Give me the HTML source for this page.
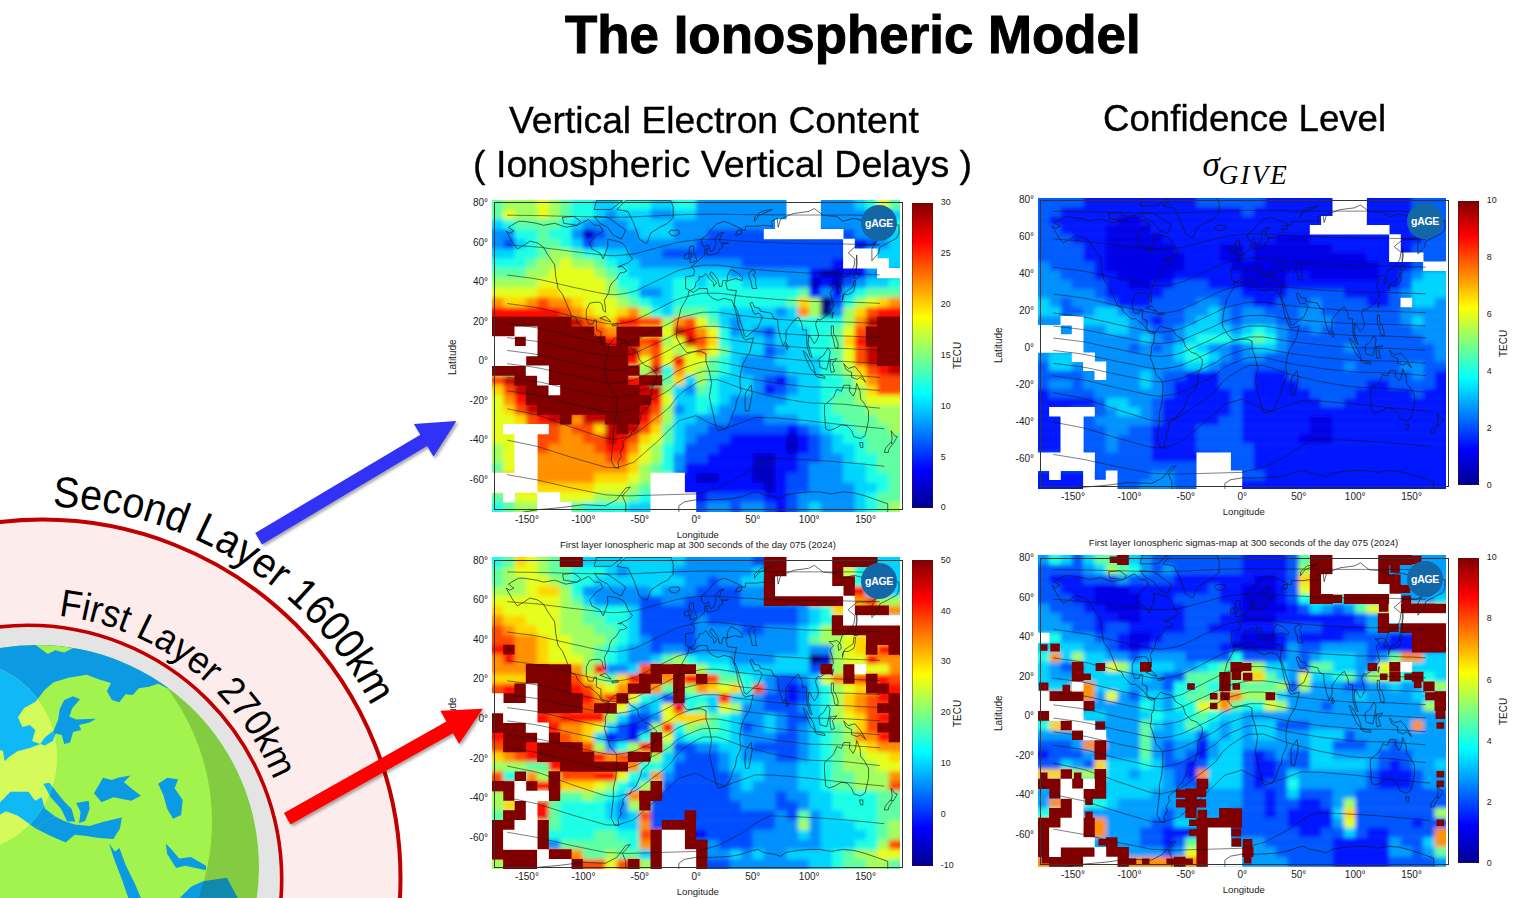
<!DOCTYPE html>
<html><head><meta charset="utf-8"><title>The Ionospheric Model</title>
<style>
html,body{margin:0;padding:0;background:#fff;}
body{width:1528px;height:898px;position:relative;overflow:hidden;font-family:"Liberation Sans",sans-serif;color:#000;}
.t{position:absolute;white-space:nowrap;line-height:1;transform-origin:0 0;}
.hm{position:absolute;display:block;}
.cb{position:absolute;background:linear-gradient(to top,#00008f 0%,#0000ff 12.5%,#00ffff 37.5%,#ffff00 62.5%,#ff0000 87.5%,#800000 100%);}
.ax{position:absolute;border:1px solid #333;box-sizing:border-box;}
.sm{font-size:10px;color:#222;}
.c{transform:translateX(-50%);}
.r{transform:translateX(-100%);}
</style></head><body>

<div class="t " id="t0" style="left:564.5px;top:6.8px;font-size:54px;font-weight:bold;transform:scaleX(0.979);-webkit-text-stroke:1px #000;">The Ionospheric Model</div>
<div class="t " id="t1" style="left:508.5px;top:101.9px;font-size:37.5px;transform:scaleX(0.993);-webkit-text-stroke:0.35px #000;">Vertical Electron Content</div>
<div class="t " id="t2" style="left:472.8px;top:145.5px;font-size:37.5px;transform:scaleX(1.002);-webkit-text-stroke:0.35px #000;">( Ionospheric Vertical Delays )</div>
<div class="t " id="t3" style="left:1102.8px;top:99.9px;font-size:37.5px;transform:scaleX(0.977);-webkit-text-stroke:0.35px #000;">Confidence Level</div>
<div class="t " id="t4" style="left:1202.5px;top:146.8px;font-size:35px;font-family:'Liberation Serif',serif;font-style:italic;"><span style="font-size:35px">&sigma;</span><span style="font-size:27px;position:relative;top:8.5px;left:-1px;letter-spacing:2.2px">GIVE</span></div>
<svg class="hm" style="left:491.5px;top:199.5px" width="408" height="312" viewBox="0 0 408 312">
<defs><filter id="bl1" x="-5%" y="-5%" width="110%" height="110%"><feGaussianBlur stdDeviation="2.2"/></filter><clipPath id="cp1"><rect x="0" y="0" width="408" height="312"/></clipPath></defs>
<g clip-path="url(#cp1)"><g filter="url(#bl1)">
<rect x="-9.1" y="-7.8" width="20.7" height="17.9" fill="#5effa2"/>
<rect x="11.3" y="-7.8" width="34.3" height="17.9" fill="#a2ff5e"/>
<rect x="45.3" y="-7.8" width="11.6" height="17.9" fill="#e5ff1a"/>
<rect x="56.7" y="-7.8" width="11.6" height="17.9" fill="#a2ff5e"/>
<rect x="68.0" y="-7.8" width="11.6" height="17.9" fill="#5effa2"/>
<rect x="79.3" y="-7.8" width="23.0" height="17.9" fill="#1affe5"/>
<rect x="102.0" y="-7.8" width="23.0" height="17.9" fill="#00d4ff"/>
<rect x="124.7" y="-7.8" width="34.3" height="17.9" fill="#1affe5"/>
<rect x="158.7" y="-7.8" width="23.0" height="17.9" fill="#00d4ff"/>
<rect x="181.3" y="-7.8" width="23.0" height="17.9" fill="#1affe5"/>
<rect x="204.0" y="-7.8" width="159.0" height="17.9" fill="#0091ff"/>
<rect x="362.7" y="-7.8" width="11.6" height="17.9" fill="#00d4ff"/>
<rect x="374.0" y="-7.8" width="11.6" height="17.9" fill="#1affe5"/>
<rect x="385.3" y="-7.8" width="11.6" height="17.9" fill="#e5ff1a"/>
<rect x="396.7" y="-7.8" width="20.7" height="17.9" fill="#5effa2"/>
<rect x="-9.1" y="9.8" width="20.7" height="10.1" fill="#5effa2"/>
<rect x="11.3" y="9.8" width="11.6" height="10.1" fill="#e5ff1a"/>
<rect x="22.7" y="9.8" width="23.0" height="10.1" fill="#a2ff5e"/>
<rect x="45.3" y="9.8" width="11.6" height="10.1" fill="#e5ff1a"/>
<rect x="56.7" y="9.8" width="11.6" height="10.1" fill="#a2ff5e"/>
<rect x="68.0" y="9.8" width="11.6" height="10.1" fill="#5effa2"/>
<rect x="79.3" y="9.8" width="23.0" height="10.1" fill="#1affe5"/>
<rect x="102.0" y="9.8" width="11.6" height="10.1" fill="#00d4ff"/>
<rect x="113.3" y="9.8" width="11.6" height="10.1" fill="#0091ff"/>
<rect x="124.7" y="9.8" width="34.3" height="10.1" fill="#00d4ff"/>
<rect x="158.7" y="9.8" width="23.0" height="10.1" fill="#0091ff"/>
<rect x="181.3" y="9.8" width="23.0" height="10.1" fill="#00d4ff"/>
<rect x="204.0" y="9.8" width="170.3" height="10.1" fill="#0091ff"/>
<rect x="374.0" y="9.8" width="43.4" height="10.1" fill="#00d4ff"/>
<rect x="-9.1" y="19.5" width="20.7" height="10.1" fill="#00d4ff"/>
<rect x="11.3" y="19.5" width="11.6" height="10.1" fill="#1affe5"/>
<rect x="22.7" y="19.5" width="45.6" height="10.1" fill="#5effa2"/>
<rect x="68.0" y="19.5" width="11.6" height="10.1" fill="#1affe5"/>
<rect x="79.3" y="19.5" width="11.6" height="10.1" fill="#00d4ff"/>
<rect x="90.7" y="19.5" width="45.6" height="10.1" fill="#0091ff"/>
<rect x="136.0" y="19.5" width="45.6" height="10.1" fill="#00d4ff"/>
<rect x="181.3" y="19.5" width="193.0" height="10.1" fill="#0091ff"/>
<rect x="374.0" y="19.5" width="23.0" height="10.1" fill="#00d4ff"/>
<rect x="396.7" y="19.5" width="20.7" height="10.1" fill="#1affe5"/>
<rect x="-9.1" y="29.2" width="32.0" height="10.1" fill="#0091ff"/>
<rect x="22.7" y="29.2" width="23.0" height="10.1" fill="#1affe5"/>
<rect x="45.3" y="29.2" width="11.6" height="10.1" fill="#5effa2"/>
<rect x="56.7" y="29.2" width="23.0" height="10.1" fill="#1affe5"/>
<rect x="79.3" y="29.2" width="11.6" height="10.1" fill="#0091ff"/>
<rect x="90.7" y="29.2" width="11.6" height="10.1" fill="#0000c3"/>
<rect x="102.0" y="29.2" width="11.6" height="10.1" fill="#004dff"/>
<rect x="113.3" y="29.2" width="34.3" height="10.1" fill="#0091ff"/>
<rect x="147.3" y="29.2" width="34.3" height="10.1" fill="#00d4ff"/>
<rect x="181.3" y="29.2" width="34.3" height="10.1" fill="#0091ff"/>
<rect x="215.3" y="29.2" width="147.6" height="10.1" fill="#004dff"/>
<rect x="362.7" y="29.2" width="23.0" height="10.1" fill="#0091ff"/>
<rect x="385.3" y="29.2" width="32.0" height="10.1" fill="#00d4ff"/>
<rect x="-9.1" y="39.0" width="20.7" height="10.1" fill="#0091ff"/>
<rect x="11.3" y="39.0" width="11.6" height="10.1" fill="#004dff"/>
<rect x="22.7" y="39.0" width="11.6" height="10.1" fill="#00d4ff"/>
<rect x="34.0" y="39.0" width="11.6" height="10.1" fill="#1affe5"/>
<rect x="45.3" y="39.0" width="23.0" height="10.1" fill="#5effa2"/>
<rect x="68.0" y="39.0" width="11.6" height="10.1" fill="#1affe5"/>
<rect x="79.3" y="39.0" width="11.6" height="10.1" fill="#00d4ff"/>
<rect x="90.7" y="39.0" width="11.6" height="10.1" fill="#004dff"/>
<rect x="102.0" y="39.0" width="102.3" height="10.1" fill="#0091ff"/>
<rect x="204.0" y="39.0" width="159.0" height="10.1" fill="#004dff"/>
<rect x="362.7" y="39.0" width="11.6" height="10.1" fill="#0008ff"/>
<rect x="374.0" y="39.0" width="11.6" height="10.1" fill="#004dff"/>
<rect x="385.3" y="39.0" width="11.6" height="10.1" fill="#0091ff"/>
<rect x="396.7" y="39.0" width="20.7" height="10.1" fill="#00d4ff"/>
<rect x="-9.1" y="48.8" width="32.0" height="10.1" fill="#00d4ff"/>
<rect x="22.7" y="48.8" width="23.0" height="10.1" fill="#1affe5"/>
<rect x="45.3" y="48.8" width="11.6" height="10.1" fill="#5effa2"/>
<rect x="56.7" y="48.8" width="23.0" height="10.1" fill="#a2ff5e"/>
<rect x="79.3" y="48.8" width="11.6" height="10.1" fill="#5effa2"/>
<rect x="90.7" y="48.8" width="23.0" height="10.1" fill="#1affe5"/>
<rect x="113.3" y="48.8" width="23.0" height="10.1" fill="#00d4ff"/>
<rect x="136.0" y="48.8" width="34.3" height="10.1" fill="#0091ff"/>
<rect x="170.0" y="48.8" width="204.3" height="10.1" fill="#004dff"/>
<rect x="374.0" y="48.8" width="43.4" height="10.1" fill="#00d4ff"/>
<rect x="-9.1" y="58.5" width="43.4" height="10.1" fill="#1affe5"/>
<rect x="34.0" y="58.5" width="11.6" height="10.1" fill="#5effa2"/>
<rect x="45.3" y="58.5" width="23.0" height="10.1" fill="#a2ff5e"/>
<rect x="68.0" y="58.5" width="11.6" height="10.1" fill="#e5ff1a"/>
<rect x="79.3" y="58.5" width="23.0" height="10.1" fill="#a2ff5e"/>
<rect x="102.0" y="58.5" width="11.6" height="10.1" fill="#5effa2"/>
<rect x="113.3" y="58.5" width="11.6" height="10.1" fill="#1affe5"/>
<rect x="124.7" y="58.5" width="23.0" height="10.1" fill="#00d4ff"/>
<rect x="147.3" y="58.5" width="102.3" height="10.1" fill="#0091ff"/>
<rect x="249.3" y="58.5" width="91.0" height="10.1" fill="#004dff"/>
<rect x="340.0" y="58.5" width="34.3" height="10.1" fill="#0008ff"/>
<rect x="374.0" y="58.5" width="43.4" height="10.1" fill="#00d4ff"/>
<rect x="-9.1" y="68.2" width="43.4" height="10.1" fill="#5effa2"/>
<rect x="34.0" y="68.2" width="23.0" height="10.1" fill="#a2ff5e"/>
<rect x="56.7" y="68.2" width="45.6" height="10.1" fill="#e5ff1a"/>
<rect x="102.0" y="68.2" width="11.6" height="10.1" fill="#a2ff5e"/>
<rect x="113.3" y="68.2" width="11.6" height="10.1" fill="#5effa2"/>
<rect x="124.7" y="68.2" width="11.6" height="10.1" fill="#1affe5"/>
<rect x="136.0" y="68.2" width="102.3" height="10.1" fill="#00d4ff"/>
<rect x="238.0" y="68.2" width="79.6" height="10.1" fill="#0091ff"/>
<rect x="317.3" y="68.2" width="11.6" height="10.1" fill="#0008ff"/>
<rect x="328.7" y="68.2" width="23.0" height="10.1" fill="#0000c3"/>
<rect x="351.3" y="68.2" width="23.0" height="10.1" fill="#0008ff"/>
<rect x="374.0" y="68.2" width="43.4" height="10.1" fill="#0091ff"/>
<rect x="-9.1" y="78.0" width="54.7" height="10.1" fill="#a2ff5e"/>
<rect x="45.3" y="78.0" width="68.3" height="10.1" fill="#e5ff1a"/>
<rect x="113.3" y="78.0" width="11.6" height="10.1" fill="#a2ff5e"/>
<rect x="124.7" y="78.0" width="23.0" height="10.1" fill="#1affe5"/>
<rect x="147.3" y="78.0" width="34.3" height="10.1" fill="#00d4ff"/>
<rect x="181.3" y="78.0" width="23.0" height="10.1" fill="#1affe5"/>
<rect x="204.0" y="78.0" width="11.6" height="10.1" fill="#00d4ff"/>
<rect x="215.3" y="78.0" width="34.3" height="10.1" fill="#1affe5"/>
<rect x="249.3" y="78.0" width="45.6" height="10.1" fill="#00d4ff"/>
<rect x="294.7" y="78.0" width="23.0" height="10.1" fill="#0091ff"/>
<rect x="317.3" y="78.0" width="11.6" height="10.1" fill="#0000c3"/>
<rect x="328.7" y="78.0" width="11.6" height="10.1" fill="#0008ff"/>
<rect x="340.0" y="78.0" width="11.6" height="10.1" fill="#0000c3"/>
<rect x="351.3" y="78.0" width="11.6" height="10.1" fill="#004dff"/>
<rect x="362.7" y="78.0" width="11.6" height="10.1" fill="#0091ff"/>
<rect x="374.0" y="78.0" width="23.0" height="10.1" fill="#00d4ff"/>
<rect x="396.7" y="78.0" width="20.7" height="10.1" fill="#1affe5"/>
<rect x="-9.1" y="87.8" width="54.7" height="10.1" fill="#e5ff1a"/>
<rect x="45.3" y="87.8" width="23.0" height="10.1" fill="#ffd500"/>
<rect x="68.0" y="87.8" width="45.6" height="10.1" fill="#e5ff1a"/>
<rect x="113.3" y="87.8" width="11.6" height="10.1" fill="#a2ff5e"/>
<rect x="124.7" y="87.8" width="11.6" height="10.1" fill="#5effa2"/>
<rect x="136.0" y="87.8" width="11.6" height="10.1" fill="#1affe5"/>
<rect x="147.3" y="87.8" width="23.0" height="10.1" fill="#0091ff"/>
<rect x="170.0" y="87.8" width="11.6" height="10.1" fill="#00d4ff"/>
<rect x="181.3" y="87.8" width="125.0" height="10.1" fill="#1affe5"/>
<rect x="306.0" y="87.8" width="11.6" height="10.1" fill="#5effa2"/>
<rect x="317.3" y="87.8" width="11.6" height="10.1" fill="#0008ff"/>
<rect x="328.7" y="87.8" width="11.6" height="10.1" fill="#0091ff"/>
<rect x="340.0" y="87.8" width="11.6" height="10.1" fill="#0008ff"/>
<rect x="351.3" y="87.8" width="11.6" height="10.1" fill="#00d4ff"/>
<rect x="362.7" y="87.8" width="11.6" height="10.1" fill="#1affe5"/>
<rect x="374.0" y="87.8" width="43.4" height="10.1" fill="#5effa2"/>
<rect x="-9.1" y="97.5" width="20.7" height="10.1" fill="#ff9100"/>
<rect x="11.3" y="97.5" width="23.0" height="10.1" fill="#ffd500"/>
<rect x="34.0" y="97.5" width="11.6" height="10.1" fill="#ff9100"/>
<rect x="45.3" y="97.5" width="11.6" height="10.1" fill="#ff4c00"/>
<rect x="56.7" y="97.5" width="23.0" height="10.1" fill="#ff9100"/>
<rect x="79.3" y="97.5" width="11.6" height="10.1" fill="#ffd500"/>
<rect x="90.7" y="97.5" width="34.3" height="10.1" fill="#e5ff1a"/>
<rect x="124.7" y="97.5" width="11.6" height="10.1" fill="#a2ff5e"/>
<rect x="136.0" y="97.5" width="11.6" height="10.1" fill="#5effa2"/>
<rect x="147.3" y="97.5" width="11.6" height="10.1" fill="#1affe5"/>
<rect x="158.7" y="97.5" width="23.0" height="10.1" fill="#00d4ff"/>
<rect x="181.3" y="97.5" width="113.6" height="10.1" fill="#1affe5"/>
<rect x="294.7" y="97.5" width="11.6" height="10.1" fill="#5effa2"/>
<rect x="306.0" y="97.5" width="11.6" height="10.1" fill="#ffd500"/>
<rect x="317.3" y="97.5" width="11.6" height="10.1" fill="#a2ff5e"/>
<rect x="328.7" y="97.5" width="11.6" height="10.1" fill="#000080"/>
<rect x="340.0" y="97.5" width="11.6" height="10.1" fill="#004dff"/>
<rect x="351.3" y="97.5" width="11.6" height="10.1" fill="#1affe5"/>
<rect x="362.7" y="97.5" width="11.6" height="10.1" fill="#a2ff5e"/>
<rect x="374.0" y="97.5" width="11.6" height="10.1" fill="#e5ff1a"/>
<rect x="385.3" y="97.5" width="11.6" height="10.1" fill="#ffd500"/>
<rect x="396.7" y="97.5" width="20.7" height="10.1" fill="#ff9100"/>
<rect x="-9.1" y="107.2" width="77.4" height="10.1" fill="#ff0800"/>
<rect x="68.0" y="107.2" width="11.6" height="10.1" fill="#ff4c00"/>
<rect x="79.3" y="107.2" width="11.6" height="10.1" fill="#ff9100"/>
<rect x="90.7" y="107.2" width="11.6" height="10.1" fill="#ffd500"/>
<rect x="102.0" y="107.2" width="23.0" height="10.1" fill="#e5ff1a"/>
<rect x="124.7" y="107.2" width="11.6" height="10.1" fill="#ffd500"/>
<rect x="136.0" y="107.2" width="11.6" height="10.1" fill="#ff9100"/>
<rect x="147.3" y="107.2" width="11.6" height="10.1" fill="#a2ff5e"/>
<rect x="158.7" y="107.2" width="11.6" height="10.1" fill="#1affe5"/>
<rect x="170.0" y="107.2" width="11.6" height="10.1" fill="#00d4ff"/>
<rect x="181.3" y="107.2" width="34.3" height="10.1" fill="#5effa2"/>
<rect x="215.3" y="107.2" width="11.6" height="10.1" fill="#1affe5"/>
<rect x="226.7" y="107.2" width="57.0" height="10.1" fill="#00d4ff"/>
<rect x="283.3" y="107.2" width="11.6" height="10.1" fill="#0091ff"/>
<rect x="294.7" y="107.2" width="11.6" height="10.1" fill="#00d4ff"/>
<rect x="306.0" y="107.2" width="11.6" height="10.1" fill="#ff9100"/>
<rect x="317.3" y="107.2" width="11.6" height="10.1" fill="#a2ff5e"/>
<rect x="328.7" y="107.2" width="11.6" height="10.1" fill="#000080"/>
<rect x="340.0" y="107.2" width="11.6" height="10.1" fill="#0091ff"/>
<rect x="351.3" y="107.2" width="11.6" height="10.1" fill="#a2ff5e"/>
<rect x="362.7" y="107.2" width="11.6" height="10.1" fill="#ffd500"/>
<rect x="374.0" y="107.2" width="11.6" height="10.1" fill="#ff4c00"/>
<rect x="385.3" y="107.2" width="32.0" height="10.1" fill="#ff0800"/>
<rect x="-9.1" y="117.0" width="100.0" height="10.1" fill="#c30000"/>
<rect x="90.7" y="117.0" width="11.6" height="10.1" fill="#ff4c00"/>
<rect x="102.0" y="117.0" width="11.6" height="10.1" fill="#ff9100"/>
<rect x="113.3" y="117.0" width="11.6" height="10.1" fill="#ffd500"/>
<rect x="124.7" y="117.0" width="23.0" height="10.1" fill="#ff0800"/>
<rect x="147.3" y="117.0" width="23.0" height="10.1" fill="#ff4c00"/>
<rect x="170.0" y="117.0" width="11.6" height="10.1" fill="#a2ff5e"/>
<rect x="181.3" y="117.0" width="11.6" height="10.1" fill="#ff9100"/>
<rect x="192.7" y="117.0" width="11.6" height="10.1" fill="#ff4c00"/>
<rect x="204.0" y="117.0" width="11.6" height="10.1" fill="#e5ff1a"/>
<rect x="215.3" y="117.0" width="11.6" height="10.1" fill="#5effa2"/>
<rect x="226.7" y="117.0" width="11.6" height="10.1" fill="#00d4ff"/>
<rect x="238.0" y="117.0" width="11.6" height="10.1" fill="#0091ff"/>
<rect x="249.3" y="117.0" width="57.0" height="10.1" fill="#00d4ff"/>
<rect x="306.0" y="117.0" width="45.6" height="10.1" fill="#1affe5"/>
<rect x="351.3" y="117.0" width="11.6" height="10.1" fill="#a2ff5e"/>
<rect x="362.7" y="117.0" width="11.6" height="10.1" fill="#ff9100"/>
<rect x="374.0" y="117.0" width="43.4" height="10.1" fill="#c30000"/>
<rect x="-9.1" y="126.8" width="122.7" height="10.1" fill="#ff4c00"/>
<rect x="113.3" y="126.8" width="34.3" height="10.1" fill="#ff9100"/>
<rect x="147.3" y="126.8" width="34.3" height="10.1" fill="#e5ff1a"/>
<rect x="181.3" y="126.8" width="11.6" height="10.1" fill="#c30000"/>
<rect x="192.7" y="126.8" width="11.6" height="10.1" fill="#ff0800"/>
<rect x="204.0" y="126.8" width="11.6" height="10.1" fill="#ff9100"/>
<rect x="215.3" y="126.8" width="11.6" height="10.1" fill="#e5ff1a"/>
<rect x="226.7" y="126.8" width="11.6" height="10.1" fill="#1affe5"/>
<rect x="238.0" y="126.8" width="11.6" height="10.1" fill="#0091ff"/>
<rect x="249.3" y="126.8" width="11.6" height="10.1" fill="#00d4ff"/>
<rect x="260.7" y="126.8" width="11.6" height="10.1" fill="#0091ff"/>
<rect x="272.0" y="126.8" width="11.6" height="10.1" fill="#004dff"/>
<rect x="283.3" y="126.8" width="34.3" height="10.1" fill="#00d4ff"/>
<rect x="317.3" y="126.8" width="23.0" height="10.1" fill="#1affe5"/>
<rect x="340.0" y="126.8" width="11.6" height="10.1" fill="#5effa2"/>
<rect x="351.3" y="126.8" width="11.6" height="10.1" fill="#e5ff1a"/>
<rect x="362.7" y="126.8" width="54.7" height="10.1" fill="#ff4c00"/>
<rect x="-9.1" y="136.5" width="145.4" height="10.1" fill="#ff0800"/>
<rect x="136.0" y="136.5" width="23.0" height="10.1" fill="#ff4c00"/>
<rect x="158.7" y="136.5" width="11.6" height="10.1" fill="#ff0800"/>
<rect x="170.0" y="136.5" width="11.6" height="10.1" fill="#a2ff5e"/>
<rect x="181.3" y="136.5" width="11.6" height="10.1" fill="#e5ff1a"/>
<rect x="192.7" y="136.5" width="11.6" height="10.1" fill="#c30000"/>
<rect x="204.0" y="136.5" width="11.6" height="10.1" fill="#ff4c00"/>
<rect x="215.3" y="136.5" width="11.6" height="10.1" fill="#ffd500"/>
<rect x="226.7" y="136.5" width="11.6" height="10.1" fill="#1affe5"/>
<rect x="238.0" y="136.5" width="34.3" height="10.1" fill="#00d4ff"/>
<rect x="272.0" y="136.5" width="11.6" height="10.1" fill="#0091ff"/>
<rect x="283.3" y="136.5" width="34.3" height="10.1" fill="#00d4ff"/>
<rect x="317.3" y="136.5" width="23.0" height="10.1" fill="#1affe5"/>
<rect x="340.0" y="136.5" width="11.6" height="10.1" fill="#5effa2"/>
<rect x="351.3" y="136.5" width="11.6" height="10.1" fill="#ffd500"/>
<rect x="362.7" y="136.5" width="54.7" height="10.1" fill="#ff0800"/>
<rect x="-9.1" y="146.2" width="156.7" height="10.1" fill="#c30000"/>
<rect x="147.3" y="146.2" width="11.6" height="10.1" fill="#ff9100"/>
<rect x="158.7" y="146.2" width="11.6" height="10.1" fill="#ff4c00"/>
<rect x="170.0" y="146.2" width="11.6" height="10.1" fill="#e5ff1a"/>
<rect x="181.3" y="146.2" width="11.6" height="10.1" fill="#a2ff5e"/>
<rect x="192.7" y="146.2" width="11.6" height="10.1" fill="#e5ff1a"/>
<rect x="204.0" y="146.2" width="11.6" height="10.1" fill="#ff9100"/>
<rect x="215.3" y="146.2" width="11.6" height="10.1" fill="#e5ff1a"/>
<rect x="226.7" y="146.2" width="11.6" height="10.1" fill="#5effa2"/>
<rect x="238.0" y="146.2" width="34.3" height="10.1" fill="#00d4ff"/>
<rect x="272.0" y="146.2" width="11.6" height="10.1" fill="#004dff"/>
<rect x="283.3" y="146.2" width="11.6" height="10.1" fill="#0091ff"/>
<rect x="294.7" y="146.2" width="23.0" height="10.1" fill="#00d4ff"/>
<rect x="317.3" y="146.2" width="23.0" height="10.1" fill="#1affe5"/>
<rect x="340.0" y="146.2" width="11.6" height="10.1" fill="#5effa2"/>
<rect x="351.3" y="146.2" width="11.6" height="10.1" fill="#e5ff1a"/>
<rect x="362.7" y="146.2" width="11.6" height="10.1" fill="#ff4c00"/>
<rect x="374.0" y="146.2" width="43.4" height="10.1" fill="#c30000"/>
<rect x="-9.1" y="156.0" width="156.7" height="10.1" fill="#ff0800"/>
<rect x="147.3" y="156.0" width="11.6" height="10.1" fill="#e5ff1a"/>
<rect x="158.7" y="156.0" width="11.6" height="10.1" fill="#ff4c00"/>
<rect x="170.0" y="156.0" width="11.6" height="10.1" fill="#e5ff1a"/>
<rect x="181.3" y="156.0" width="11.6" height="10.1" fill="#ff0800"/>
<rect x="192.7" y="156.0" width="23.0" height="10.1" fill="#e5ff1a"/>
<rect x="215.3" y="156.0" width="11.6" height="10.1" fill="#5effa2"/>
<rect x="226.7" y="156.0" width="11.6" height="10.1" fill="#1affe5"/>
<rect x="238.0" y="156.0" width="11.6" height="10.1" fill="#00d4ff"/>
<rect x="249.3" y="156.0" width="34.3" height="10.1" fill="#0091ff"/>
<rect x="283.3" y="156.0" width="45.6" height="10.1" fill="#00d4ff"/>
<rect x="328.7" y="156.0" width="11.6" height="10.1" fill="#1affe5"/>
<rect x="340.0" y="156.0" width="11.6" height="10.1" fill="#5effa2"/>
<rect x="351.3" y="156.0" width="11.6" height="10.1" fill="#e5ff1a"/>
<rect x="362.7" y="156.0" width="11.6" height="10.1" fill="#ff4c00"/>
<rect x="374.0" y="156.0" width="43.4" height="10.1" fill="#c30000"/>
<rect x="-9.1" y="165.8" width="168.0" height="10.1" fill="#a2ff5e"/>
<rect x="158.7" y="165.8" width="11.6" height="10.1" fill="#c30000"/>
<rect x="170.0" y="165.8" width="11.6" height="10.1" fill="#1affe5"/>
<rect x="181.3" y="165.8" width="11.6" height="10.1" fill="#ff9100"/>
<rect x="192.7" y="165.8" width="11.6" height="10.1" fill="#e5ff1a"/>
<rect x="204.0" y="165.8" width="11.6" height="10.1" fill="#a2ff5e"/>
<rect x="215.3" y="165.8" width="11.6" height="10.1" fill="#5effa2"/>
<rect x="226.7" y="165.8" width="11.6" height="10.1" fill="#1affe5"/>
<rect x="238.0" y="165.8" width="11.6" height="10.1" fill="#00d4ff"/>
<rect x="249.3" y="165.8" width="45.6" height="10.1" fill="#0091ff"/>
<rect x="294.7" y="165.8" width="34.3" height="10.1" fill="#00d4ff"/>
<rect x="328.7" y="165.8" width="11.6" height="10.1" fill="#1affe5"/>
<rect x="340.0" y="165.8" width="11.6" height="10.1" fill="#5effa2"/>
<rect x="351.3" y="165.8" width="11.6" height="10.1" fill="#a2ff5e"/>
<rect x="362.7" y="165.8" width="11.6" height="10.1" fill="#ffd500"/>
<rect x="374.0" y="165.8" width="11.6" height="10.1" fill="#ff4c00"/>
<rect x="385.3" y="165.8" width="11.6" height="10.1" fill="#ff0800"/>
<rect x="396.7" y="165.8" width="20.7" height="10.1" fill="#c30000"/>
<rect x="-9.1" y="175.5" width="20.7" height="10.1" fill="#ff4c00"/>
<rect x="11.3" y="175.5" width="68.3" height="10.1" fill="#c30000"/>
<rect x="79.3" y="175.5" width="79.6" height="10.1" fill="#ff0800"/>
<rect x="158.7" y="175.5" width="23.0" height="10.1" fill="#5effa2"/>
<rect x="181.3" y="175.5" width="11.6" height="10.1" fill="#ffd500"/>
<rect x="192.7" y="175.5" width="11.6" height="10.1" fill="#00d4ff"/>
<rect x="204.0" y="175.5" width="11.6" height="10.1" fill="#a2ff5e"/>
<rect x="215.3" y="175.5" width="11.6" height="10.1" fill="#1affe5"/>
<rect x="226.7" y="175.5" width="34.3" height="10.1" fill="#00d4ff"/>
<rect x="260.7" y="175.5" width="11.6" height="10.1" fill="#0091ff"/>
<rect x="272.0" y="175.5" width="11.6" height="10.1" fill="#004dff"/>
<rect x="283.3" y="175.5" width="11.6" height="10.1" fill="#0008ff"/>
<rect x="294.7" y="175.5" width="11.6" height="10.1" fill="#0091ff"/>
<rect x="306.0" y="175.5" width="23.0" height="10.1" fill="#00d4ff"/>
<rect x="328.7" y="175.5" width="23.0" height="10.1" fill="#1affe5"/>
<rect x="351.3" y="175.5" width="11.6" height="10.1" fill="#5effa2"/>
<rect x="362.7" y="175.5" width="11.6" height="10.1" fill="#e5ff1a"/>
<rect x="374.0" y="175.5" width="11.6" height="10.1" fill="#ff9100"/>
<rect x="385.3" y="175.5" width="32.0" height="10.1" fill="#ff4c00"/>
<rect x="-9.1" y="185.2" width="20.7" height="10.1" fill="#ffd500"/>
<rect x="11.3" y="185.2" width="11.6" height="10.1" fill="#ff4c00"/>
<rect x="22.7" y="185.2" width="147.6" height="10.1" fill="#c30000"/>
<rect x="170.0" y="185.2" width="11.6" height="10.1" fill="#a2ff5e"/>
<rect x="181.3" y="185.2" width="11.6" height="10.1" fill="#00d4ff"/>
<rect x="192.7" y="185.2" width="11.6" height="10.1" fill="#0091ff"/>
<rect x="204.0" y="185.2" width="11.6" height="10.1" fill="#5effa2"/>
<rect x="215.3" y="185.2" width="11.6" height="10.1" fill="#1affe5"/>
<rect x="226.7" y="185.2" width="34.3" height="10.1" fill="#00d4ff"/>
<rect x="260.7" y="185.2" width="11.6" height="10.1" fill="#0091ff"/>
<rect x="272.0" y="185.2" width="11.6" height="10.1" fill="#0008ff"/>
<rect x="283.3" y="185.2" width="11.6" height="10.1" fill="#004dff"/>
<rect x="294.7" y="185.2" width="11.6" height="10.1" fill="#0091ff"/>
<rect x="306.0" y="185.2" width="23.0" height="10.1" fill="#00d4ff"/>
<rect x="328.7" y="185.2" width="23.0" height="10.1" fill="#1affe5"/>
<rect x="351.3" y="185.2" width="11.6" height="10.1" fill="#5effa2"/>
<rect x="362.7" y="185.2" width="11.6" height="10.1" fill="#a2ff5e"/>
<rect x="374.0" y="185.2" width="11.6" height="10.1" fill="#ffd500"/>
<rect x="385.3" y="185.2" width="32.0" height="10.1" fill="#ff4c00"/>
<rect x="-9.1" y="195.0" width="20.7" height="10.1" fill="#e5ff1a"/>
<rect x="11.3" y="195.0" width="11.6" height="10.1" fill="#ff9100"/>
<rect x="22.7" y="195.0" width="147.6" height="10.1" fill="#ff0800"/>
<rect x="170.0" y="195.0" width="11.6" height="10.1" fill="#e5ff1a"/>
<rect x="181.3" y="195.0" width="23.0" height="10.1" fill="#00d4ff"/>
<rect x="204.0" y="195.0" width="23.0" height="10.1" fill="#1affe5"/>
<rect x="226.7" y="195.0" width="11.6" height="10.1" fill="#00d4ff"/>
<rect x="238.0" y="195.0" width="57.0" height="10.1" fill="#0091ff"/>
<rect x="294.7" y="195.0" width="34.3" height="10.1" fill="#00d4ff"/>
<rect x="328.7" y="195.0" width="11.6" height="10.1" fill="#1affe5"/>
<rect x="340.0" y="195.0" width="23.0" height="10.1" fill="#5effa2"/>
<rect x="362.7" y="195.0" width="11.6" height="10.1" fill="#a2ff5e"/>
<rect x="374.0" y="195.0" width="43.4" height="10.1" fill="#e5ff1a"/>
<rect x="-9.1" y="204.8" width="20.7" height="10.1" fill="#e5ff1a"/>
<rect x="11.3" y="204.8" width="11.6" height="10.1" fill="#ffd500"/>
<rect x="22.7" y="204.8" width="11.6" height="10.1" fill="#ff4c00"/>
<rect x="34.0" y="204.8" width="125.0" height="10.1" fill="#c30000"/>
<rect x="158.7" y="204.8" width="11.6" height="10.1" fill="#ff4c00"/>
<rect x="170.0" y="204.8" width="11.6" height="10.1" fill="#a2ff5e"/>
<rect x="181.3" y="204.8" width="11.6" height="10.1" fill="#0091ff"/>
<rect x="192.7" y="204.8" width="11.6" height="10.1" fill="#00d4ff"/>
<rect x="204.0" y="204.8" width="11.6" height="10.1" fill="#1affe5"/>
<rect x="215.3" y="204.8" width="11.6" height="10.1" fill="#00d4ff"/>
<rect x="226.7" y="204.8" width="57.0" height="10.1" fill="#0091ff"/>
<rect x="283.3" y="204.8" width="45.6" height="10.1" fill="#00d4ff"/>
<rect x="328.7" y="204.8" width="11.6" height="10.1" fill="#1affe5"/>
<rect x="340.0" y="204.8" width="34.3" height="10.1" fill="#5effa2"/>
<rect x="374.0" y="204.8" width="43.4" height="10.1" fill="#a2ff5e"/>
<rect x="-9.1" y="214.5" width="32.0" height="10.1" fill="#e5ff1a"/>
<rect x="22.7" y="214.5" width="11.6" height="10.1" fill="#ffd500"/>
<rect x="34.0" y="214.5" width="11.6" height="10.1" fill="#ff4c00"/>
<rect x="45.3" y="214.5" width="11.6" height="10.1" fill="#ff0800"/>
<rect x="56.7" y="214.5" width="23.0" height="10.1" fill="#c30000"/>
<rect x="79.3" y="214.5" width="11.6" height="10.1" fill="#ff9100"/>
<rect x="90.7" y="214.5" width="45.6" height="10.1" fill="#c30000"/>
<rect x="136.0" y="214.5" width="23.0" height="10.1" fill="#ff0800"/>
<rect x="158.7" y="214.5" width="11.6" height="10.1" fill="#ff9100"/>
<rect x="170.0" y="214.5" width="11.6" height="10.1" fill="#a2ff5e"/>
<rect x="181.3" y="214.5" width="23.0" height="10.1" fill="#00d4ff"/>
<rect x="204.0" y="214.5" width="34.3" height="10.1" fill="#0091ff"/>
<rect x="238.0" y="214.5" width="34.3" height="10.1" fill="#004dff"/>
<rect x="272.0" y="214.5" width="34.3" height="10.1" fill="#0091ff"/>
<rect x="306.0" y="214.5" width="23.0" height="10.1" fill="#00d4ff"/>
<rect x="328.7" y="214.5" width="23.0" height="10.1" fill="#1affe5"/>
<rect x="351.3" y="214.5" width="34.3" height="10.1" fill="#5effa2"/>
<rect x="385.3" y="214.5" width="32.0" height="10.1" fill="#a2ff5e"/>
<rect x="-9.1" y="224.2" width="43.4" height="10.1" fill="#e5ff1a"/>
<rect x="34.0" y="224.2" width="34.3" height="10.1" fill="#ff4c00"/>
<rect x="68.0" y="224.2" width="11.6" height="10.1" fill="#ff9100"/>
<rect x="79.3" y="224.2" width="23.0" height="10.1" fill="#ff4c00"/>
<rect x="102.0" y="224.2" width="11.6" height="10.1" fill="#ffd500"/>
<rect x="113.3" y="224.2" width="34.3" height="10.1" fill="#c30000"/>
<rect x="147.3" y="224.2" width="11.6" height="10.1" fill="#ff4c00"/>
<rect x="158.7" y="224.2" width="11.6" height="10.1" fill="#ffd500"/>
<rect x="170.0" y="224.2" width="11.6" height="10.1" fill="#5effa2"/>
<rect x="181.3" y="224.2" width="11.6" height="10.1" fill="#00d4ff"/>
<rect x="192.7" y="224.2" width="23.0" height="10.1" fill="#0091ff"/>
<rect x="215.3" y="224.2" width="79.6" height="10.1" fill="#004dff"/>
<rect x="294.7" y="224.2" width="11.6" height="10.1" fill="#0008ff"/>
<rect x="306.0" y="224.2" width="11.6" height="10.1" fill="#004dff"/>
<rect x="317.3" y="224.2" width="11.6" height="10.1" fill="#0091ff"/>
<rect x="328.7" y="224.2" width="11.6" height="10.1" fill="#00d4ff"/>
<rect x="340.0" y="224.2" width="23.0" height="10.1" fill="#1affe5"/>
<rect x="362.7" y="224.2" width="34.3" height="10.1" fill="#5effa2"/>
<rect x="396.7" y="224.2" width="20.7" height="10.1" fill="#a2ff5e"/>
<rect x="-9.1" y="234.0" width="43.4" height="10.1" fill="#e5ff1a"/>
<rect x="34.0" y="234.0" width="34.3" height="10.1" fill="#ff4c00"/>
<rect x="68.0" y="234.0" width="23.0" height="10.1" fill="#ff9100"/>
<rect x="90.7" y="234.0" width="23.0" height="10.1" fill="#ff4c00"/>
<rect x="113.3" y="234.0" width="11.6" height="10.1" fill="#c30000"/>
<rect x="124.7" y="234.0" width="11.6" height="10.1" fill="#ff0800"/>
<rect x="136.0" y="234.0" width="11.6" height="10.1" fill="#ff4c00"/>
<rect x="147.3" y="234.0" width="11.6" height="10.1" fill="#ffd500"/>
<rect x="158.7" y="234.0" width="11.6" height="10.1" fill="#e5ff1a"/>
<rect x="170.0" y="234.0" width="11.6" height="10.1" fill="#5effa2"/>
<rect x="181.3" y="234.0" width="11.6" height="10.1" fill="#00d4ff"/>
<rect x="192.7" y="234.0" width="11.6" height="10.1" fill="#0091ff"/>
<rect x="204.0" y="234.0" width="34.3" height="10.1" fill="#004dff"/>
<rect x="238.0" y="234.0" width="57.0" height="10.1" fill="#0008ff"/>
<rect x="294.7" y="234.0" width="11.6" height="10.1" fill="#0000c3"/>
<rect x="306.0" y="234.0" width="11.6" height="10.1" fill="#0008ff"/>
<rect x="317.3" y="234.0" width="11.6" height="10.1" fill="#004dff"/>
<rect x="328.7" y="234.0" width="11.6" height="10.1" fill="#0091ff"/>
<rect x="340.0" y="234.0" width="11.6" height="10.1" fill="#00d4ff"/>
<rect x="351.3" y="234.0" width="23.0" height="10.1" fill="#1affe5"/>
<rect x="374.0" y="234.0" width="43.4" height="10.1" fill="#5effa2"/>
<rect x="-9.1" y="243.8" width="20.7" height="10.1" fill="#a2ff5e"/>
<rect x="11.3" y="243.8" width="23.0" height="10.1" fill="#e5ff1a"/>
<rect x="34.0" y="243.8" width="23.0" height="10.1" fill="#ff4c00"/>
<rect x="56.7" y="243.8" width="45.6" height="10.1" fill="#ff9100"/>
<rect x="102.0" y="243.8" width="11.6" height="10.1" fill="#ff4c00"/>
<rect x="113.3" y="243.8" width="23.0" height="10.1" fill="#ff0800"/>
<rect x="136.0" y="243.8" width="11.6" height="10.1" fill="#ff9100"/>
<rect x="147.3" y="243.8" width="11.6" height="10.1" fill="#e5ff1a"/>
<rect x="158.7" y="243.8" width="11.6" height="10.1" fill="#a2ff5e"/>
<rect x="170.0" y="243.8" width="11.6" height="10.1" fill="#1affe5"/>
<rect x="181.3" y="243.8" width="11.6" height="10.1" fill="#00d4ff"/>
<rect x="192.7" y="243.8" width="34.3" height="10.1" fill="#004dff"/>
<rect x="226.7" y="243.8" width="68.3" height="10.1" fill="#0008ff"/>
<rect x="294.7" y="243.8" width="11.6" height="10.1" fill="#0000c3"/>
<rect x="306.0" y="243.8" width="11.6" height="10.1" fill="#0008ff"/>
<rect x="317.3" y="243.8" width="11.6" height="10.1" fill="#004dff"/>
<rect x="328.7" y="243.8" width="11.6" height="10.1" fill="#0091ff"/>
<rect x="340.0" y="243.8" width="23.0" height="10.1" fill="#00d4ff"/>
<rect x="362.7" y="243.8" width="11.6" height="10.1" fill="#1affe5"/>
<rect x="374.0" y="243.8" width="43.4" height="10.1" fill="#5effa2"/>
<rect x="-9.1" y="253.5" width="20.7" height="10.1" fill="#a2ff5e"/>
<rect x="11.3" y="253.5" width="23.0" height="10.1" fill="#e5ff1a"/>
<rect x="34.0" y="253.5" width="79.6" height="10.1" fill="#ff9100"/>
<rect x="113.3" y="253.5" width="23.0" height="10.1" fill="#ff4c00"/>
<rect x="136.0" y="253.5" width="11.6" height="10.1" fill="#ffd500"/>
<rect x="147.3" y="253.5" width="11.6" height="10.1" fill="#e5ff1a"/>
<rect x="158.7" y="253.5" width="11.6" height="10.1" fill="#a2ff5e"/>
<rect x="170.0" y="253.5" width="11.6" height="10.1" fill="#1affe5"/>
<rect x="181.3" y="253.5" width="11.6" height="10.1" fill="#0091ff"/>
<rect x="192.7" y="253.5" width="23.0" height="10.1" fill="#004dff"/>
<rect x="215.3" y="253.5" width="45.6" height="10.1" fill="#0008ff"/>
<rect x="260.7" y="253.5" width="23.0" height="10.1" fill="#0000c3"/>
<rect x="283.3" y="253.5" width="23.0" height="10.1" fill="#0008ff"/>
<rect x="306.0" y="253.5" width="23.0" height="10.1" fill="#004dff"/>
<rect x="328.7" y="253.5" width="23.0" height="10.1" fill="#0091ff"/>
<rect x="351.3" y="253.5" width="11.6" height="10.1" fill="#00d4ff"/>
<rect x="362.7" y="253.5" width="23.0" height="10.1" fill="#1affe5"/>
<rect x="385.3" y="253.5" width="32.0" height="10.1" fill="#5effa2"/>
<rect x="-9.1" y="263.2" width="20.7" height="10.1" fill="#5effa2"/>
<rect x="11.3" y="263.2" width="23.0" height="10.1" fill="#e5ff1a"/>
<rect x="34.0" y="263.2" width="102.3" height="10.1" fill="#ff9100"/>
<rect x="136.0" y="263.2" width="11.6" height="10.1" fill="#ffd500"/>
<rect x="147.3" y="263.2" width="11.6" height="10.1" fill="#a2ff5e"/>
<rect x="158.7" y="263.2" width="11.6" height="10.1" fill="#5effa2"/>
<rect x="170.0" y="263.2" width="11.6" height="10.1" fill="#1affe5"/>
<rect x="181.3" y="263.2" width="11.6" height="10.1" fill="#0091ff"/>
<rect x="192.7" y="263.2" width="68.3" height="10.1" fill="#0008ff"/>
<rect x="260.7" y="263.2" width="23.0" height="10.1" fill="#0000c3"/>
<rect x="283.3" y="263.2" width="23.0" height="10.1" fill="#0008ff"/>
<rect x="306.0" y="263.2" width="11.6" height="10.1" fill="#004dff"/>
<rect x="317.3" y="263.2" width="34.3" height="10.1" fill="#0091ff"/>
<rect x="351.3" y="263.2" width="23.0" height="10.1" fill="#00d4ff"/>
<rect x="374.0" y="263.2" width="11.6" height="10.1" fill="#1affe5"/>
<rect x="385.3" y="263.2" width="32.0" height="10.1" fill="#5effa2"/>
<rect x="-9.1" y="273.0" width="111.4" height="10.1" fill="#ff9100"/>
<rect x="102.0" y="273.0" width="34.3" height="10.1" fill="#ffd500"/>
<rect x="136.0" y="273.0" width="11.6" height="10.1" fill="#e5ff1a"/>
<rect x="147.3" y="273.0" width="34.3" height="10.1" fill="#a2ff5e"/>
<rect x="181.3" y="273.0" width="23.0" height="10.1" fill="#0008ff"/>
<rect x="204.0" y="273.0" width="23.0" height="10.1" fill="#0000c3"/>
<rect x="226.7" y="273.0" width="34.3" height="10.1" fill="#0008ff"/>
<rect x="260.7" y="273.0" width="23.0" height="10.1" fill="#0000c3"/>
<rect x="283.3" y="273.0" width="11.6" height="10.1" fill="#0008ff"/>
<rect x="294.7" y="273.0" width="23.0" height="10.1" fill="#004dff"/>
<rect x="317.3" y="273.0" width="34.3" height="10.1" fill="#0091ff"/>
<rect x="351.3" y="273.0" width="23.0" height="10.1" fill="#00d4ff"/>
<rect x="374.0" y="273.0" width="23.0" height="10.1" fill="#1affe5"/>
<rect x="396.7" y="273.0" width="20.7" height="10.1" fill="#5effa2"/>
<rect x="-9.1" y="282.8" width="111.4" height="10.1" fill="#ffd500"/>
<rect x="102.0" y="282.8" width="34.3" height="10.1" fill="#e5ff1a"/>
<rect x="136.0" y="282.8" width="11.6" height="10.1" fill="#a2ff5e"/>
<rect x="147.3" y="282.8" width="34.3" height="10.1" fill="#5effa2"/>
<rect x="181.3" y="282.8" width="91.0" height="10.1" fill="#0008ff"/>
<rect x="272.0" y="282.8" width="11.6" height="10.1" fill="#0000c3"/>
<rect x="283.3" y="282.8" width="11.6" height="10.1" fill="#0008ff"/>
<rect x="294.7" y="282.8" width="23.0" height="10.1" fill="#004dff"/>
<rect x="317.3" y="282.8" width="45.6" height="10.1" fill="#0091ff"/>
<rect x="362.7" y="282.8" width="23.0" height="10.1" fill="#00d4ff"/>
<rect x="385.3" y="282.8" width="11.6" height="10.1" fill="#1affe5"/>
<rect x="396.7" y="282.8" width="20.7" height="10.1" fill="#5effa2"/>
<rect x="-9.1" y="292.5" width="32.0" height="10.1" fill="#5effa2"/>
<rect x="22.7" y="292.5" width="79.6" height="10.1" fill="#e5ff1a"/>
<rect x="102.0" y="292.5" width="34.3" height="10.1" fill="#a2ff5e"/>
<rect x="136.0" y="292.5" width="11.6" height="10.1" fill="#5effa2"/>
<rect x="147.3" y="292.5" width="34.3" height="10.1" fill="#1affe5"/>
<rect x="181.3" y="292.5" width="34.3" height="10.1" fill="#0008ff"/>
<rect x="215.3" y="292.5" width="57.0" height="10.1" fill="#004dff"/>
<rect x="272.0" y="292.5" width="23.0" height="10.1" fill="#0008ff"/>
<rect x="294.7" y="292.5" width="11.6" height="10.1" fill="#004dff"/>
<rect x="306.0" y="292.5" width="57.0" height="10.1" fill="#0091ff"/>
<rect x="362.7" y="292.5" width="11.6" height="10.1" fill="#00d4ff"/>
<rect x="374.0" y="292.5" width="11.6" height="10.1" fill="#1affe5"/>
<rect x="385.3" y="292.5" width="32.0" height="10.1" fill="#5effa2"/>
<rect x="-9.1" y="302.2" width="20.7" height="17.9" fill="#1affe5"/>
<rect x="11.3" y="302.2" width="11.6" height="17.9" fill="#5effa2"/>
<rect x="22.7" y="302.2" width="45.6" height="17.9" fill="#a2ff5e"/>
<rect x="68.0" y="302.2" width="23.0" height="17.9" fill="#5effa2"/>
<rect x="90.7" y="302.2" width="45.6" height="17.9" fill="#1affe5"/>
<rect x="136.0" y="302.2" width="45.6" height="17.9" fill="#00d4ff"/>
<rect x="181.3" y="302.2" width="34.3" height="17.9" fill="#004dff"/>
<rect x="215.3" y="302.2" width="23.0" height="17.9" fill="#0091ff"/>
<rect x="238.0" y="302.2" width="11.6" height="17.9" fill="#004dff"/>
<rect x="249.3" y="302.2" width="23.0" height="17.9" fill="#0091ff"/>
<rect x="272.0" y="302.2" width="11.6" height="17.9" fill="#004dff"/>
<rect x="283.3" y="302.2" width="11.6" height="17.9" fill="#0008ff"/>
<rect x="294.7" y="302.2" width="11.6" height="17.9" fill="#004dff"/>
<rect x="306.0" y="302.2" width="11.6" height="17.9" fill="#0091ff"/>
<rect x="317.3" y="302.2" width="11.6" height="17.9" fill="#00d4ff"/>
<rect x="328.7" y="302.2" width="34.3" height="17.9" fill="#0091ff"/>
<rect x="362.7" y="302.2" width="11.6" height="17.9" fill="#00d4ff"/>
<rect x="374.0" y="302.2" width="11.6" height="17.9" fill="#1affe5"/>
<rect x="385.3" y="302.2" width="11.6" height="17.9" fill="#5effa2"/>
<rect x="396.7" y="302.2" width="20.7" height="17.9" fill="#a2ff5e"/>
</g>
<path fill="#800000" d="M-0.2 116.8h79.7v10.2h-79.7zM385.1 116.8h23.1v10.2h-23.1zM-0.2 126.5h23.1v10.2h-23.1zM45.1 126.5h57.1v10.2h-57.1zM124.5 126.5h45.7v10.2h-45.7zM373.8 126.5h34.4v10.2h-34.4zM22.5 136.3h11.7v10.2h-11.7zM45.1 136.3h68.4v10.2h-68.4zM124.5 136.3h23.1v10.2h-23.1zM373.8 136.3h34.4v10.2h-34.4zM45.1 146.1h91.1v10.2h-91.1zM385.1 146.1h23.1v10.2h-23.1zM33.8 155.8h102.4v10.2h-102.4zM385.1 155.8h23.1v10.2h-23.1zM-0.2 165.6h34.4v10.2h-34.4zM56.5 165.6h91.1v10.2h-91.1zM22.5 175.3h23.1v10.2h-23.1zM56.5 175.3h79.7v10.2h-79.7zM147.1 175.3h23.1v10.2h-23.1zM33.8 185.1h23.1v10.2h-23.1zM67.8 185.1h79.7v10.2h-79.7zM33.8 194.8h125.1v10.2h-125.1zM45.1 204.6h102.4v10.2h-102.4zM67.8 214.3h11.7v10.2h-11.7zM113.1 214.3h34.4v10.2h-34.4zM124.5 224.1h11.7v10.2h-11.7z"/>
<path fill="#fff" d="M294.5 -0.2h34.4v10.2h-34.4zM294.5 9.6h34.4v10.2h-34.4zM283.1 19.3h45.7v10.2h-45.7zM271.8 29.1h79.7v10.2h-79.7zM351.1 38.8h11.7v10.2h-11.7zM351.1 48.5h34.4v10.2h-34.4zM351.1 58.3h45.7v10.2h-45.7zM385.1 68.0h23.1v10.2h-23.1zM22.5 126.5h23.1v10.2h-23.1zM-0.2 136.3h23.1v10.2h-23.1zM33.8 136.3h11.7v10.2h-11.7zM-0.2 146.1h45.7v10.2h-45.7zM-0.2 155.8h34.4v10.2h-34.4zM33.8 165.6h23.1v10.2h-23.1zM45.1 175.3h11.7v10.2h-11.7zM56.5 185.1h11.7v10.2h-11.7zM11.1 224.1h45.7v10.2h-45.7zM22.5 233.8h23.1v10.2h-23.1zM22.5 243.6h23.1v10.2h-23.1zM22.5 253.3h23.1v10.2h-23.1zM22.5 263.1h23.1v10.2h-23.1zM-0.2 272.8h45.7v10.2h-45.7zM158.5 272.8h34.4v10.2h-34.4zM-0.2 282.6h45.7v10.2h-45.7zM158.5 282.6h34.4v10.2h-34.4zM11.1 292.3h11.7v10.2h-11.7zM45.1 292.3h23.1v10.2h-23.1zM158.5 292.3h45.7v10.2h-45.7zM45.1 302.1h34.4v10.2h-34.4zM158.5 302.1h45.7v10.2h-45.7z"/>
<defs><g id="geo" fill="none" stroke="#151515" vector-effect="non-scaling-stroke">
<path vector-effect="non-scaling-stroke" stroke-width="0.8" stroke-opacity="0.8" d="M-168 66.0 L-162 60.0 L-158 57.0 L-152 59.0 L-147 61.0 L-140 60.0 L-135 58.0 L-131 54.0 L-125 49.0 L-124 43.0 L-122 37.0 L-118 34.0 L-115 30.0 L-110 23.0 L-106 22.0 L-105 20.0 L-98 16.0 L-94 16.0 L-90 14.0 L-86 12.0 L-83 9.0 L-80 8.0 L-77 8.5 L-82 9.5 L-84 11.0 L-84 15.0 L-88 16.0 L-88 21.0 L-90 21.0 L-91 19.0 L-95 19.0 L-97 22.0 L-97 26.0 L-94 29.5 L-90 30.0 L-85 30.0 L-83 29.0 L-82 26.0 L-80 25.0 L-80 27.0 L-81 31.0 L-77 35.0 L-76 38.0 L-74 40.0 L-70 42.0 L-67 45.0 L-64 45.0 L-61 46.0 L-65 48.0 L-69 48.0 L-60 50.0 L-56 52.0 L-60 55.0 L-62 58.0 L-65 60.0 L-70 61.0 L-78 62.0 L-78 58.0 L-80 55.0 L-82 52.0 L-85 55.0 L-92 57.0 L-94 60.0 L-88 64.0 L-82 66.0 L-85 69.0 L-90 69.0 L-95 72.0 L-105 69.0 L-115 68.0 L-125 70.0 L-135 69.0 L-141 70.0 L-152 71.0 L-157 71.0 L-163 69.0 L-166 68.0 L-161 66.0 L-165 65.0 L-168 66.0 M-45 60.0 L-50 62.0 L-53 67.0 L-55 70.0 L-60 76.0 L-70 77.0 L-62 81.5 L-22 81.5 L-20 78.0 L-20 73.0 L-25 70.0 L-32 68.0 L-40 65.0 L-43 60.0 L-45 60.0 M-77 8.5 L-72 12.0 L-67 11.0 L-62 10.5 L-58 7.0 L-52 5.0 L-50 1.0 L-45 -2.0 L-40 -3.0 L-35 -6.0 L-35 -9.0 L-39 -14.0 L-39 -18.0 L-42 -23.0 L-48 -26.0 L-49 -29.0 L-53 -34.0 L-57 -36.0 L-58 -38.0 L-62 -39.0 L-65 -41.0 L-64 -43.0 L-67 -46.0 L-66 -48.0 L-69 -51.0 L-68 -54.0 L-72 -53.5 L-75 -50.0 L-74 -45.0 L-73 -40.0 L-73 -35.0 L-71 -30.0 L-70 -25.0 L-70 -18.0 L-76 -14.0 L-79 -8.0 L-81 -5.0 L-80 -2.0 L-80 1.0 L-78 3.0 L-77 8.5 M-6 36.0 L-2 35.0 L3 37.0 L10 37.0 L11 34.0 L15 32.0 L20 31.0 L25 32.0 L32 31.0 L34 28.0 L36 24.0 L38 18.0 L42 12.0 L44 11.0 L51 12.0 L48 5.0 L42 -1.0 L40 -5.0 L39 -10.0 L40 -15.0 L36 -20.0 L35 -24.0 L33 -26.0 L31 -30.0 L27 -34.0 L20 -35.0 L18 -33.0 L16 -28.0 L12 -18.0 L14 -11.0 L12 -5.0 L9 0.0 L9 4.0 L5 5.0 L-2 5.0 L-8 4.5 L-13 8.0 L-17 12.0 L-17 15.0 L-16 20.0 L-13 27.0 L-10 30.0 L-7 33.0 L-6 36.0 M-9 37.0 L-9 43.0 L-2 43.5 L-1 46.0 L-4 48.0 L2 51.0 L4 52.0 L8 54.0 L8 57.0 L10 57.5 L10 54.0 L14 54.0 L20 55.0 L21 57.0 L24 58.0 L23 59.5 L29 60.0 L23 60.0 L21 61.0 L22 64.0 L25 65.5 L21 65.0 L17 62.0 L18 60.0 L16 56.5 L13 55.5 L11 59.0 L7 58.0 L5 60.0 L5 62.0 L10 64.0 L14 67.0 L18 69.5 L25 71.0 L30 70.0 L41 67.0 L40 64.5 L35 64.0 L37 66.5 L44 66.5 L44 68.5 L54 68.5 L60 69.0 L68 68.5 L67 71.0 L72 72.5 L73 68.0 L75 72.0 L80 73.5 L87 75.0 L100 76.0 L105 77.5 L113 74.0 L125 73.5 L130 71.0 L140 72.5 L150 71.0 L160 69.5 L170 70.0 L180 69.0 L180 65.0 L178 62.5 L170 60.0 L163 58.0 L162 55.0 L156 51.0 L156 57.0 L160 61.0 L155 59.0 L143 59.0 L135 55.0 L141 52.0 L140 48.0 L135 43.5 L130 42.5 L128 39.0 L126 37.0 L126.5 34.5 L129 35.5 L128 38.0 L125 39.5 L121 39.0 L118 39.0 L122 37.0 L119 35.0 L121 31.0 L122 28.0 L118 24.5 L114 22.5 L110 21.0 L108 21.5 L106 19.0 L109 13.0 L107 10.5 L105 9.0 L102 12.0 L100 13.5 L99.5 9.0 L103 2.0 L101 3.0 L98.5 8.0 L98 16.0 L94.5 16.0 L94 19.0 L91 22.5 L88 21.5 L85 19.5 L80 15.5 L80 11.0 L77.5 8.0 L75 12.0 L73 17.0 L72.5 21.0 L69 22.0 L67 24.5 L62 25.0 L57 25.5 L56.5 27.0 L52 27.5 L50 30.0 L48 29.5 L51 25.0 L52 24.0 L56 24.5 L59 22.5 L55 17.0 L52 16.0 L45 12.5 L43 13.0 L42 16.0 L39 21.0 L37 25.0 L35 28.0 L34 28.0 L34.5 31.5 L36 36.0 L33 36.0 L28 36.5 L27 39.0 L26.5 40.0 L29 41.0 L35 42.0 L41 41.0 L41.5 42.5 L37 45.0 L33 46.0 L31 46.5 L28 43.5 L28 41.0 L24 41.0 L23 38.0 L21 38.0 L19.5 41.5 L15 45.0 L13.5 45.5 L12.5 44.0 L16 41.5 L18.5 40.0 L16 38.0 L15.5 40.0 L12 42.0 L9 44.5 L6 43.0 L3 43.0 L3 41.5 L0 40.0 L-0.5 38.0 L-2 36.8 L-5 36.0 L-9 37.0 M114 -22.0 L114 -26.0 L115 -34.0 L118 -35.0 L123 -34.0 L129 -32.0 L134 -32.5 L138 -35.0 L140 -38.0 L146 -39.0 L150 -37.5 L153 -30.0 L153 -25.0 L149 -21.0 L146 -19.0 L145.5 -15.0 L142.5 -11.0 L141.5 -15.0 L139.5 -17.5 L136 -15.0 L136.5 -12.0 L131 -12.0 L129 -15.0 L125 -14.0 L122 -18.0 L114 -22.0 M49 -12.0 L50 -16.0 L47 -25.0 L44 -25.0 L43.5 -21.0 L44 -16.0 L49 -12.0 M-5 50.0 L1 51.0 L0 53.0 L-2 56.0 L-2 58.5 L-5 58.5 L-6 56.0 L-3 54.0 L-5 52.0 L-5 50.0 M-6 52.0 L-6 55.0 L-10 54.0 L-10 52.0 L-6 52.0 M-24 65.5 L-22 64.0 L-18 63.5 L-14 65.0 L-15 66.5 L-22 66.5 L-24 65.5 M130 31.0 L131 34.0 L135 34.0 L140 35.5 L141 38.0 L141.5 41.0 L140 41.0 L139.5 38.0 L136 36.5 L132 35.0 L130 33.0 L130 31.0 M140 42.0 L143 42.0 L145.5 43.5 L142 45.5 L140 42.0 M109 1.0 L110 2.0 L113 3.0 L117 7.0 L119 5.0 L118 1.0 L116 -4.0 L110 -3.0 L109 1.0 M95 5.5 L98 4.0 L104 -2.0 L106 -6.0 L102 -4.0 L98 1.0 L95 5.5 M105 -6.5 L108 -6.5 L114 -7.5 L114.5 -8.5 L108 -7.8 L105 -6.5 M119 1.0 L121 1.0 L125 1.5 L121 -1.0 L123 -5.0 L120 -5.5 L119 -3.0 L119 1.0 M131 -1.0 L135 -3.5 L141 -2.5 L146 -6.0 L150.5 -10.5 L146 -8.0 L143 -9.0 L138 -8.0 L138 -5.5 L133 -4.0 L131 -1.0 M173 -35.0 L176 -37.5 L178.5 -38.0 L175 -41.5 L173 -41.0 L174 -39.0 L173 -35.0 M172.5 -41.0 L174 -42.0 L171 -44.5 L170.5 -46.0 L167 -46.0 L168 -44.0 L172.5 -41.0 M120 18.0 L122 18.0 L122 14.0 L124 12.5 L126 9.0 L126 6.5 L123 7.5 L122 11.0 L120 14.0 L120 18.0 M-180 -78.0 L-160 -77.0 L-140 -75.0 L-120 -74.0 L-100 -72.5 L-80 -73.0 L-70 -70.0 L-62 -64.0 L-58 -63.5 L-62 -66.0 L-65 -68.0 L-62 -72.0 L-62 -77.0 M-15 -77.0 L-15 -73.0 L-10 -71.0 L0 -70.0 L15 -70.0 L30 -69.5 L40 -68.5 L50 -66.5 L55 -66.0 L60 -67.5 L70 -68.5 L75 -69.5 L80 -67.5 L90 -66.5 L100 -66.0 L110 -66.0 L120 -67.0 L130 -66.0 L140 -66.5 L150 -68.0 L160 -70.0 L165 -71.0 L170 -72.0 L170 -77.0 M-62 66.5 L-68 69.0 L-78 73.0 L-90 73.5 L-85 70.0 L-78 68.0 L-73 64.0 L-66 62.0 L-62 66.5 M-105 69.0 L-117 70.0 L-118 73.0 L-108 73.5 L-102 71.0 L-105 69.0 M-75 77.0 L-90 77.0 L-88 81.5 L-65 81.5 L-75 77.0 M52 71.0 L56 74.0 L68 77.0 L58 76.0 L52 73.0 L52 71.0 M142 46.0 L143 50.0 L142.5 54.0 L142 46.0 M-85 22.0 L-80 23.0 L-75 20.0 L-78 20.5 L-85 22.0 M-74 19.0 L-69 19.5 L-68.5 18.5 L-74 18.0 L-74 19.0 M47 45.0 L51 46.5 L53 45.0 L51 44.0 L53 42.0 L53 39.0 L54 37.0 L50 37.0 L49 40.5 L47 43.0 L47 45.0 M145 -41.0 L148 -41.0 L148 -43.5 L146 -43.5 L145 -41.0 M80 9.5 L82 7.5 L81 6.0 L80 7.0 L80 9.5 M120.5 22.5 L121.8 25.0 L121 22.0 L120.5 22.5"/>
<path vector-effect="non-scaling-stroke" stroke-width="0.9" stroke-opacity="0.6" stroke-linejoin="round" d="M-167 74.1 L-161 74.1 L-155 74.0 L-149 74.0 L-143 73.9 L-137 73.9 L-131 73.8 L-125 73.7 L-119 73.6 L-113 73.5 L-107 73.5 L-101 73.4 L-95 73.3 L-89 73.2 L-83 73.2 L-77 73.1 L-71 73.1 L-65 73.1 L-59 73.2 L-53 73.3 L-47 73.5 L-41 73.6 L-35 73.8 L-29 74.0 L-23 74.1 L-17 74.3 L-11 74.4 L-5 74.5 L1 74.5 L7 74.6 L13 74.6 L19 74.6 L25 74.6 L31 74.5 L37 74.5 L43 74.4 L49 74.4 L55 74.4 L61 74.3 L67 74.3 L73 74.3 L79 74.3 L85 74.2 L91 74.2 L97 74.2 L103 74.2 L109 74.2 L115 74.2 L121 74.2 L127 74.2 L133 74.2 L139 74.2 L145 74.1 L151 74.1 L157 74.1 L163 74.1 M-167 59.1 L-161 58.9 L-155 58.6 L-149 58.4 L-143 58.1 L-137 57.8 L-131 57.3 L-125 56.9 L-119 56.5 L-113 56.0 L-107 55.6 L-101 55.2 L-95 54.8 L-89 54.4 L-83 54.0 L-77 53.7 L-71 53.6 L-65 53.9 L-59 54.2 L-53 54.7 L-47 55.6 L-41 56.5 L-35 57.5 L-29 58.4 L-23 59.3 L-17 60.2 L-11 60.8 L-5 61.2 L1 61.6 L7 61.9 L13 61.9 L19 61.9 L25 61.6 L31 61.4 L37 61.1 L43 60.9 L49 60.8 L55 60.6 L61 60.4 L67 60.3 L73 60.1 L79 60.0 L85 59.9 L91 59.8 L97 59.7 L103 59.6 L109 59.6 L115 59.6 L121 59.6 L127 59.6 L133 59.5 L139 59.4 L145 59.4 L151 59.3 L157 59.2 L163 59.1 M-167 43.8 L-161 43.4 L-155 42.9 L-149 42.5 L-143 42.0 L-137 41.4 L-131 40.6 L-125 39.8 L-119 39.0 L-113 38.2 L-107 37.4 L-101 36.7 L-95 35.9 L-89 35.2 L-83 34.5 L-77 34.0 L-71 33.8 L-65 34.3 L-59 34.9 L-53 35.8 L-47 37.5 L-41 39.1 L-35 40.8 L-29 42.4 L-23 44.1 L-17 45.8 L-11 46.8 L-5 47.5 L1 48.3 L7 48.8 L13 48.8 L19 48.8 L25 48.4 L31 48.0 L37 47.5 L43 47.1 L49 46.8 L55 46.5 L61 46.2 L67 45.9 L73 45.7 L79 45.5 L85 45.3 L91 45.1 L97 44.9 L103 44.8 L109 44.7 L115 44.7 L121 44.7 L127 44.6 L133 44.5 L139 44.4 L145 44.3 L151 44.1 L157 44.0 L163 43.9 M-167 29.4 L-161 28.9 L-155 28.5 L-149 28.0 L-143 27.5 L-137 26.9 L-131 26.0 L-125 25.2 L-119 24.4 L-113 23.5 L-107 22.7 L-101 21.9 L-95 21.2 L-89 20.4 L-83 19.6 L-77 19.1 L-71 18.9 L-65 19.4 L-59 20.1 L-53 21.1 L-47 22.8 L-41 24.5 L-35 26.2 L-29 28.0 L-23 29.7 L-17 31.4 L-11 32.5 L-5 33.3 L1 34.1 L7 34.6 L13 34.6 L19 34.6 L25 34.3 L31 33.8 L37 33.3 L43 32.9 L49 32.6 L55 32.3 L61 32.0 L67 31.7 L73 31.4 L79 31.2 L85 31.0 L91 30.8 L97 30.6 L103 30.4 L109 30.4 L115 30.3 L121 30.3 L127 30.3 L133 30.2 L139 30.0 L145 29.9 L151 29.8 L157 29.6 L163 29.5 M-167 19.2 L-161 18.7 L-155 18.3 L-149 17.8 L-143 17.3 L-137 16.7 L-131 15.8 L-125 15.0 L-119 14.2 L-113 13.3 L-107 12.5 L-101 11.7 L-95 11.0 L-89 10.2 L-83 9.4 L-77 8.9 L-71 8.7 L-65 9.2 L-59 9.9 L-53 10.9 L-47 12.6 L-41 14.3 L-35 16.1 L-29 17.8 L-23 19.5 L-17 21.5 L-11 22.7 L-5 23.5 L1 24.4 L7 25.0 L13 25.0 L19 25.0 L25 24.5 L31 24.0 L37 23.5 L43 23.1 L49 22.7 L55 22.4 L61 22.0 L67 21.7 L73 21.4 L79 21.2 L85 20.9 L91 20.7 L97 20.5 L103 20.3 L109 20.3 L115 20.2 L121 20.2 L127 20.1 L133 20.0 L139 19.9 L145 19.7 L151 19.6 L157 19.4 L163 19.3 M-167 12.1 L-161 11.7 L-155 11.3 L-149 10.8 L-143 10.4 L-137 9.8 L-131 9.1 L-125 8.3 L-119 7.5 L-113 6.8 L-107 6.0 L-101 5.3 L-95 4.6 L-89 3.9 L-83 3.2 L-77 2.8 L-71 2.6 L-65 3.1 L-59 3.6 L-53 4.5 L-47 6.1 L-41 7.7 L-35 9.2 L-29 10.8 L-23 12.4 L-17 14.3 L-11 15.5 L-5 16.4 L1 17.2 L7 17.8 L13 17.8 L19 17.8 L25 17.4 L31 16.9 L37 16.3 L43 15.9 L49 15.6 L55 15.2 L61 14.9 L67 14.6 L73 14.3 L79 14.0 L85 13.8 L91 13.6 L97 13.4 L103 13.2 L109 13.2 L115 13.1 L121 13.1 L127 13.0 L133 12.9 L139 12.8 L145 12.6 L151 12.5 L157 12.3 L163 12.2 M-167 5.6 L-161 5.2 L-155 4.7 L-149 4.3 L-143 3.8 L-137 3.2 L-131 2.4 L-125 1.6 L-119 0.8 L-113 -0.0 L-107 -0.8 L-101 -1.5 L-95 -2.2 L-89 -3.0 L-83 -3.7 L-77 -4.2 L-71 -4.4 L-65 -3.9 L-59 -3.3 L-53 -2.3 L-47 -0.7 L-41 1.0 L-35 2.6 L-29 4.2 L-23 6.0 L-17 8.1 L-11 9.5 L-5 10.5 L1 11.4 L7 12.1 L13 12.1 L19 12.1 L25 11.6 L31 11.0 L37 10.4 L43 10.0 L49 9.6 L55 9.2 L61 8.8 L67 8.4 L73 8.1 L79 7.8 L85 7.5 L91 7.3 L97 7.0 L103 6.9 L109 6.8 L115 6.8 L121 6.7 L127 6.7 L133 6.6 L139 6.4 L145 6.2 L151 6.0 L157 5.9 L163 5.7 M-167 -1.1 L-161 -1.5 L-155 -2.0 L-149 -2.4 L-143 -2.9 L-137 -3.5 L-131 -4.3 L-125 -5.1 L-119 -5.9 L-113 -6.7 L-107 -7.5 L-101 -8.2 L-95 -8.9 L-89 -9.7 L-83 -10.4 L-77 -10.9 L-71 -11.1 L-65 -10.6 L-59 -10.0 L-53 -9.0 L-47 -7.4 L-41 -5.8 L-35 -4.1 L-29 -2.4 L-23 -0.7 L-17 1.7 L-11 3.2 L-5 4.3 L1 5.4 L7 6.2 L13 6.2 L19 6.2 L25 5.6 L31 5.0 L37 4.3 L43 3.8 L49 3.3 L55 2.9 L61 2.5 L67 2.0 L73 1.7 L79 1.4 L85 1.1 L91 0.8 L97 0.5 L103 0.3 L109 0.3 L115 0.2 L121 0.1 L127 0.1 L133 -0.0 L139 -0.2 L145 -0.4 L151 -0.6 L157 -0.8 L163 -1.0 M-167 -8.1 L-161 -8.5 L-155 -9.0 L-149 -9.4 L-143 -9.9 L-137 -10.5 L-131 -11.3 L-125 -12.1 L-119 -12.9 L-113 -13.7 L-107 -14.5 L-101 -15.2 L-95 -15.9 L-89 -16.7 L-83 -17.4 L-77 -17.9 L-71 -18.1 L-65 -17.6 L-59 -17.0 L-53 -16.0 L-47 -14.4 L-41 -12.8 L-35 -11.1 L-29 -9.4 L-23 -7.6 L-17 -5.0 L-11 -3.3 L-5 -2.1 L1 -0.9 L7 -0.1 L13 -0.1 L19 -0.1 L25 -0.7 L31 -1.4 L37 -2.1 L43 -2.7 L49 -3.2 L55 -3.7 L61 -4.2 L67 -4.7 L73 -5.1 L79 -5.4 L85 -5.7 L91 -6.0 L97 -6.3 L103 -6.5 L109 -6.6 L115 -6.7 L121 -6.7 L127 -6.8 L133 -6.9 L139 -7.1 L145 -7.3 L151 -7.5 L157 -7.8 L163 -8.0 M-167 -14.8 L-161 -15.3 L-155 -15.8 L-149 -16.3 L-143 -16.8 L-137 -17.4 L-131 -18.3 L-125 -19.2 L-119 -20.1 L-113 -21.0 L-107 -21.8 L-101 -22.6 L-95 -23.4 L-89 -24.2 L-83 -25.1 L-77 -25.6 L-71 -25.8 L-65 -25.2 L-59 -24.6 L-53 -23.5 L-47 -21.7 L-41 -19.9 L-35 -18.1 L-29 -16.3 L-23 -14.2 L-17 -10.9 L-11 -8.9 L-5 -7.4 L1 -5.9 L7 -4.9 L13 -4.9 L19 -4.9 L25 -5.6 L31 -6.5 L37 -7.4 L43 -8.2 L49 -8.8 L55 -9.4 L61 -9.9 L67 -10.5 L73 -11.0 L79 -11.4 L85 -11.8 L91 -12.2 L97 -12.6 L103 -12.9 L109 -12.9 L115 -13.0 L121 -13.1 L127 -13.2 L133 -13.3 L139 -13.6 L145 -13.9 L151 -14.1 L157 -14.4 L163 -14.6 M-167 -23.9 L-161 -24.6 L-155 -25.3 L-149 -26.0 L-143 -26.7 L-137 -27.6 L-131 -28.9 L-125 -30.1 L-119 -31.3 L-113 -32.6 L-107 -33.8 L-101 -34.9 L-95 -36.1 L-89 -37.2 L-83 -38.4 L-77 -39.1 L-71 -39.4 L-65 -38.6 L-59 -37.7 L-53 -36.2 L-47 -33.7 L-41 -31.1 L-35 -28.5 L-29 -26.0 L-23 -23.0 L-17 -18.2 L-11 -15.1 L-5 -12.9 L1 -10.6 L7 -9.2 L13 -9.2 L19 -9.2 L25 -10.3 L31 -11.6 L37 -12.9 L43 -14.0 L49 -14.9 L55 -15.8 L61 -16.7 L67 -17.6 L73 -18.3 L79 -18.9 L85 -19.5 L91 -20.1 L97 -20.7 L103 -21.0 L109 -21.1 L115 -21.2 L121 -21.4 L127 -21.5 L133 -21.7 L139 -22.1 L145 -22.5 L151 -22.9 L157 -23.3 L163 -23.6 M-167 -39.8 L-140 -43.0 L-110 -48.5 L-80 -53.5 L-70 -53.8 L-55 -51.0 L-35 -41.0 L-15 -30.0 L0 -27.4 L12 -31.0 L25 -34.0 L40 -31.0 L53 -28.3 L70 -28.5 L100 -30.0 L130 -32.0 L167 -34.0 M-167 -57.3 L-140 -60.0 L-110 -64.0 L-80 -67.5 L-60 -68.0 L-30 -67.5 L0 -67.0 L20 -64.0 L40 -58.0 L55 -52.0 L66 -49.0 L90 -49.5 L120 -50.5 L150 -52.0 L167 -53.0"/>
</g></defs>
<use href="#geo" transform="matrix(1.129 0 0 -1.975 203.78 161.56)"/>
</g>
</svg>
<svg class="hm" style="left:1037.5px;top:197.6px" width="408" height="291" viewBox="0 0 408 291">
<defs><filter id="bl2" x="-5%" y="-5%" width="110%" height="110%"><feGaussianBlur stdDeviation="2.2"/></filter><clipPath id="cp2"><rect x="0" y="0" width="408" height="291"/></clipPath></defs>
<g clip-path="url(#cp2)"><g filter="url(#bl2)">
<rect x="-9.1" y="-7.3" width="54.7" height="16.7" fill="#005cff"/>
<rect x="45.3" y="-7.3" width="113.6" height="16.7" fill="#0019ff"/>
<rect x="158.7" y="-7.3" width="68.3" height="16.7" fill="#005cff"/>
<rect x="226.7" y="-7.3" width="147.6" height="16.7" fill="#0019ff"/>
<rect x="374.0" y="-7.3" width="43.4" height="16.7" fill="#005cff"/>
<rect x="-9.1" y="9.1" width="32.0" height="9.4" fill="#005cff"/>
<rect x="22.7" y="9.1" width="181.6" height="9.4" fill="#0019ff"/>
<rect x="204.0" y="9.1" width="11.6" height="9.4" fill="#005cff"/>
<rect x="215.3" y="9.1" width="159.0" height="9.4" fill="#0019ff"/>
<rect x="374.0" y="9.1" width="43.4" height="9.4" fill="#005cff"/>
<rect x="-9.1" y="18.2" width="20.7" height="9.4" fill="#005cff"/>
<rect x="11.3" y="18.2" width="68.3" height="9.4" fill="#0019ff"/>
<rect x="79.3" y="18.2" width="23.0" height="9.4" fill="#0000e6"/>
<rect x="102.0" y="18.2" width="272.3" height="9.4" fill="#0019ff"/>
<rect x="374.0" y="18.2" width="43.4" height="9.4" fill="#005cff"/>
<rect x="-9.1" y="27.3" width="32.0" height="9.4" fill="#005cff"/>
<rect x="22.7" y="27.3" width="45.6" height="9.4" fill="#0019ff"/>
<rect x="68.0" y="27.3" width="45.6" height="9.4" fill="#0000e6"/>
<rect x="113.3" y="27.3" width="261.0" height="9.4" fill="#0019ff"/>
<rect x="374.0" y="27.3" width="43.4" height="9.4" fill="#005cff"/>
<rect x="-9.1" y="36.4" width="43.4" height="9.4" fill="#005cff"/>
<rect x="34.0" y="36.4" width="34.3" height="9.4" fill="#0019ff"/>
<rect x="68.0" y="36.4" width="57.0" height="9.4" fill="#0000e6"/>
<rect x="124.7" y="36.4" width="113.6" height="9.4" fill="#0019ff"/>
<rect x="238.0" y="36.4" width="34.3" height="9.4" fill="#0000e6"/>
<rect x="272.0" y="36.4" width="113.6" height="9.4" fill="#0019ff"/>
<rect x="385.3" y="36.4" width="32.0" height="9.4" fill="#005cff"/>
<rect x="-9.1" y="45.5" width="54.7" height="9.4" fill="#005cff"/>
<rect x="45.3" y="45.5" width="23.0" height="9.4" fill="#0019ff"/>
<rect x="68.0" y="45.5" width="68.3" height="9.4" fill="#0000e6"/>
<rect x="136.0" y="45.5" width="45.6" height="9.4" fill="#0019ff"/>
<rect x="181.3" y="45.5" width="23.0" height="9.4" fill="#0000e6"/>
<rect x="204.0" y="45.5" width="11.6" height="9.4" fill="#0019ff"/>
<rect x="215.3" y="45.5" width="79.6" height="9.4" fill="#0000e6"/>
<rect x="294.7" y="45.5" width="79.6" height="9.4" fill="#0019ff"/>
<rect x="374.0" y="45.5" width="43.4" height="9.4" fill="#005cff"/>
<rect x="-9.1" y="54.6" width="54.7" height="9.4" fill="#005cff"/>
<rect x="45.3" y="54.6" width="23.0" height="9.4" fill="#0019ff"/>
<rect x="68.0" y="54.6" width="79.6" height="9.4" fill="#0000e6"/>
<rect x="147.3" y="54.6" width="34.3" height="9.4" fill="#0019ff"/>
<rect x="181.3" y="54.6" width="23.0" height="9.4" fill="#0000e6"/>
<rect x="204.0" y="54.6" width="11.6" height="9.4" fill="#0019ff"/>
<rect x="215.3" y="54.6" width="113.6" height="9.4" fill="#0000e6"/>
<rect x="328.7" y="54.6" width="45.6" height="9.4" fill="#0019ff"/>
<rect x="374.0" y="54.6" width="43.4" height="9.4" fill="#005cff"/>
<rect x="-9.1" y="63.7" width="20.7" height="9.4" fill="#0091ff"/>
<rect x="11.3" y="63.7" width="45.6" height="9.4" fill="#005cff"/>
<rect x="56.7" y="63.7" width="11.6" height="9.4" fill="#0019ff"/>
<rect x="68.0" y="63.7" width="79.6" height="9.4" fill="#0000e6"/>
<rect x="147.3" y="63.7" width="45.6" height="9.4" fill="#0019ff"/>
<rect x="192.7" y="63.7" width="147.6" height="9.4" fill="#0000e6"/>
<rect x="340.0" y="63.7" width="34.3" height="9.4" fill="#0019ff"/>
<rect x="374.0" y="63.7" width="43.4" height="9.4" fill="#005cff"/>
<rect x="-9.1" y="72.8" width="32.0" height="9.4" fill="#0091ff"/>
<rect x="22.7" y="72.8" width="34.3" height="9.4" fill="#005cff"/>
<rect x="56.7" y="72.8" width="23.0" height="9.4" fill="#0019ff"/>
<rect x="79.3" y="72.8" width="57.0" height="9.4" fill="#0000e6"/>
<rect x="136.0" y="72.8" width="68.3" height="9.4" fill="#0019ff"/>
<rect x="204.0" y="72.8" width="45.6" height="9.4" fill="#0000e6"/>
<rect x="249.3" y="72.8" width="23.0" height="9.4" fill="#0019ff"/>
<rect x="272.0" y="72.8" width="68.3" height="9.4" fill="#0000e6"/>
<rect x="340.0" y="72.8" width="23.0" height="9.4" fill="#0019ff"/>
<rect x="362.7" y="72.8" width="11.6" height="9.4" fill="#005cff"/>
<rect x="374.0" y="72.8" width="11.6" height="9.4" fill="#0091ff"/>
<rect x="385.3" y="72.8" width="32.0" height="9.4" fill="#00d4ff"/>
<rect x="-9.1" y="81.8" width="43.4" height="9.4" fill="#0091ff"/>
<rect x="34.0" y="81.8" width="34.3" height="9.4" fill="#005cff"/>
<rect x="68.0" y="81.8" width="23.0" height="9.4" fill="#0019ff"/>
<rect x="90.7" y="81.8" width="23.0" height="9.4" fill="#0000e6"/>
<rect x="113.3" y="81.8" width="23.0" height="9.4" fill="#0019ff"/>
<rect x="136.0" y="81.8" width="34.3" height="9.4" fill="#005cff"/>
<rect x="170.0" y="81.8" width="34.3" height="9.4" fill="#0019ff"/>
<rect x="204.0" y="81.8" width="45.6" height="9.4" fill="#0000e6"/>
<rect x="249.3" y="81.8" width="113.6" height="9.4" fill="#0019ff"/>
<rect x="362.7" y="81.8" width="11.6" height="9.4" fill="#005cff"/>
<rect x="374.0" y="81.8" width="43.4" height="9.4" fill="#00d4ff"/>
<rect x="-9.1" y="90.9" width="66.0" height="9.4" fill="#0091ff"/>
<rect x="56.7" y="90.9" width="11.6" height="9.4" fill="#005cff"/>
<rect x="68.0" y="90.9" width="57.0" height="9.4" fill="#0019ff"/>
<rect x="124.7" y="90.9" width="79.6" height="9.4" fill="#005cff"/>
<rect x="204.0" y="90.9" width="45.6" height="9.4" fill="#0019ff"/>
<rect x="249.3" y="90.9" width="57.0" height="9.4" fill="#005cff"/>
<rect x="306.0" y="90.9" width="45.6" height="9.4" fill="#0019ff"/>
<rect x="351.3" y="90.9" width="11.6" height="9.4" fill="#005cff"/>
<rect x="362.7" y="90.9" width="11.6" height="9.4" fill="#0091ff"/>
<rect x="374.0" y="90.9" width="43.4" height="9.4" fill="#00d4ff"/>
<rect x="-9.1" y="100.0" width="20.7" height="9.4" fill="#00d4ff"/>
<rect x="11.3" y="100.0" width="11.6" height="9.4" fill="#0091ff"/>
<rect x="22.7" y="100.0" width="11.6" height="9.4" fill="#005cff"/>
<rect x="34.0" y="100.0" width="34.3" height="9.4" fill="#0091ff"/>
<rect x="68.0" y="100.0" width="11.6" height="9.4" fill="#005cff"/>
<rect x="79.3" y="100.0" width="34.3" height="9.4" fill="#0019ff"/>
<rect x="113.3" y="100.0" width="45.6" height="9.4" fill="#005cff"/>
<rect x="158.7" y="100.0" width="23.0" height="9.4" fill="#0091ff"/>
<rect x="181.3" y="100.0" width="34.3" height="9.4" fill="#005cff"/>
<rect x="215.3" y="100.0" width="23.0" height="9.4" fill="#0019ff"/>
<rect x="238.0" y="100.0" width="34.3" height="9.4" fill="#005cff"/>
<rect x="272.0" y="100.0" width="11.6" height="9.4" fill="#0091ff"/>
<rect x="283.3" y="100.0" width="45.6" height="9.4" fill="#005cff"/>
<rect x="328.7" y="100.0" width="23.0" height="9.4" fill="#0019ff"/>
<rect x="351.3" y="100.0" width="23.0" height="9.4" fill="#005cff"/>
<rect x="374.0" y="100.0" width="23.0" height="9.4" fill="#00d4ff"/>
<rect x="396.7" y="100.0" width="20.7" height="9.4" fill="#0091ff"/>
<rect x="-9.1" y="109.1" width="32.0" height="9.4" fill="#00d4ff"/>
<rect x="22.7" y="109.1" width="23.0" height="9.4" fill="#005cff"/>
<rect x="45.3" y="109.1" width="11.6" height="9.4" fill="#0091ff"/>
<rect x="56.7" y="109.1" width="23.0" height="9.4" fill="#00d4ff"/>
<rect x="79.3" y="109.1" width="11.6" height="9.4" fill="#0091ff"/>
<rect x="90.7" y="109.1" width="57.0" height="9.4" fill="#005cff"/>
<rect x="147.3" y="109.1" width="23.0" height="9.4" fill="#0091ff"/>
<rect x="170.0" y="109.1" width="11.6" height="9.4" fill="#00d4ff"/>
<rect x="181.3" y="109.1" width="11.6" height="9.4" fill="#0091ff"/>
<rect x="192.7" y="109.1" width="11.6" height="9.4" fill="#005cff"/>
<rect x="204.0" y="109.1" width="23.0" height="9.4" fill="#0091ff"/>
<rect x="226.7" y="109.1" width="34.3" height="9.4" fill="#005cff"/>
<rect x="260.7" y="109.1" width="23.0" height="9.4" fill="#0091ff"/>
<rect x="283.3" y="109.1" width="79.6" height="9.4" fill="#005cff"/>
<rect x="362.7" y="109.1" width="54.7" height="9.4" fill="#0091ff"/>
<rect x="-9.1" y="118.2" width="43.4" height="9.4" fill="#0091ff"/>
<rect x="34.0" y="118.2" width="57.0" height="9.4" fill="#00d4ff"/>
<rect x="90.7" y="118.2" width="11.6" height="9.4" fill="#0091ff"/>
<rect x="102.0" y="118.2" width="11.6" height="9.4" fill="#005cff"/>
<rect x="113.3" y="118.2" width="11.6" height="9.4" fill="#0019ff"/>
<rect x="124.7" y="118.2" width="23.0" height="9.4" fill="#005cff"/>
<rect x="147.3" y="118.2" width="11.6" height="9.4" fill="#0091ff"/>
<rect x="158.7" y="118.2" width="23.0" height="9.4" fill="#00d4ff"/>
<rect x="181.3" y="118.2" width="11.6" height="9.4" fill="#0091ff"/>
<rect x="192.7" y="118.2" width="11.6" height="9.4" fill="#005cff"/>
<rect x="204.0" y="118.2" width="34.3" height="9.4" fill="#0091ff"/>
<rect x="238.0" y="118.2" width="23.0" height="9.4" fill="#005cff"/>
<rect x="260.7" y="118.2" width="34.3" height="9.4" fill="#0091ff"/>
<rect x="294.7" y="118.2" width="68.3" height="9.4" fill="#005cff"/>
<rect x="362.7" y="118.2" width="11.6" height="9.4" fill="#0091ff"/>
<rect x="374.0" y="118.2" width="11.6" height="9.4" fill="#00d4ff"/>
<rect x="385.3" y="118.2" width="32.0" height="9.4" fill="#0091ff"/>
<rect x="-9.1" y="127.3" width="77.4" height="9.4" fill="#0091ff"/>
<rect x="68.0" y="127.3" width="23.0" height="9.4" fill="#00d4ff"/>
<rect x="90.7" y="127.3" width="23.0" height="9.4" fill="#0091ff"/>
<rect x="113.3" y="127.3" width="23.0" height="9.4" fill="#005cff"/>
<rect x="136.0" y="127.3" width="11.6" height="9.4" fill="#0091ff"/>
<rect x="147.3" y="127.3" width="45.6" height="9.4" fill="#00d4ff"/>
<rect x="192.7" y="127.3" width="11.6" height="9.4" fill="#0091ff"/>
<rect x="204.0" y="127.3" width="11.6" height="9.4" fill="#00d4ff"/>
<rect x="215.3" y="127.3" width="11.6" height="9.4" fill="#1affe5"/>
<rect x="226.7" y="127.3" width="11.6" height="9.4" fill="#00d4ff"/>
<rect x="238.0" y="127.3" width="11.6" height="9.4" fill="#0091ff"/>
<rect x="249.3" y="127.3" width="23.0" height="9.4" fill="#005cff"/>
<rect x="272.0" y="127.3" width="11.6" height="9.4" fill="#0091ff"/>
<rect x="283.3" y="127.3" width="91.0" height="9.4" fill="#005cff"/>
<rect x="374.0" y="127.3" width="43.4" height="9.4" fill="#0091ff"/>
<rect x="-9.1" y="136.4" width="111.4" height="9.4" fill="#0091ff"/>
<rect x="102.0" y="136.4" width="11.6" height="9.4" fill="#00d4ff"/>
<rect x="113.3" y="136.4" width="11.6" height="9.4" fill="#0091ff"/>
<rect x="124.7" y="136.4" width="11.6" height="9.4" fill="#005cff"/>
<rect x="136.0" y="136.4" width="11.6" height="9.4" fill="#0091ff"/>
<rect x="147.3" y="136.4" width="11.6" height="9.4" fill="#00d4ff"/>
<rect x="158.7" y="136.4" width="34.3" height="9.4" fill="#1affe5"/>
<rect x="192.7" y="136.4" width="11.6" height="9.4" fill="#00d4ff"/>
<rect x="204.0" y="136.4" width="11.6" height="9.4" fill="#1affe5"/>
<rect x="215.3" y="136.4" width="11.6" height="9.4" fill="#5effa2"/>
<rect x="226.7" y="136.4" width="11.6" height="9.4" fill="#1affe5"/>
<rect x="238.0" y="136.4" width="11.6" height="9.4" fill="#0091ff"/>
<rect x="249.3" y="136.4" width="136.3" height="9.4" fill="#005cff"/>
<rect x="385.3" y="136.4" width="32.0" height="9.4" fill="#0091ff"/>
<rect x="-9.1" y="145.5" width="100.0" height="9.4" fill="#0091ff"/>
<rect x="90.7" y="145.5" width="11.6" height="9.4" fill="#005cff"/>
<rect x="102.0" y="145.5" width="11.6" height="9.4" fill="#0091ff"/>
<rect x="113.3" y="145.5" width="11.6" height="9.4" fill="#005cff"/>
<rect x="124.7" y="145.5" width="11.6" height="9.4" fill="#0091ff"/>
<rect x="136.0" y="145.5" width="11.6" height="9.4" fill="#00d4ff"/>
<rect x="147.3" y="145.5" width="11.6" height="9.4" fill="#1affe5"/>
<rect x="158.7" y="145.5" width="11.6" height="9.4" fill="#00d4ff"/>
<rect x="170.0" y="145.5" width="23.0" height="9.4" fill="#0091ff"/>
<rect x="192.7" y="145.5" width="11.6" height="9.4" fill="#005cff"/>
<rect x="204.0" y="145.5" width="11.6" height="9.4" fill="#0091ff"/>
<rect x="215.3" y="145.5" width="23.0" height="9.4" fill="#00d4ff"/>
<rect x="238.0" y="145.5" width="11.6" height="9.4" fill="#0091ff"/>
<rect x="249.3" y="145.5" width="57.0" height="9.4" fill="#005cff"/>
<rect x="306.0" y="145.5" width="11.6" height="9.4" fill="#0091ff"/>
<rect x="317.3" y="145.5" width="79.6" height="9.4" fill="#005cff"/>
<rect x="396.7" y="145.5" width="20.7" height="9.4" fill="#0091ff"/>
<rect x="-9.1" y="154.6" width="20.7" height="9.4" fill="#0091ff"/>
<rect x="11.3" y="154.6" width="34.3" height="9.4" fill="#00d4ff"/>
<rect x="45.3" y="154.6" width="91.0" height="9.4" fill="#0091ff"/>
<rect x="136.0" y="154.6" width="11.6" height="9.4" fill="#00d4ff"/>
<rect x="147.3" y="154.6" width="23.0" height="9.4" fill="#1affe5"/>
<rect x="170.0" y="154.6" width="11.6" height="9.4" fill="#00d4ff"/>
<rect x="181.3" y="154.6" width="11.6" height="9.4" fill="#0091ff"/>
<rect x="192.7" y="154.6" width="11.6" height="9.4" fill="#005cff"/>
<rect x="204.0" y="154.6" width="23.0" height="9.4" fill="#0091ff"/>
<rect x="226.7" y="154.6" width="170.3" height="9.4" fill="#005cff"/>
<rect x="396.7" y="154.6" width="20.7" height="9.4" fill="#0091ff"/>
<rect x="-9.1" y="163.7" width="20.7" height="9.4" fill="#005cff"/>
<rect x="11.3" y="163.7" width="23.0" height="9.4" fill="#00d4ff"/>
<rect x="34.0" y="163.7" width="113.6" height="9.4" fill="#0091ff"/>
<rect x="147.3" y="163.7" width="23.0" height="9.4" fill="#00d4ff"/>
<rect x="170.0" y="163.7" width="11.6" height="9.4" fill="#0091ff"/>
<rect x="181.3" y="163.7" width="125.0" height="9.4" fill="#005cff"/>
<rect x="306.0" y="163.7" width="11.6" height="9.4" fill="#0091ff"/>
<rect x="317.3" y="163.7" width="45.6" height="9.4" fill="#005cff"/>
<rect x="362.7" y="163.7" width="23.0" height="9.4" fill="#0091ff"/>
<rect x="385.3" y="163.7" width="32.0" height="9.4" fill="#005cff"/>
<rect x="-9.1" y="172.8" width="54.7" height="9.4" fill="#005cff"/>
<rect x="45.3" y="172.8" width="57.0" height="9.4" fill="#0091ff"/>
<rect x="102.0" y="172.8" width="11.6" height="9.4" fill="#00d4ff"/>
<rect x="113.3" y="172.8" width="11.6" height="9.4" fill="#0091ff"/>
<rect x="124.7" y="172.8" width="23.0" height="9.4" fill="#005cff"/>
<rect x="147.3" y="172.8" width="34.3" height="9.4" fill="#0019ff"/>
<rect x="181.3" y="172.8" width="34.3" height="9.4" fill="#005cff"/>
<rect x="215.3" y="172.8" width="34.3" height="9.4" fill="#0019ff"/>
<rect x="249.3" y="172.8" width="125.0" height="9.4" fill="#005cff"/>
<rect x="374.0" y="172.8" width="11.6" height="9.4" fill="#0091ff"/>
<rect x="385.3" y="172.8" width="11.6" height="9.4" fill="#005cff"/>
<rect x="396.7" y="172.8" width="20.7" height="9.4" fill="#0019ff"/>
<rect x="-9.1" y="181.9" width="20.7" height="9.4" fill="#005cff"/>
<rect x="11.3" y="181.9" width="23.0" height="9.4" fill="#0091ff"/>
<rect x="34.0" y="181.9" width="11.6" height="9.4" fill="#005cff"/>
<rect x="45.3" y="181.9" width="57.0" height="9.4" fill="#0091ff"/>
<rect x="102.0" y="181.9" width="11.6" height="9.4" fill="#00d4ff"/>
<rect x="113.3" y="181.9" width="11.6" height="9.4" fill="#0091ff"/>
<rect x="124.7" y="181.9" width="11.6" height="9.4" fill="#005cff"/>
<rect x="136.0" y="181.9" width="45.6" height="9.4" fill="#0019ff"/>
<rect x="181.3" y="181.9" width="34.3" height="9.4" fill="#005cff"/>
<rect x="215.3" y="181.9" width="45.6" height="9.4" fill="#0019ff"/>
<rect x="260.7" y="181.9" width="68.3" height="9.4" fill="#005cff"/>
<rect x="328.7" y="181.9" width="23.0" height="9.4" fill="#0019ff"/>
<rect x="351.3" y="181.9" width="45.6" height="9.4" fill="#005cff"/>
<rect x="396.7" y="181.9" width="20.7" height="9.4" fill="#0019ff"/>
<rect x="-9.1" y="191.0" width="20.7" height="9.4" fill="#0019ff"/>
<rect x="11.3" y="191.0" width="45.6" height="9.4" fill="#005cff"/>
<rect x="56.7" y="191.0" width="68.3" height="9.4" fill="#0091ff"/>
<rect x="124.7" y="191.0" width="11.6" height="9.4" fill="#005cff"/>
<rect x="136.0" y="191.0" width="57.0" height="9.4" fill="#0019ff"/>
<rect x="192.7" y="191.0" width="11.6" height="9.4" fill="#005cff"/>
<rect x="204.0" y="191.0" width="68.3" height="9.4" fill="#0019ff"/>
<rect x="272.0" y="191.0" width="45.6" height="9.4" fill="#005cff"/>
<rect x="317.3" y="191.0" width="57.0" height="9.4" fill="#0019ff"/>
<rect x="374.0" y="191.0" width="11.6" height="9.4" fill="#005cff"/>
<rect x="385.3" y="191.0" width="32.0" height="9.4" fill="#0019ff"/>
<rect x="-9.1" y="200.1" width="66.0" height="9.4" fill="#0019ff"/>
<rect x="56.7" y="200.1" width="11.6" height="9.4" fill="#005cff"/>
<rect x="68.0" y="200.1" width="23.0" height="9.4" fill="#00d4ff"/>
<rect x="90.7" y="200.1" width="23.0" height="9.4" fill="#0091ff"/>
<rect x="113.3" y="200.1" width="11.6" height="9.4" fill="#005cff"/>
<rect x="124.7" y="200.1" width="68.3" height="9.4" fill="#0019ff"/>
<rect x="192.7" y="200.1" width="11.6" height="9.4" fill="#005cff"/>
<rect x="204.0" y="200.1" width="79.6" height="9.4" fill="#0019ff"/>
<rect x="283.3" y="200.1" width="23.0" height="9.4" fill="#005cff"/>
<rect x="306.0" y="200.1" width="111.4" height="9.4" fill="#0019ff"/>
<rect x="-9.1" y="209.2" width="43.4" height="9.4" fill="#0019ff"/>
<rect x="34.0" y="209.2" width="34.3" height="9.4" fill="#005cff"/>
<rect x="68.0" y="209.2" width="11.6" height="9.4" fill="#0091ff"/>
<rect x="79.3" y="209.2" width="23.0" height="9.4" fill="#00d4ff"/>
<rect x="102.0" y="209.2" width="11.6" height="9.4" fill="#0091ff"/>
<rect x="113.3" y="209.2" width="11.6" height="9.4" fill="#005cff"/>
<rect x="124.7" y="209.2" width="68.3" height="9.4" fill="#0019ff"/>
<rect x="192.7" y="209.2" width="11.6" height="9.4" fill="#005cff"/>
<rect x="204.0" y="209.2" width="213.4" height="9.4" fill="#0019ff"/>
<rect x="-9.1" y="218.2" width="43.4" height="9.4" fill="#0019ff"/>
<rect x="34.0" y="218.2" width="23.0" height="9.4" fill="#005cff"/>
<rect x="56.7" y="218.2" width="57.0" height="9.4" fill="#0091ff"/>
<rect x="113.3" y="218.2" width="11.6" height="9.4" fill="#005cff"/>
<rect x="124.7" y="218.2" width="57.0" height="9.4" fill="#0019ff"/>
<rect x="181.3" y="218.2" width="23.0" height="9.4" fill="#005cff"/>
<rect x="204.0" y="218.2" width="68.3" height="9.4" fill="#0019ff"/>
<rect x="272.0" y="218.2" width="23.0" height="9.4" fill="#0000e6"/>
<rect x="294.7" y="218.2" width="122.7" height="9.4" fill="#0019ff"/>
<rect x="-9.1" y="227.3" width="43.4" height="9.4" fill="#0019ff"/>
<rect x="34.0" y="227.3" width="34.3" height="9.4" fill="#005cff"/>
<rect x="68.0" y="227.3" width="23.0" height="9.4" fill="#0091ff"/>
<rect x="90.7" y="227.3" width="23.0" height="9.4" fill="#005cff"/>
<rect x="113.3" y="227.3" width="45.6" height="9.4" fill="#0019ff"/>
<rect x="158.7" y="227.3" width="45.6" height="9.4" fill="#005cff"/>
<rect x="204.0" y="227.3" width="68.3" height="9.4" fill="#0019ff"/>
<rect x="272.0" y="227.3" width="23.0" height="9.4" fill="#0000e6"/>
<rect x="294.7" y="227.3" width="122.7" height="9.4" fill="#0019ff"/>
<rect x="-9.1" y="236.4" width="43.4" height="9.4" fill="#0019ff"/>
<rect x="34.0" y="236.4" width="34.3" height="9.4" fill="#005cff"/>
<rect x="68.0" y="236.4" width="11.6" height="9.4" fill="#0091ff"/>
<rect x="79.3" y="236.4" width="34.3" height="9.4" fill="#005cff"/>
<rect x="113.3" y="236.4" width="45.6" height="9.4" fill="#0019ff"/>
<rect x="158.7" y="236.4" width="45.6" height="9.4" fill="#005cff"/>
<rect x="204.0" y="236.4" width="57.0" height="9.4" fill="#0019ff"/>
<rect x="260.7" y="236.4" width="34.3" height="9.4" fill="#0000e6"/>
<rect x="294.7" y="236.4" width="122.7" height="9.4" fill="#0019ff"/>
<rect x="-9.1" y="245.5" width="43.4" height="9.4" fill="#0019ff"/>
<rect x="34.0" y="245.5" width="34.3" height="9.4" fill="#005cff"/>
<rect x="68.0" y="245.5" width="11.6" height="9.4" fill="#0091ff"/>
<rect x="79.3" y="245.5" width="34.3" height="9.4" fill="#005cff"/>
<rect x="113.3" y="245.5" width="45.6" height="9.4" fill="#0019ff"/>
<rect x="158.7" y="245.5" width="57.0" height="9.4" fill="#005cff"/>
<rect x="215.3" y="245.5" width="202.0" height="9.4" fill="#0019ff"/>
<rect x="-9.1" y="254.6" width="122.7" height="9.4" fill="#005cff"/>
<rect x="113.3" y="254.6" width="68.3" height="9.4" fill="#0019ff"/>
<rect x="181.3" y="254.6" width="34.3" height="9.4" fill="#005cff"/>
<rect x="215.3" y="254.6" width="202.0" height="9.4" fill="#0019ff"/>
<rect x="-9.1" y="263.7" width="224.7" height="9.4" fill="#005cff"/>
<rect x="215.3" y="263.7" width="202.0" height="9.4" fill="#0019ff"/>
<rect x="-9.1" y="272.8" width="66.0" height="9.4" fill="#0019ff"/>
<rect x="56.7" y="272.8" width="57.0" height="9.4" fill="#005cff"/>
<rect x="113.3" y="272.8" width="23.0" height="9.4" fill="#0091ff"/>
<rect x="136.0" y="272.8" width="91.0" height="9.4" fill="#005cff"/>
<rect x="226.7" y="272.8" width="190.7" height="9.4" fill="#0019ff"/>
<rect x="-9.1" y="281.9" width="77.4" height="16.7" fill="#0019ff"/>
<rect x="68.0" y="281.9" width="34.3" height="16.7" fill="#005cff"/>
<rect x="102.0" y="281.9" width="34.3" height="16.7" fill="#0091ff"/>
<rect x="136.0" y="281.9" width="45.6" height="16.7" fill="#005cff"/>
<rect x="181.3" y="281.9" width="236.0" height="16.7" fill="#0019ff"/>
</g>
<path fill="#fff" d="M294.5 -0.2h34.4v9.5h-34.4zM294.5 8.9h34.4v9.5h-34.4zM283.1 18.0h45.7v9.5h-45.7zM271.8 27.1h79.7v9.5h-79.7zM351.1 36.2h11.7v9.5h-11.7zM351.1 45.3h11.7v9.5h-11.7zM351.1 54.4h34.4v9.5h-34.4zM385.1 63.5h23.1v9.5h-23.1zM362.5 99.8h11.7v9.5h-11.7zM22.5 118.0h23.1v9.5h-23.1zM-0.2 127.1h23.1v9.5h-23.1zM33.8 127.1h11.7v9.5h-11.7zM-0.2 136.2h45.7v9.5h-45.7zM-0.2 145.3h45.7v9.5h-45.7zM33.8 154.4h23.1v9.5h-23.1zM45.1 163.5h23.1v9.5h-23.1zM56.5 172.6h11.7v9.5h-11.7zM11.1 209.0h45.7v9.5h-45.7zM22.5 218.1h23.1v9.5h-23.1zM22.5 227.1h23.1v9.5h-23.1zM22.5 236.2h23.1v9.5h-23.1zM22.5 245.3h23.1v9.5h-23.1zM-0.2 254.4h57.1v9.5h-57.1zM158.5 254.4h34.4v9.5h-34.4zM-0.2 263.5h57.1v9.5h-57.1zM158.5 263.5h34.4v9.5h-34.4zM11.1 272.6h11.7v9.5h-11.7zM45.1 272.6h11.7v9.5h-11.7zM67.8 272.6h11.7v9.5h-11.7zM158.5 272.6h45.7v9.5h-45.7zM45.1 281.7h34.4v9.5h-34.4zM158.5 281.7h45.7v9.5h-45.7z"/>
<use href="#geo" transform="matrix(1.129 0 0 -1.85 203.78 150.41)"/>
</g>
</svg>
<svg class="hm" style="left:491.5px;top:557.2px" width="408" height="312" viewBox="0 0 408 312">
<defs><filter id="bl3" x="-5%" y="-5%" width="110%" height="110%"><feGaussianBlur stdDeviation="2.2"/></filter><clipPath id="cp3"><rect x="0" y="0" width="408" height="312"/></clipPath></defs>
<g clip-path="url(#cp3)"><g filter="url(#bl3)">
<rect x="-9.1" y="-7.8" width="20.7" height="17.9" fill="#1affe5"/>
<rect x="11.3" y="-7.8" width="11.6" height="17.9" fill="#5effa2"/>
<rect x="22.7" y="-7.8" width="11.6" height="17.9" fill="#ffd500"/>
<rect x="34.0" y="-7.8" width="11.6" height="17.9" fill="#e5ff1a"/>
<rect x="45.3" y="-7.8" width="11.6" height="17.9" fill="#a2ff5e"/>
<rect x="56.7" y="-7.8" width="23.0" height="17.9" fill="#5effa2"/>
<rect x="79.3" y="-7.8" width="113.6" height="17.9" fill="#00d4ff"/>
<rect x="192.7" y="-7.8" width="68.3" height="17.9" fill="#0091ff"/>
<rect x="260.7" y="-7.8" width="68.3" height="17.9" fill="#004dff"/>
<rect x="328.7" y="-7.8" width="88.7" height="17.9" fill="#00d4ff"/>
<rect x="-9.1" y="9.8" width="20.7" height="10.1" fill="#5effa2"/>
<rect x="11.3" y="9.8" width="11.6" height="10.1" fill="#a2ff5e"/>
<rect x="22.7" y="9.8" width="23.0" height="10.1" fill="#e5ff1a"/>
<rect x="45.3" y="9.8" width="11.6" height="10.1" fill="#a2ff5e"/>
<rect x="56.7" y="9.8" width="23.0" height="10.1" fill="#5effa2"/>
<rect x="79.3" y="9.8" width="34.3" height="10.1" fill="#1affe5"/>
<rect x="113.3" y="9.8" width="11.6" height="10.1" fill="#00d4ff"/>
<rect x="124.7" y="9.8" width="11.6" height="10.1" fill="#0091ff"/>
<rect x="136.0" y="9.8" width="45.6" height="10.1" fill="#00d4ff"/>
<rect x="181.3" y="9.8" width="79.6" height="10.1" fill="#0091ff"/>
<rect x="260.7" y="9.8" width="57.0" height="10.1" fill="#00d4ff"/>
<rect x="317.3" y="9.8" width="45.6" height="10.1" fill="#e5ff1a"/>
<rect x="362.7" y="9.8" width="11.6" height="10.1" fill="#1affe5"/>
<rect x="374.0" y="9.8" width="43.4" height="10.1" fill="#00d4ff"/>
<rect x="-9.1" y="19.5" width="20.7" height="10.1" fill="#5effa2"/>
<rect x="11.3" y="19.5" width="23.0" height="10.1" fill="#a2ff5e"/>
<rect x="34.0" y="19.5" width="23.0" height="10.1" fill="#e5ff1a"/>
<rect x="56.7" y="19.5" width="11.6" height="10.1" fill="#a2ff5e"/>
<rect x="68.0" y="19.5" width="11.6" height="10.1" fill="#5effa2"/>
<rect x="79.3" y="19.5" width="23.0" height="10.1" fill="#1affe5"/>
<rect x="102.0" y="19.5" width="91.0" height="10.1" fill="#00d4ff"/>
<rect x="192.7" y="19.5" width="23.0" height="10.1" fill="#0091ff"/>
<rect x="215.3" y="19.5" width="11.6" height="10.1" fill="#004dff"/>
<rect x="226.7" y="19.5" width="23.0" height="10.1" fill="#0091ff"/>
<rect x="249.3" y="19.5" width="68.3" height="10.1" fill="#00d4ff"/>
<rect x="317.3" y="19.5" width="57.0" height="10.1" fill="#1affe5"/>
<rect x="374.0" y="19.5" width="43.4" height="10.1" fill="#00d4ff"/>
<rect x="-9.1" y="29.2" width="43.4" height="10.1" fill="#a2ff5e"/>
<rect x="34.0" y="29.2" width="11.6" height="10.1" fill="#e5ff1a"/>
<rect x="45.3" y="29.2" width="23.0" height="10.1" fill="#ffd500"/>
<rect x="68.0" y="29.2" width="11.6" height="10.1" fill="#a2ff5e"/>
<rect x="79.3" y="29.2" width="11.6" height="10.1" fill="#1affe5"/>
<rect x="90.7" y="29.2" width="68.3" height="10.1" fill="#0091ff"/>
<rect x="158.7" y="29.2" width="11.6" height="10.1" fill="#00d4ff"/>
<rect x="170.0" y="29.2" width="34.3" height="10.1" fill="#0091ff"/>
<rect x="204.0" y="29.2" width="45.6" height="10.1" fill="#004dff"/>
<rect x="249.3" y="29.2" width="68.3" height="10.1" fill="#0091ff"/>
<rect x="317.3" y="29.2" width="57.0" height="10.1" fill="#ff0800"/>
<rect x="374.0" y="29.2" width="43.4" height="10.1" fill="#00d4ff"/>
<rect x="-9.1" y="39.0" width="77.4" height="10.1" fill="#e5ff1a"/>
<rect x="68.0" y="39.0" width="11.6" height="10.1" fill="#a2ff5e"/>
<rect x="79.3" y="39.0" width="11.6" height="10.1" fill="#5effa2"/>
<rect x="90.7" y="39.0" width="11.6" height="10.1" fill="#00d4ff"/>
<rect x="102.0" y="39.0" width="45.6" height="10.1" fill="#0091ff"/>
<rect x="147.3" y="39.0" width="23.0" height="10.1" fill="#004dff"/>
<rect x="170.0" y="39.0" width="23.0" height="10.1" fill="#0091ff"/>
<rect x="192.7" y="39.0" width="57.0" height="10.1" fill="#004dff"/>
<rect x="249.3" y="39.0" width="68.3" height="10.1" fill="#0091ff"/>
<rect x="317.3" y="39.0" width="57.0" height="10.1" fill="#ff9100"/>
<rect x="374.0" y="39.0" width="11.6" height="10.1" fill="#ff4c00"/>
<rect x="385.3" y="39.0" width="32.0" height="10.1" fill="#a2ff5e"/>
<rect x="-9.1" y="48.8" width="20.7" height="10.1" fill="#ffd500"/>
<rect x="11.3" y="48.8" width="57.0" height="10.1" fill="#e5ff1a"/>
<rect x="68.0" y="48.8" width="23.0" height="10.1" fill="#a2ff5e"/>
<rect x="90.7" y="48.8" width="11.6" height="10.1" fill="#5effa2"/>
<rect x="102.0" y="48.8" width="34.3" height="10.1" fill="#1affe5"/>
<rect x="136.0" y="48.8" width="11.6" height="10.1" fill="#00d4ff"/>
<rect x="147.3" y="48.8" width="159.0" height="10.1" fill="#004dff"/>
<rect x="306.0" y="48.8" width="11.6" height="10.1" fill="#0091ff"/>
<rect x="317.3" y="48.8" width="11.6" height="10.1" fill="#00d4ff"/>
<rect x="328.7" y="48.8" width="11.6" height="10.1" fill="#1affe5"/>
<rect x="340.0" y="48.8" width="34.3" height="10.1" fill="#ffd500"/>
<rect x="374.0" y="48.8" width="43.4" height="10.1" fill="#ff9100"/>
<rect x="-9.1" y="58.5" width="20.7" height="10.1" fill="#ff9100"/>
<rect x="11.3" y="58.5" width="23.0" height="10.1" fill="#ffd500"/>
<rect x="34.0" y="58.5" width="34.3" height="10.1" fill="#e5ff1a"/>
<rect x="68.0" y="58.5" width="23.0" height="10.1" fill="#a2ff5e"/>
<rect x="90.7" y="58.5" width="23.0" height="10.1" fill="#5effa2"/>
<rect x="113.3" y="58.5" width="23.0" height="10.1" fill="#1affe5"/>
<rect x="136.0" y="58.5" width="11.6" height="10.1" fill="#00d4ff"/>
<rect x="147.3" y="58.5" width="57.0" height="10.1" fill="#004dff"/>
<rect x="204.0" y="58.5" width="11.6" height="10.1" fill="#0091ff"/>
<rect x="215.3" y="58.5" width="91.0" height="10.1" fill="#004dff"/>
<rect x="306.0" y="58.5" width="11.6" height="10.1" fill="#0091ff"/>
<rect x="317.3" y="58.5" width="11.6" height="10.1" fill="#00d4ff"/>
<rect x="328.7" y="58.5" width="88.7" height="10.1" fill="#1affe5"/>
<rect x="-9.1" y="68.2" width="20.7" height="10.1" fill="#ff4c00"/>
<rect x="11.3" y="68.2" width="11.6" height="10.1" fill="#ff9100"/>
<rect x="22.7" y="68.2" width="23.0" height="10.1" fill="#ffd500"/>
<rect x="45.3" y="68.2" width="23.0" height="10.1" fill="#e5ff1a"/>
<rect x="68.0" y="68.2" width="34.3" height="10.1" fill="#a2ff5e"/>
<rect x="102.0" y="68.2" width="23.0" height="10.1" fill="#5effa2"/>
<rect x="124.7" y="68.2" width="11.6" height="10.1" fill="#1affe5"/>
<rect x="136.0" y="68.2" width="11.6" height="10.1" fill="#00d4ff"/>
<rect x="147.3" y="68.2" width="57.0" height="10.1" fill="#004dff"/>
<rect x="204.0" y="68.2" width="45.6" height="10.1" fill="#0091ff"/>
<rect x="249.3" y="68.2" width="23.0" height="10.1" fill="#004dff"/>
<rect x="272.0" y="68.2" width="34.3" height="10.1" fill="#0091ff"/>
<rect x="306.0" y="68.2" width="11.6" height="10.1" fill="#00d4ff"/>
<rect x="317.3" y="68.2" width="11.6" height="10.1" fill="#1affe5"/>
<rect x="328.7" y="68.2" width="88.7" height="10.1" fill="#a2ff5e"/>
<rect x="-9.1" y="78.0" width="32.0" height="10.1" fill="#ff4c00"/>
<rect x="22.7" y="78.0" width="23.0" height="10.1" fill="#ff9100"/>
<rect x="45.3" y="78.0" width="11.6" height="10.1" fill="#ffd500"/>
<rect x="56.7" y="78.0" width="23.0" height="10.1" fill="#e5ff1a"/>
<rect x="79.3" y="78.0" width="34.3" height="10.1" fill="#a2ff5e"/>
<rect x="113.3" y="78.0" width="11.6" height="10.1" fill="#5effa2"/>
<rect x="124.7" y="78.0" width="11.6" height="10.1" fill="#1affe5"/>
<rect x="136.0" y="78.0" width="11.6" height="10.1" fill="#00d4ff"/>
<rect x="147.3" y="78.0" width="11.6" height="10.1" fill="#0091ff"/>
<rect x="158.7" y="78.0" width="45.6" height="10.1" fill="#004dff"/>
<rect x="204.0" y="78.0" width="102.3" height="10.1" fill="#0091ff"/>
<rect x="306.0" y="78.0" width="11.6" height="10.1" fill="#00d4ff"/>
<rect x="317.3" y="78.0" width="11.6" height="10.1" fill="#5effa2"/>
<rect x="328.7" y="78.0" width="23.0" height="10.1" fill="#a2ff5e"/>
<rect x="351.3" y="78.0" width="11.6" height="10.1" fill="#e5ff1a"/>
<rect x="362.7" y="78.0" width="54.7" height="10.1" fill="#ffd500"/>
<rect x="-9.1" y="87.8" width="32.0" height="10.1" fill="#ff0800"/>
<rect x="22.7" y="87.8" width="23.0" height="10.1" fill="#ff9100"/>
<rect x="45.3" y="87.8" width="11.6" height="10.1" fill="#ffd500"/>
<rect x="56.7" y="87.8" width="23.0" height="10.1" fill="#e5ff1a"/>
<rect x="79.3" y="87.8" width="23.0" height="10.1" fill="#a2ff5e"/>
<rect x="102.0" y="87.8" width="11.6" height="10.1" fill="#5effa2"/>
<rect x="113.3" y="87.8" width="11.6" height="10.1" fill="#1affe5"/>
<rect x="124.7" y="87.8" width="11.6" height="10.1" fill="#00d4ff"/>
<rect x="136.0" y="87.8" width="23.0" height="10.1" fill="#0091ff"/>
<rect x="158.7" y="87.8" width="11.6" height="10.1" fill="#004dff"/>
<rect x="170.0" y="87.8" width="23.0" height="10.1" fill="#0091ff"/>
<rect x="192.7" y="87.8" width="11.6" height="10.1" fill="#004dff"/>
<rect x="204.0" y="87.8" width="102.3" height="10.1" fill="#0091ff"/>
<rect x="306.0" y="87.8" width="11.6" height="10.1" fill="#00d4ff"/>
<rect x="317.3" y="87.8" width="23.0" height="10.1" fill="#0091ff"/>
<rect x="340.0" y="87.8" width="11.6" height="10.1" fill="#a2ff5e"/>
<rect x="351.3" y="87.8" width="11.6" height="10.1" fill="#e5ff1a"/>
<rect x="362.7" y="87.8" width="23.0" height="10.1" fill="#ffd500"/>
<rect x="385.3" y="87.8" width="32.0" height="10.1" fill="#ff0800"/>
<rect x="-9.1" y="97.5" width="20.7" height="10.1" fill="#ff9100"/>
<rect x="11.3" y="97.5" width="11.6" height="10.1" fill="#ff0800"/>
<rect x="22.7" y="97.5" width="23.0" height="10.1" fill="#ff9100"/>
<rect x="45.3" y="97.5" width="11.6" height="10.1" fill="#ffd500"/>
<rect x="56.7" y="97.5" width="34.3" height="10.1" fill="#e5ff1a"/>
<rect x="90.7" y="97.5" width="11.6" height="10.1" fill="#a2ff5e"/>
<rect x="102.0" y="97.5" width="11.6" height="10.1" fill="#5effa2"/>
<rect x="113.3" y="97.5" width="11.6" height="10.1" fill="#1affe5"/>
<rect x="124.7" y="97.5" width="11.6" height="10.1" fill="#00d4ff"/>
<rect x="136.0" y="97.5" width="23.0" height="10.1" fill="#0091ff"/>
<rect x="158.7" y="97.5" width="11.6" height="10.1" fill="#00d4ff"/>
<rect x="170.0" y="97.5" width="11.6" height="10.1" fill="#5effa2"/>
<rect x="181.3" y="97.5" width="11.6" height="10.1" fill="#a2ff5e"/>
<rect x="192.7" y="97.5" width="11.6" height="10.1" fill="#1affe5"/>
<rect x="204.0" y="97.5" width="34.3" height="10.1" fill="#00d4ff"/>
<rect x="238.0" y="97.5" width="45.6" height="10.1" fill="#0091ff"/>
<rect x="283.3" y="97.5" width="34.3" height="10.1" fill="#00d4ff"/>
<rect x="317.3" y="97.5" width="11.6" height="10.1" fill="#000080"/>
<rect x="328.7" y="97.5" width="11.6" height="10.1" fill="#0000c3"/>
<rect x="340.0" y="97.5" width="11.6" height="10.1" fill="#a2ff5e"/>
<rect x="351.3" y="97.5" width="23.0" height="10.1" fill="#e5ff1a"/>
<rect x="374.0" y="97.5" width="11.6" height="10.1" fill="#ff0800"/>
<rect x="385.3" y="97.5" width="32.0" height="10.1" fill="#ff9100"/>
<rect x="-9.1" y="107.2" width="100.0" height="10.1" fill="#ff9100"/>
<rect x="90.7" y="107.2" width="11.6" height="10.1" fill="#a2ff5e"/>
<rect x="102.0" y="107.2" width="11.6" height="10.1" fill="#ff0800"/>
<rect x="113.3" y="107.2" width="23.0" height="10.1" fill="#0091ff"/>
<rect x="136.0" y="107.2" width="11.6" height="10.1" fill="#00d4ff"/>
<rect x="147.3" y="107.2" width="34.3" height="10.1" fill="#ff4c00"/>
<rect x="181.3" y="107.2" width="34.3" height="10.1" fill="#a2ff5e"/>
<rect x="215.3" y="107.2" width="23.0" height="10.1" fill="#1affe5"/>
<rect x="238.0" y="107.2" width="79.6" height="10.1" fill="#00d4ff"/>
<rect x="317.3" y="107.2" width="23.0" height="10.1" fill="#004dff"/>
<rect x="340.0" y="107.2" width="23.0" height="10.1" fill="#a2ff5e"/>
<rect x="362.7" y="107.2" width="34.3" height="10.1" fill="#e5ff1a"/>
<rect x="396.7" y="107.2" width="20.7" height="10.1" fill="#ff9100"/>
<rect x="-9.1" y="117.0" width="66.0" height="10.1" fill="#ffd500"/>
<rect x="56.7" y="117.0" width="34.3" height="10.1" fill="#ff4c00"/>
<rect x="90.7" y="117.0" width="11.6" height="10.1" fill="#ffd500"/>
<rect x="102.0" y="117.0" width="11.6" height="10.1" fill="#a2ff5e"/>
<rect x="113.3" y="117.0" width="11.6" height="10.1" fill="#5effa2"/>
<rect x="124.7" y="117.0" width="11.6" height="10.1" fill="#ffd500"/>
<rect x="136.0" y="117.0" width="23.0" height="10.1" fill="#ff0800"/>
<rect x="158.7" y="117.0" width="34.3" height="10.1" fill="#ff9100"/>
<rect x="192.7" y="117.0" width="23.0" height="10.1" fill="#ff0800"/>
<rect x="215.3" y="117.0" width="11.6" height="10.1" fill="#ff4c00"/>
<rect x="226.7" y="117.0" width="23.0" height="10.1" fill="#5effa2"/>
<rect x="249.3" y="117.0" width="11.6" height="10.1" fill="#1affe5"/>
<rect x="260.7" y="117.0" width="11.6" height="10.1" fill="#00d4ff"/>
<rect x="272.0" y="117.0" width="11.6" height="10.1" fill="#0091ff"/>
<rect x="283.3" y="117.0" width="23.0" height="10.1" fill="#004dff"/>
<rect x="306.0" y="117.0" width="11.6" height="10.1" fill="#0091ff"/>
<rect x="317.3" y="117.0" width="11.6" height="10.1" fill="#00d4ff"/>
<rect x="328.7" y="117.0" width="11.6" height="10.1" fill="#e5ff1a"/>
<rect x="340.0" y="117.0" width="23.0" height="10.1" fill="#ff9100"/>
<rect x="362.7" y="117.0" width="23.0" height="10.1" fill="#ff4c00"/>
<rect x="385.3" y="117.0" width="11.6" height="10.1" fill="#ff0800"/>
<rect x="396.7" y="117.0" width="20.7" height="10.1" fill="#ff4c00"/>
<rect x="-9.1" y="126.8" width="20.7" height="10.1" fill="#ff4c00"/>
<rect x="11.3" y="126.8" width="79.6" height="10.1" fill="#ff0800"/>
<rect x="90.7" y="126.8" width="11.6" height="10.1" fill="#ff4c00"/>
<rect x="102.0" y="126.8" width="11.6" height="10.1" fill="#ffd500"/>
<rect x="113.3" y="126.8" width="11.6" height="10.1" fill="#e5ff1a"/>
<rect x="124.7" y="126.8" width="45.6" height="10.1" fill="#ff9100"/>
<rect x="170.0" y="126.8" width="23.0" height="10.1" fill="#5effa2"/>
<rect x="192.7" y="126.8" width="11.6" height="10.1" fill="#a2ff5e"/>
<rect x="204.0" y="126.8" width="11.6" height="10.1" fill="#ff9100"/>
<rect x="215.3" y="126.8" width="11.6" height="10.1" fill="#ffd500"/>
<rect x="226.7" y="126.8" width="11.6" height="10.1" fill="#e5ff1a"/>
<rect x="238.0" y="126.8" width="11.6" height="10.1" fill="#ffd500"/>
<rect x="249.3" y="126.8" width="11.6" height="10.1" fill="#1affe5"/>
<rect x="260.7" y="126.8" width="11.6" height="10.1" fill="#ff4c00"/>
<rect x="272.0" y="126.8" width="11.6" height="10.1" fill="#0091ff"/>
<rect x="283.3" y="126.8" width="11.6" height="10.1" fill="#004dff"/>
<rect x="294.7" y="126.8" width="11.6" height="10.1" fill="#0008ff"/>
<rect x="306.0" y="126.8" width="11.6" height="10.1" fill="#004dff"/>
<rect x="317.3" y="126.8" width="11.6" height="10.1" fill="#00d4ff"/>
<rect x="328.7" y="126.8" width="11.6" height="10.1" fill="#1affe5"/>
<rect x="340.0" y="126.8" width="11.6" height="10.1" fill="#a2ff5e"/>
<rect x="351.3" y="126.8" width="11.6" height="10.1" fill="#e5ff1a"/>
<rect x="362.7" y="126.8" width="23.0" height="10.1" fill="#ffd500"/>
<rect x="385.3" y="126.8" width="32.0" height="10.1" fill="#ff0800"/>
<rect x="-9.1" y="136.5" width="111.4" height="10.1" fill="#ff0800"/>
<rect x="102.0" y="136.5" width="11.6" height="10.1" fill="#ff9100"/>
<rect x="113.3" y="136.5" width="23.0" height="10.1" fill="#ff0800"/>
<rect x="136.0" y="136.5" width="11.6" height="10.1" fill="#e5ff1a"/>
<rect x="147.3" y="136.5" width="11.6" height="10.1" fill="#1affe5"/>
<rect x="158.7" y="136.5" width="11.6" height="10.1" fill="#00d4ff"/>
<rect x="170.0" y="136.5" width="23.0" height="10.1" fill="#004dff"/>
<rect x="192.7" y="136.5" width="23.0" height="10.1" fill="#1affe5"/>
<rect x="215.3" y="136.5" width="11.6" height="10.1" fill="#00d4ff"/>
<rect x="226.7" y="136.5" width="11.6" height="10.1" fill="#ff0800"/>
<rect x="238.0" y="136.5" width="23.0" height="10.1" fill="#00d4ff"/>
<rect x="260.7" y="136.5" width="11.6" height="10.1" fill="#0091ff"/>
<rect x="272.0" y="136.5" width="23.0" height="10.1" fill="#004dff"/>
<rect x="294.7" y="136.5" width="11.6" height="10.1" fill="#0008ff"/>
<rect x="306.0" y="136.5" width="11.6" height="10.1" fill="#004dff"/>
<rect x="317.3" y="136.5" width="11.6" height="10.1" fill="#00d4ff"/>
<rect x="328.7" y="136.5" width="11.6" height="10.1" fill="#1affe5"/>
<rect x="340.0" y="136.5" width="11.6" height="10.1" fill="#a2ff5e"/>
<rect x="351.3" y="136.5" width="11.6" height="10.1" fill="#ffd500"/>
<rect x="362.7" y="136.5" width="11.6" height="10.1" fill="#ff9100"/>
<rect x="374.0" y="136.5" width="11.6" height="10.1" fill="#ff4c00"/>
<rect x="385.3" y="136.5" width="32.0" height="10.1" fill="#ff0800"/>
<rect x="-9.1" y="146.2" width="122.7" height="10.1" fill="#ff4c00"/>
<rect x="113.3" y="146.2" width="23.0" height="10.1" fill="#e5ff1a"/>
<rect x="136.0" y="146.2" width="11.6" height="10.1" fill="#00d4ff"/>
<rect x="147.3" y="146.2" width="11.6" height="10.1" fill="#0091ff"/>
<rect x="158.7" y="146.2" width="11.6" height="10.1" fill="#00d4ff"/>
<rect x="170.0" y="146.2" width="11.6" height="10.1" fill="#e5ff1a"/>
<rect x="181.3" y="146.2" width="11.6" height="10.1" fill="#ff0800"/>
<rect x="192.7" y="146.2" width="11.6" height="10.1" fill="#1affe5"/>
<rect x="204.0" y="146.2" width="11.6" height="10.1" fill="#5effa2"/>
<rect x="215.3" y="146.2" width="11.6" height="10.1" fill="#00d4ff"/>
<rect x="226.7" y="146.2" width="11.6" height="10.1" fill="#e5ff1a"/>
<rect x="238.0" y="146.2" width="11.6" height="10.1" fill="#a2ff5e"/>
<rect x="249.3" y="146.2" width="23.0" height="10.1" fill="#0091ff"/>
<rect x="272.0" y="146.2" width="34.3" height="10.1" fill="#004dff"/>
<rect x="306.0" y="146.2" width="11.6" height="10.1" fill="#0091ff"/>
<rect x="317.3" y="146.2" width="11.6" height="10.1" fill="#00d4ff"/>
<rect x="328.7" y="146.2" width="11.6" height="10.1" fill="#1affe5"/>
<rect x="340.0" y="146.2" width="11.6" height="10.1" fill="#a2ff5e"/>
<rect x="351.3" y="146.2" width="11.6" height="10.1" fill="#ffd500"/>
<rect x="362.7" y="146.2" width="11.6" height="10.1" fill="#ff9100"/>
<rect x="374.0" y="146.2" width="43.4" height="10.1" fill="#ff4c00"/>
<rect x="-9.1" y="156.0" width="66.0" height="10.1" fill="#ff0800"/>
<rect x="56.7" y="156.0" width="11.6" height="10.1" fill="#ff4c00"/>
<rect x="68.0" y="156.0" width="45.6" height="10.1" fill="#ff0800"/>
<rect x="113.3" y="156.0" width="11.6" height="10.1" fill="#a2ff5e"/>
<rect x="124.7" y="156.0" width="11.6" height="10.1" fill="#00d4ff"/>
<rect x="136.0" y="156.0" width="23.0" height="10.1" fill="#004dff"/>
<rect x="158.7" y="156.0" width="11.6" height="10.1" fill="#0091ff"/>
<rect x="170.0" y="156.0" width="11.6" height="10.1" fill="#e5ff1a"/>
<rect x="181.3" y="156.0" width="34.3" height="10.1" fill="#ffd500"/>
<rect x="215.3" y="156.0" width="11.6" height="10.1" fill="#5effa2"/>
<rect x="226.7" y="156.0" width="11.6" height="10.1" fill="#1affe5"/>
<rect x="238.0" y="156.0" width="11.6" height="10.1" fill="#00d4ff"/>
<rect x="249.3" y="156.0" width="23.0" height="10.1" fill="#0091ff"/>
<rect x="272.0" y="156.0" width="11.6" height="10.1" fill="#00d4ff"/>
<rect x="283.3" y="156.0" width="11.6" height="10.1" fill="#0091ff"/>
<rect x="294.7" y="156.0" width="23.0" height="10.1" fill="#004dff"/>
<rect x="317.3" y="156.0" width="11.6" height="10.1" fill="#00d4ff"/>
<rect x="328.7" y="156.0" width="11.6" height="10.1" fill="#1affe5"/>
<rect x="340.0" y="156.0" width="11.6" height="10.1" fill="#a2ff5e"/>
<rect x="351.3" y="156.0" width="11.6" height="10.1" fill="#e5ff1a"/>
<rect x="362.7" y="156.0" width="11.6" height="10.1" fill="#ffd500"/>
<rect x="374.0" y="156.0" width="11.6" height="10.1" fill="#ff4c00"/>
<rect x="385.3" y="156.0" width="32.0" height="10.1" fill="#ff0800"/>
<rect x="-9.1" y="165.8" width="77.4" height="10.1" fill="#ff0800"/>
<rect x="68.0" y="165.8" width="23.0" height="10.1" fill="#ff9100"/>
<rect x="90.7" y="165.8" width="11.6" height="10.1" fill="#ffd500"/>
<rect x="102.0" y="165.8" width="11.6" height="10.1" fill="#e5ff1a"/>
<rect x="113.3" y="165.8" width="11.6" height="10.1" fill="#00d4ff"/>
<rect x="124.7" y="165.8" width="11.6" height="10.1" fill="#004dff"/>
<rect x="136.0" y="165.8" width="11.6" height="10.1" fill="#0008ff"/>
<rect x="147.3" y="165.8" width="11.6" height="10.1" fill="#004dff"/>
<rect x="158.7" y="165.8" width="11.6" height="10.1" fill="#a2ff5e"/>
<rect x="170.0" y="165.8" width="11.6" height="10.1" fill="#ff0800"/>
<rect x="181.3" y="165.8" width="11.6" height="10.1" fill="#1affe5"/>
<rect x="192.7" y="165.8" width="11.6" height="10.1" fill="#a2ff5e"/>
<rect x="204.0" y="165.8" width="23.0" height="10.1" fill="#5effa2"/>
<rect x="226.7" y="165.8" width="11.6" height="10.1" fill="#1affe5"/>
<rect x="238.0" y="165.8" width="11.6" height="10.1" fill="#00d4ff"/>
<rect x="249.3" y="165.8" width="11.6" height="10.1" fill="#004dff"/>
<rect x="260.7" y="165.8" width="11.6" height="10.1" fill="#0091ff"/>
<rect x="272.0" y="165.8" width="11.6" height="10.1" fill="#00d4ff"/>
<rect x="283.3" y="165.8" width="11.6" height="10.1" fill="#0091ff"/>
<rect x="294.7" y="165.8" width="11.6" height="10.1" fill="#004dff"/>
<rect x="306.0" y="165.8" width="11.6" height="10.1" fill="#0091ff"/>
<rect x="317.3" y="165.8" width="11.6" height="10.1" fill="#00d4ff"/>
<rect x="328.7" y="165.8" width="11.6" height="10.1" fill="#1affe5"/>
<rect x="340.0" y="165.8" width="11.6" height="10.1" fill="#5effa2"/>
<rect x="351.3" y="165.8" width="11.6" height="10.1" fill="#a2ff5e"/>
<rect x="362.7" y="165.8" width="11.6" height="10.1" fill="#ffd500"/>
<rect x="374.0" y="165.8" width="43.4" height="10.1" fill="#ff4c00"/>
<rect x="-9.1" y="175.5" width="54.7" height="10.1" fill="#ff0800"/>
<rect x="45.3" y="175.5" width="34.3" height="10.1" fill="#ff4c00"/>
<rect x="79.3" y="175.5" width="11.6" height="10.1" fill="#ff9100"/>
<rect x="90.7" y="175.5" width="11.6" height="10.1" fill="#ffd500"/>
<rect x="102.0" y="175.5" width="11.6" height="10.1" fill="#00d4ff"/>
<rect x="113.3" y="175.5" width="11.6" height="10.1" fill="#0008ff"/>
<rect x="124.7" y="175.5" width="11.6" height="10.1" fill="#004dff"/>
<rect x="136.0" y="175.5" width="11.6" height="10.1" fill="#0008ff"/>
<rect x="147.3" y="175.5" width="23.0" height="10.1" fill="#1affe5"/>
<rect x="170.0" y="175.5" width="11.6" height="10.1" fill="#e5ff1a"/>
<rect x="181.3" y="175.5" width="11.6" height="10.1" fill="#00d4ff"/>
<rect x="192.7" y="175.5" width="45.6" height="10.1" fill="#1affe5"/>
<rect x="238.0" y="175.5" width="11.6" height="10.1" fill="#00d4ff"/>
<rect x="249.3" y="175.5" width="34.3" height="10.1" fill="#0091ff"/>
<rect x="283.3" y="175.5" width="23.0" height="10.1" fill="#004dff"/>
<rect x="306.0" y="175.5" width="11.6" height="10.1" fill="#0091ff"/>
<rect x="317.3" y="175.5" width="11.6" height="10.1" fill="#00d4ff"/>
<rect x="328.7" y="175.5" width="11.6" height="10.1" fill="#1affe5"/>
<rect x="340.0" y="175.5" width="11.6" height="10.1" fill="#5effa2"/>
<rect x="351.3" y="175.5" width="11.6" height="10.1" fill="#a2ff5e"/>
<rect x="362.7" y="175.5" width="23.0" height="10.1" fill="#ff9100"/>
<rect x="385.3" y="175.5" width="32.0" height="10.1" fill="#ff0800"/>
<rect x="-9.1" y="185.2" width="32.0" height="10.1" fill="#ff4c00"/>
<rect x="22.7" y="185.2" width="45.6" height="10.1" fill="#ff0800"/>
<rect x="68.0" y="185.2" width="34.3" height="10.1" fill="#ff4c00"/>
<rect x="102.0" y="185.2" width="11.6" height="10.1" fill="#a2ff5e"/>
<rect x="113.3" y="185.2" width="11.6" height="10.1" fill="#0091ff"/>
<rect x="124.7" y="185.2" width="11.6" height="10.1" fill="#1affe5"/>
<rect x="136.0" y="185.2" width="11.6" height="10.1" fill="#a2ff5e"/>
<rect x="147.3" y="185.2" width="23.0" height="10.1" fill="#ff0800"/>
<rect x="170.0" y="185.2" width="11.6" height="10.1" fill="#5effa2"/>
<rect x="181.3" y="185.2" width="23.0" height="10.1" fill="#004dff"/>
<rect x="204.0" y="185.2" width="23.0" height="10.1" fill="#0091ff"/>
<rect x="226.7" y="185.2" width="23.0" height="10.1" fill="#00d4ff"/>
<rect x="249.3" y="185.2" width="11.6" height="10.1" fill="#0091ff"/>
<rect x="260.7" y="185.2" width="45.6" height="10.1" fill="#004dff"/>
<rect x="306.0" y="185.2" width="11.6" height="10.1" fill="#0091ff"/>
<rect x="317.3" y="185.2" width="11.6" height="10.1" fill="#00d4ff"/>
<rect x="328.7" y="185.2" width="11.6" height="10.1" fill="#1affe5"/>
<rect x="340.0" y="185.2" width="11.6" height="10.1" fill="#5effa2"/>
<rect x="351.3" y="185.2" width="11.6" height="10.1" fill="#a2ff5e"/>
<rect x="362.7" y="185.2" width="11.6" height="10.1" fill="#e5ff1a"/>
<rect x="374.0" y="185.2" width="11.6" height="10.1" fill="#ffd500"/>
<rect x="385.3" y="185.2" width="32.0" height="10.1" fill="#ff9100"/>
<rect x="-9.1" y="195.0" width="20.7" height="10.1" fill="#ffd500"/>
<rect x="11.3" y="195.0" width="11.6" height="10.1" fill="#ff9100"/>
<rect x="22.7" y="195.0" width="11.6" height="10.1" fill="#ff4c00"/>
<rect x="34.0" y="195.0" width="79.6" height="10.1" fill="#ff0800"/>
<rect x="113.3" y="195.0" width="11.6" height="10.1" fill="#ff9100"/>
<rect x="124.7" y="195.0" width="23.0" height="10.1" fill="#ff4c00"/>
<rect x="147.3" y="195.0" width="23.0" height="10.1" fill="#a2ff5e"/>
<rect x="170.0" y="195.0" width="11.6" height="10.1" fill="#00d4ff"/>
<rect x="181.3" y="195.0" width="11.6" height="10.1" fill="#0091ff"/>
<rect x="192.7" y="195.0" width="34.3" height="10.1" fill="#004dff"/>
<rect x="226.7" y="195.0" width="11.6" height="10.1" fill="#0091ff"/>
<rect x="238.0" y="195.0" width="11.6" height="10.1" fill="#00d4ff"/>
<rect x="249.3" y="195.0" width="34.3" height="10.1" fill="#0091ff"/>
<rect x="283.3" y="195.0" width="23.0" height="10.1" fill="#004dff"/>
<rect x="306.0" y="195.0" width="11.6" height="10.1" fill="#0091ff"/>
<rect x="317.3" y="195.0" width="11.6" height="10.1" fill="#00d4ff"/>
<rect x="328.7" y="195.0" width="11.6" height="10.1" fill="#1affe5"/>
<rect x="340.0" y="195.0" width="11.6" height="10.1" fill="#5effa2"/>
<rect x="351.3" y="195.0" width="23.0" height="10.1" fill="#a2ff5e"/>
<rect x="374.0" y="195.0" width="23.0" height="10.1" fill="#e5ff1a"/>
<rect x="396.7" y="195.0" width="20.7" height="10.1" fill="#ffd500"/>
<rect x="-9.1" y="204.8" width="43.4" height="10.1" fill="#a2ff5e"/>
<rect x="34.0" y="204.8" width="23.0" height="10.1" fill="#5effa2"/>
<rect x="56.7" y="204.8" width="45.6" height="10.1" fill="#ff0800"/>
<rect x="102.0" y="204.8" width="45.6" height="10.1" fill="#ff9100"/>
<rect x="147.3" y="204.8" width="23.0" height="10.1" fill="#1affe5"/>
<rect x="170.0" y="204.8" width="11.6" height="10.1" fill="#00d4ff"/>
<rect x="181.3" y="204.8" width="45.6" height="10.1" fill="#004dff"/>
<rect x="226.7" y="204.8" width="11.6" height="10.1" fill="#0091ff"/>
<rect x="238.0" y="204.8" width="34.3" height="10.1" fill="#00d4ff"/>
<rect x="272.0" y="204.8" width="34.3" height="10.1" fill="#0091ff"/>
<rect x="306.0" y="204.8" width="23.0" height="10.1" fill="#00d4ff"/>
<rect x="328.7" y="204.8" width="11.6" height="10.1" fill="#1affe5"/>
<rect x="340.0" y="204.8" width="11.6" height="10.1" fill="#5effa2"/>
<rect x="351.3" y="204.8" width="34.3" height="10.1" fill="#a2ff5e"/>
<rect x="385.3" y="204.8" width="32.0" height="10.1" fill="#e5ff1a"/>
<rect x="-9.1" y="214.5" width="20.7" height="10.1" fill="#ff4c00"/>
<rect x="11.3" y="214.5" width="23.0" height="10.1" fill="#1affe5"/>
<rect x="34.0" y="214.5" width="11.6" height="10.1" fill="#ff9100"/>
<rect x="45.3" y="214.5" width="23.0" height="10.1" fill="#a2ff5e"/>
<rect x="68.0" y="214.5" width="34.3" height="10.1" fill="#ff4c00"/>
<rect x="102.0" y="214.5" width="23.0" height="10.1" fill="#ff0800"/>
<rect x="124.7" y="214.5" width="11.6" height="10.1" fill="#e5ff1a"/>
<rect x="136.0" y="214.5" width="11.6" height="10.1" fill="#1affe5"/>
<rect x="147.3" y="214.5" width="11.6" height="10.1" fill="#00d4ff"/>
<rect x="158.7" y="214.5" width="11.6" height="10.1" fill="#ff9100"/>
<rect x="170.0" y="214.5" width="11.6" height="10.1" fill="#0091ff"/>
<rect x="181.3" y="214.5" width="57.0" height="10.1" fill="#004dff"/>
<rect x="238.0" y="214.5" width="11.6" height="10.1" fill="#0091ff"/>
<rect x="249.3" y="214.5" width="23.0" height="10.1" fill="#00d4ff"/>
<rect x="272.0" y="214.5" width="34.3" height="10.1" fill="#0091ff"/>
<rect x="306.0" y="214.5" width="23.0" height="10.1" fill="#00d4ff"/>
<rect x="328.7" y="214.5" width="11.6" height="10.1" fill="#1affe5"/>
<rect x="340.0" y="214.5" width="23.0" height="10.1" fill="#5effa2"/>
<rect x="362.7" y="214.5" width="34.3" height="10.1" fill="#a2ff5e"/>
<rect x="396.7" y="214.5" width="20.7" height="10.1" fill="#ff9100"/>
<rect x="-9.1" y="224.2" width="77.4" height="10.1" fill="#ff0800"/>
<rect x="68.0" y="224.2" width="34.3" height="10.1" fill="#ffd500"/>
<rect x="102.0" y="224.2" width="11.6" height="10.1" fill="#e5ff1a"/>
<rect x="113.3" y="224.2" width="11.6" height="10.1" fill="#a2ff5e"/>
<rect x="124.7" y="224.2" width="11.6" height="10.1" fill="#1affe5"/>
<rect x="136.0" y="224.2" width="11.6" height="10.1" fill="#00d4ff"/>
<rect x="147.3" y="224.2" width="23.0" height="10.1" fill="#a2ff5e"/>
<rect x="170.0" y="224.2" width="68.3" height="10.1" fill="#004dff"/>
<rect x="238.0" y="224.2" width="11.6" height="10.1" fill="#0091ff"/>
<rect x="249.3" y="224.2" width="11.6" height="10.1" fill="#00d4ff"/>
<rect x="260.7" y="224.2" width="45.6" height="10.1" fill="#0091ff"/>
<rect x="306.0" y="224.2" width="23.0" height="10.1" fill="#00d4ff"/>
<rect x="328.7" y="224.2" width="11.6" height="10.1" fill="#1affe5"/>
<rect x="340.0" y="224.2" width="23.0" height="10.1" fill="#5effa2"/>
<rect x="362.7" y="224.2" width="34.3" height="10.1" fill="#a2ff5e"/>
<rect x="396.7" y="224.2" width="20.7" height="10.1" fill="#ff4c00"/>
<rect x="-9.1" y="234.0" width="54.7" height="10.1" fill="#a2ff5e"/>
<rect x="45.3" y="234.0" width="45.6" height="10.1" fill="#5effa2"/>
<rect x="90.7" y="234.0" width="11.6" height="10.1" fill="#a2ff5e"/>
<rect x="102.0" y="234.0" width="11.6" height="10.1" fill="#5effa2"/>
<rect x="113.3" y="234.0" width="11.6" height="10.1" fill="#1affe5"/>
<rect x="124.7" y="234.0" width="11.6" height="10.1" fill="#00d4ff"/>
<rect x="136.0" y="234.0" width="23.0" height="10.1" fill="#ff9100"/>
<rect x="158.7" y="234.0" width="79.6" height="10.1" fill="#004dff"/>
<rect x="238.0" y="234.0" width="45.6" height="10.1" fill="#0091ff"/>
<rect x="283.3" y="234.0" width="11.6" height="10.1" fill="#004dff"/>
<rect x="294.7" y="234.0" width="23.0" height="10.1" fill="#0091ff"/>
<rect x="317.3" y="234.0" width="23.0" height="10.1" fill="#00d4ff"/>
<rect x="340.0" y="234.0" width="45.6" height="10.1" fill="#1affe5"/>
<rect x="385.3" y="234.0" width="32.0" height="10.1" fill="#5effa2"/>
<rect x="-9.1" y="243.8" width="20.7" height="10.1" fill="#a2ff5e"/>
<rect x="11.3" y="243.8" width="23.0" height="10.1" fill="#ffd500"/>
<rect x="34.0" y="243.8" width="23.0" height="10.1" fill="#ff0800"/>
<rect x="56.7" y="243.8" width="11.6" height="10.1" fill="#5effa2"/>
<rect x="68.0" y="243.8" width="45.6" height="10.1" fill="#1affe5"/>
<rect x="113.3" y="243.8" width="11.6" height="10.1" fill="#00d4ff"/>
<rect x="124.7" y="243.8" width="11.6" height="10.1" fill="#0091ff"/>
<rect x="136.0" y="243.8" width="23.0" height="10.1" fill="#a2ff5e"/>
<rect x="158.7" y="243.8" width="91.0" height="10.1" fill="#004dff"/>
<rect x="249.3" y="243.8" width="34.3" height="10.1" fill="#0091ff"/>
<rect x="283.3" y="243.8" width="23.0" height="10.1" fill="#004dff"/>
<rect x="306.0" y="243.8" width="11.6" height="10.1" fill="#0091ff"/>
<rect x="317.3" y="243.8" width="23.0" height="10.1" fill="#00d4ff"/>
<rect x="340.0" y="243.8" width="45.6" height="10.1" fill="#1affe5"/>
<rect x="385.3" y="243.8" width="32.0" height="10.1" fill="#5effa2"/>
<rect x="-9.1" y="253.5" width="43.4" height="10.1" fill="#5effa2"/>
<rect x="34.0" y="253.5" width="23.0" height="10.1" fill="#ff0800"/>
<rect x="56.7" y="253.5" width="11.6" height="10.1" fill="#5effa2"/>
<rect x="68.0" y="253.5" width="45.6" height="10.1" fill="#1affe5"/>
<rect x="113.3" y="253.5" width="11.6" height="10.1" fill="#00d4ff"/>
<rect x="124.7" y="253.5" width="11.6" height="10.1" fill="#0091ff"/>
<rect x="136.0" y="253.5" width="11.6" height="10.1" fill="#00d4ff"/>
<rect x="147.3" y="253.5" width="11.6" height="10.1" fill="#ff4c00"/>
<rect x="158.7" y="253.5" width="125.0" height="10.1" fill="#004dff"/>
<rect x="283.3" y="253.5" width="11.6" height="10.1" fill="#0091ff"/>
<rect x="294.7" y="253.5" width="11.6" height="10.1" fill="#004dff"/>
<rect x="306.0" y="253.5" width="11.6" height="10.1" fill="#5effa2"/>
<rect x="317.3" y="253.5" width="11.6" height="10.1" fill="#0091ff"/>
<rect x="328.7" y="253.5" width="23.0" height="10.1" fill="#00d4ff"/>
<rect x="351.3" y="253.5" width="34.3" height="10.1" fill="#1affe5"/>
<rect x="385.3" y="253.5" width="32.0" height="10.1" fill="#5effa2"/>
<rect x="-9.1" y="263.2" width="77.4" height="10.1" fill="#5effa2"/>
<rect x="68.0" y="263.2" width="57.0" height="10.1" fill="#1affe5"/>
<rect x="124.7" y="263.2" width="23.0" height="10.1" fill="#00d4ff"/>
<rect x="147.3" y="263.2" width="11.6" height="10.1" fill="#ff9100"/>
<rect x="158.7" y="263.2" width="125.0" height="10.1" fill="#004dff"/>
<rect x="283.3" y="263.2" width="23.0" height="10.1" fill="#0091ff"/>
<rect x="306.0" y="263.2" width="11.6" height="10.1" fill="#a2ff5e"/>
<rect x="317.3" y="263.2" width="11.6" height="10.1" fill="#0091ff"/>
<rect x="328.7" y="263.2" width="34.3" height="10.1" fill="#00d4ff"/>
<rect x="362.7" y="263.2" width="23.0" height="10.1" fill="#1affe5"/>
<rect x="385.3" y="263.2" width="11.6" height="10.1" fill="#5effa2"/>
<rect x="396.7" y="263.2" width="20.7" height="10.1" fill="#a2ff5e"/>
<rect x="-9.1" y="273.0" width="111.4" height="10.1" fill="#1affe5"/>
<rect x="102.0" y="273.0" width="23.0" height="10.1" fill="#5effa2"/>
<rect x="124.7" y="273.0" width="23.0" height="10.1" fill="#1affe5"/>
<rect x="147.3" y="273.0" width="34.3" height="10.1" fill="#ff4c00"/>
<rect x="181.3" y="273.0" width="34.3" height="10.1" fill="#0008ff"/>
<rect x="215.3" y="273.0" width="45.6" height="10.1" fill="#004dff"/>
<rect x="260.7" y="273.0" width="45.6" height="10.1" fill="#0091ff"/>
<rect x="306.0" y="273.0" width="11.6" height="10.1" fill="#00d4ff"/>
<rect x="317.3" y="273.0" width="11.6" height="10.1" fill="#0091ff"/>
<rect x="328.7" y="273.0" width="45.6" height="10.1" fill="#00d4ff"/>
<rect x="374.0" y="273.0" width="11.6" height="10.1" fill="#1affe5"/>
<rect x="385.3" y="273.0" width="11.6" height="10.1" fill="#5effa2"/>
<rect x="396.7" y="273.0" width="20.7" height="10.1" fill="#a2ff5e"/>
<rect x="-9.1" y="282.8" width="77.4" height="10.1" fill="#0091ff"/>
<rect x="68.0" y="282.8" width="68.3" height="10.1" fill="#5effa2"/>
<rect x="136.0" y="282.8" width="11.6" height="10.1" fill="#1affe5"/>
<rect x="147.3" y="282.8" width="45.6" height="10.1" fill="#ff9100"/>
<rect x="192.7" y="282.8" width="34.3" height="10.1" fill="#0091ff"/>
<rect x="226.7" y="282.8" width="34.3" height="10.1" fill="#004dff"/>
<rect x="260.7" y="282.8" width="68.3" height="10.1" fill="#0091ff"/>
<rect x="328.7" y="282.8" width="34.3" height="10.1" fill="#00d4ff"/>
<rect x="362.7" y="282.8" width="23.0" height="10.1" fill="#1affe5"/>
<rect x="385.3" y="282.8" width="11.6" height="10.1" fill="#a2ff5e"/>
<rect x="396.7" y="282.8" width="20.7" height="10.1" fill="#ff4c00"/>
<rect x="-9.1" y="292.5" width="100.0" height="10.1" fill="#ff9100"/>
<rect x="90.7" y="292.5" width="23.0" height="10.1" fill="#5effa2"/>
<rect x="113.3" y="292.5" width="11.6" height="10.1" fill="#a2ff5e"/>
<rect x="124.7" y="292.5" width="23.0" height="10.1" fill="#5effa2"/>
<rect x="147.3" y="292.5" width="45.6" height="10.1" fill="#00d4ff"/>
<rect x="192.7" y="292.5" width="45.6" height="10.1" fill="#0091ff"/>
<rect x="238.0" y="292.5" width="11.6" height="10.1" fill="#00d4ff"/>
<rect x="249.3" y="292.5" width="11.6" height="10.1" fill="#0091ff"/>
<rect x="260.7" y="292.5" width="11.6" height="10.1" fill="#00d4ff"/>
<rect x="272.0" y="292.5" width="23.0" height="10.1" fill="#0091ff"/>
<rect x="294.7" y="292.5" width="45.6" height="10.1" fill="#00d4ff"/>
<rect x="340.0" y="292.5" width="11.6" height="10.1" fill="#1affe5"/>
<rect x="351.3" y="292.5" width="11.6" height="10.1" fill="#5effa2"/>
<rect x="362.7" y="292.5" width="23.0" height="10.1" fill="#a2ff5e"/>
<rect x="385.3" y="292.5" width="32.0" height="10.1" fill="#e5ff1a"/>
<rect x="-9.1" y="302.2" width="66.0" height="17.9" fill="#a2ff5e"/>
<rect x="56.7" y="302.2" width="57.0" height="17.9" fill="#ff4c00"/>
<rect x="113.3" y="302.2" width="11.6" height="17.9" fill="#e5ff1a"/>
<rect x="124.7" y="302.2" width="23.0" height="17.9" fill="#ff4c00"/>
<rect x="147.3" y="302.2" width="45.6" height="17.9" fill="#a2ff5e"/>
<rect x="192.7" y="302.2" width="45.6" height="17.9" fill="#004dff"/>
<rect x="238.0" y="302.2" width="79.6" height="17.9" fill="#0091ff"/>
<rect x="317.3" y="302.2" width="23.0" height="17.9" fill="#00d4ff"/>
<rect x="340.0" y="302.2" width="11.6" height="17.9" fill="#1affe5"/>
<rect x="351.3" y="302.2" width="23.0" height="17.9" fill="#5effa2"/>
<rect x="374.0" y="302.2" width="23.0" height="17.9" fill="#a2ff5e"/>
<rect x="396.7" y="302.2" width="20.7" height="17.9" fill="#5effa2"/>
</g>
<path fill="#800000" d="M67.8 -0.2h23.1v10.2h-23.1zM271.8 -0.2h23.1v10.2h-23.1zM339.8 -0.2h45.7v10.2h-45.7zM283.1 9.6h11.7v10.2h-11.7zM272.0 9.8h11.3v9.8h-11.3zM340.0 9.8h11.3v9.8h-11.3zM271.8 19.3h11.7v10.2h-11.7zM339.8 19.3h23.1v10.2h-23.1zM271.8 29.1h11.7v10.2h-11.7zM351.1 29.1h11.7v10.2h-11.7zM271.8 38.8h23.1v10.2h-23.1zM305.8 38.8h45.7v10.2h-45.7zM294.7 39.0h11.3v9.8h-11.3zM362.5 48.5h34.4v10.2h-34.4zM339.8 58.3h11.7v10.2h-11.7zM339.8 68.0h11.7v10.2h-11.7zM362.5 68.0h45.7v10.2h-45.7zM351.3 68.2h11.3v9.8h-11.3zM385.1 77.8h23.1v10.2h-23.1zM374.0 78.0h11.3v9.8h-11.3zM373.8 87.5h11.7v10.2h-11.7zM396.5 87.5h11.7v10.2h-11.7zM11.3 87.8h11.3v9.8h-11.3zM33.8 107.0h23.1v10.2h-23.1zM158.5 107.0h11.7v10.2h-11.7zM181.1 107.0h11.7v10.2h-11.7zM328.5 107.0h11.7v10.2h-11.7zM56.7 107.2h11.3v9.8h-11.3zM68.0 107.2h11.3v9.8h-11.3zM170.0 107.2h11.3v9.8h-11.3zM192.7 107.2h11.3v9.8h-11.3zM351.3 107.2h11.3v9.8h-11.3zM33.8 116.8h34.4v10.2h-34.4zM147.1 116.8h11.7v10.2h-11.7zM181.1 116.8h11.7v10.2h-11.7zM373.8 116.8h11.7v10.2h-11.7zM68.0 117.0h11.3v9.8h-11.3zM158.7 117.0h11.3v9.8h-11.3zM204.0 117.0h11.3v9.8h-11.3zM351.3 117.0h11.3v9.8h-11.3zM22.5 126.5h11.7v10.2h-11.7zM45.1 126.5h34.4v10.2h-34.4zM135.8 126.5h11.7v10.2h-11.7zM181.1 126.5h11.7v10.2h-11.7zM385.1 126.5h11.7v10.2h-11.7zM147.3 126.8h11.3v9.8h-11.3zM374.0 126.8h11.3v9.8h-11.3zM11.1 136.3h11.7v10.2h-11.7zM45.1 136.3h11.7v10.2h-11.7zM67.8 136.3h23.1v10.2h-23.1zM124.5 136.3h11.7v10.2h-11.7zM396.5 136.3h11.7v10.2h-11.7zM22.7 136.5h11.3v9.8h-11.3zM56.7 136.5h11.3v9.8h-11.3zM181.3 136.5h11.3v9.8h-11.3zM45.1 146.1h34.4v10.2h-34.4zM113.1 146.1h11.7v10.2h-11.7zM396.5 146.1h11.7v10.2h-11.7zM79.3 146.2h11.3v9.8h-11.3zM102.0 146.2h11.3v9.8h-11.3zM385.3 146.2h11.3v9.8h-11.3zM-0.2 155.8h11.7v10.2h-11.7zM396.7 156.0h11.3v9.8h-11.3zM-0.2 165.6h23.1v10.2h-23.1zM396.5 165.6h11.7v10.2h-11.7zM22.7 165.8h11.3v9.8h-11.3zM385.3 165.8h11.3v9.8h-11.3zM22.5 175.3h11.7v10.2h-11.7zM158.5 175.3h11.7v10.2h-11.7zM11.3 175.5h11.3v9.8h-11.3zM34.0 175.5h11.3v9.8h-11.3zM56.7 175.5h11.3v9.8h-11.3zM396.7 175.5h11.3v9.8h-11.3zM11.1 185.1h23.1v10.2h-23.1zM45.1 185.1h11.7v10.2h-11.7zM67.8 185.1h11.7v10.2h-11.7zM158.5 185.1h11.7v10.2h-11.7zM56.7 185.2h11.3v9.8h-11.3zM79.3 185.2h11.3v9.8h-11.3zM45.1 194.8h57.1v10.2h-57.1zM135.8 194.8h11.7v10.2h-11.7zM147.3 195.0h11.3v9.8h-11.3zM79.1 204.6h45.7v10.2h-45.7zM68.0 204.8h11.3v9.8h-11.3zM124.7 204.8h11.3v9.8h-11.3zM56.5 214.3h11.7v10.2h-11.7zM22.7 214.5h11.3v9.8h-11.3zM-0.2 224.1h11.7v10.2h-11.7zM56.5 224.1h11.7v10.2h-11.7zM158.5 224.1h11.7v10.2h-11.7zM11.3 224.2h11.3v9.8h-11.3zM34.0 224.2h11.3v9.8h-11.3zM56.5 233.8h11.7v10.2h-11.7zM147.1 233.8h23.1v10.2h-23.1zM11.3 234.0h11.3v9.8h-11.3zM22.7 243.8h11.3v9.8h-11.3zM147.3 243.8h11.3v9.8h-11.3zM11.1 253.3h11.7v10.2h-11.7zM192.5 253.3h11.7v10.2h-11.7zM22.7 253.5h11.3v9.8h-11.3zM-0.2 263.1h23.1v10.2h-23.1zM45.1 263.1h11.7v10.2h-11.7zM169.8 263.1h23.1v10.2h-23.1zM192.7 263.2h11.3v9.8h-11.3zM-0.2 272.8h11.7v10.2h-11.7zM45.1 272.8h11.7v10.2h-11.7zM158.5 272.8h11.7v10.2h-11.7zM192.5 272.8h11.7v10.2h-11.7zM-0.2 282.6h11.7v10.2h-11.7zM45.1 282.6h11.7v10.2h-11.7zM158.5 282.6h11.7v10.2h-11.7zM192.5 282.6h23.1v10.2h-23.1zM-0.2 292.3h45.7v10.2h-45.7zM56.5 292.3h23.1v10.2h-23.1zM158.5 292.3h11.7v10.2h-11.7zM203.8 292.3h11.7v10.2h-11.7zM11.1 302.1h34.4v10.2h-34.4zM79.1 302.1h11.7v10.2h-11.7zM135.8 302.1h11.7v10.2h-11.7zM158.5 302.1h11.7v10.2h-11.7zM204.0 302.2h11.3v9.8h-11.3z"/>
<path fill="#fff" d="M294.5 -0.2h45.7v10.2h-45.7zM294.5 9.6h45.7v10.2h-45.7zM283.1 19.3h57.1v10.2h-57.1zM283.1 29.1h68.4v10.2h-68.4zM351.1 38.8h11.7v10.2h-11.7zM351.1 48.5h11.7v10.2h-11.7zM351.1 58.3h57.1v10.2h-57.1zM362.5 107.0h11.7v10.2h-11.7zM33.8 126.5h11.7v10.2h-11.7zM-0.2 136.3h11.7v10.2h-11.7zM33.8 136.3h11.7v10.2h-11.7zM-0.2 146.1h45.7v10.2h-45.7zM11.1 155.8h34.4v10.2h-34.4zM33.8 165.6h23.1v10.2h-23.1zM45.1 175.3h11.7v10.2h-11.7zM22.5 224.1h11.7v10.2h-11.7zM22.5 233.8h34.4v10.2h-34.4zM33.8 243.6h11.7v10.2h-11.7zM33.8 253.3h11.7v10.2h-11.7zM22.5 263.1h23.1v10.2h-23.1zM11.1 272.8h34.4v10.2h-34.4zM169.8 272.8h23.1v10.2h-23.1zM11.1 282.6h34.4v10.2h-34.4zM169.8 282.6h23.1v10.2h-23.1zM45.1 292.3h11.7v10.2h-11.7zM169.8 292.3h34.4v10.2h-34.4zM45.1 302.1h34.4v10.2h-34.4zM169.8 302.1h34.4v10.2h-34.4z"/>
<use href="#geo" transform="matrix(1.129 0 0 -1.98 203.78 161.77)"/>
</g>
</svg>
<svg class="hm" style="left:1037.5px;top:555px" width="408" height="311.7" viewBox="0 0 408 311.7">
<defs><filter id="bl4" x="-5%" y="-5%" width="110%" height="110%"><feGaussianBlur stdDeviation="2.2"/></filter><clipPath id="cp4"><rect x="0" y="0" width="408" height="311.7"/></clipPath></defs>
<g clip-path="url(#cp4)"><g filter="url(#bl4)">
<rect x="-9.1" y="-7.8" width="20.7" height="17.8" fill="#009eff"/>
<rect x="11.3" y="-7.8" width="11.6" height="17.8" fill="#1affe5"/>
<rect x="22.7" y="-7.8" width="11.6" height="17.8" fill="#00d4ff"/>
<rect x="34.0" y="-7.8" width="11.6" height="17.8" fill="#0057ff"/>
<rect x="45.3" y="-7.8" width="11.6" height="17.8" fill="#00d4ff"/>
<rect x="56.7" y="-7.8" width="23.0" height="17.8" fill="#5effa2"/>
<rect x="79.3" y="-7.8" width="23.0" height="17.8" fill="#00d4ff"/>
<rect x="102.0" y="-7.8" width="11.6" height="17.8" fill="#009eff"/>
<rect x="113.3" y="-7.8" width="91.0" height="17.8" fill="#0057ff"/>
<rect x="204.0" y="-7.8" width="45.6" height="17.8" fill="#0014ff"/>
<rect x="249.3" y="-7.8" width="11.6" height="17.8" fill="#0057ff"/>
<rect x="260.7" y="-7.8" width="68.3" height="17.8" fill="#5effa2"/>
<rect x="328.7" y="-7.8" width="88.7" height="17.8" fill="#009eff"/>
<rect x="-9.1" y="9.7" width="54.7" height="10.0" fill="#0057ff"/>
<rect x="45.3" y="9.7" width="11.6" height="10.0" fill="#009eff"/>
<rect x="56.7" y="9.7" width="11.6" height="10.0" fill="#00d4ff"/>
<rect x="68.0" y="9.7" width="11.6" height="10.0" fill="#a2ff5e"/>
<rect x="79.3" y="9.7" width="11.6" height="10.0" fill="#5effa2"/>
<rect x="90.7" y="9.7" width="11.6" height="10.0" fill="#1affe5"/>
<rect x="102.0" y="9.7" width="11.6" height="10.0" fill="#009eff"/>
<rect x="113.3" y="9.7" width="11.6" height="10.0" fill="#0057ff"/>
<rect x="124.7" y="9.7" width="11.6" height="10.0" fill="#009eff"/>
<rect x="136.0" y="9.7" width="68.3" height="10.0" fill="#0057ff"/>
<rect x="204.0" y="9.7" width="45.6" height="10.0" fill="#0014ff"/>
<rect x="249.3" y="9.7" width="11.6" height="10.0" fill="#0057ff"/>
<rect x="260.7" y="9.7" width="57.0" height="10.0" fill="#a2ff5e"/>
<rect x="317.3" y="9.7" width="100.0" height="10.0" fill="#009eff"/>
<rect x="-9.1" y="19.5" width="20.7" height="10.0" fill="#0057ff"/>
<rect x="11.3" y="19.5" width="34.3" height="10.0" fill="#0014ff"/>
<rect x="45.3" y="19.5" width="34.3" height="10.0" fill="#0057ff"/>
<rect x="79.3" y="19.5" width="11.6" height="10.0" fill="#009eff"/>
<rect x="90.7" y="19.5" width="45.6" height="10.0" fill="#0057ff"/>
<rect x="136.0" y="19.5" width="79.6" height="10.0" fill="#0014ff"/>
<rect x="215.3" y="19.5" width="23.0" height="10.0" fill="#0000e6"/>
<rect x="238.0" y="19.5" width="11.6" height="10.0" fill="#0014ff"/>
<rect x="249.3" y="19.5" width="11.6" height="10.0" fill="#0057ff"/>
<rect x="260.7" y="19.5" width="57.0" height="10.0" fill="#ffd500"/>
<rect x="317.3" y="19.5" width="100.0" height="10.0" fill="#009eff"/>
<rect x="-9.1" y="29.2" width="32.0" height="10.0" fill="#0057ff"/>
<rect x="22.7" y="29.2" width="34.3" height="10.0" fill="#0014ff"/>
<rect x="56.7" y="29.2" width="34.3" height="10.0" fill="#0000e6"/>
<rect x="90.7" y="29.2" width="79.6" height="10.0" fill="#0014ff"/>
<rect x="170.0" y="29.2" width="11.6" height="10.0" fill="#0057ff"/>
<rect x="181.3" y="29.2" width="23.0" height="10.0" fill="#0014ff"/>
<rect x="204.0" y="29.2" width="34.3" height="10.0" fill="#0000e6"/>
<rect x="238.0" y="29.2" width="11.6" height="10.0" fill="#0014ff"/>
<rect x="249.3" y="29.2" width="11.6" height="10.0" fill="#0057ff"/>
<rect x="260.7" y="29.2" width="68.3" height="10.0" fill="#e5ff1a"/>
<rect x="328.7" y="29.2" width="88.7" height="10.0" fill="#009eff"/>
<rect x="-9.1" y="39.0" width="43.4" height="10.0" fill="#0057ff"/>
<rect x="34.0" y="39.0" width="23.0" height="10.0" fill="#0014ff"/>
<rect x="56.7" y="39.0" width="45.6" height="10.0" fill="#0000e6"/>
<rect x="102.0" y="39.0" width="34.3" height="10.0" fill="#0014ff"/>
<rect x="136.0" y="39.0" width="45.6" height="10.0" fill="#0057ff"/>
<rect x="181.3" y="39.0" width="23.0" height="10.0" fill="#0014ff"/>
<rect x="204.0" y="39.0" width="34.3" height="10.0" fill="#0000e6"/>
<rect x="238.0" y="39.0" width="11.6" height="10.0" fill="#0014ff"/>
<rect x="249.3" y="39.0" width="11.6" height="10.0" fill="#0057ff"/>
<rect x="260.7" y="39.0" width="68.3" height="10.0" fill="#1affe5"/>
<rect x="328.7" y="39.0" width="68.3" height="10.0" fill="#009eff"/>
<rect x="396.7" y="39.0" width="20.7" height="10.0" fill="#00d4ff"/>
<rect x="-9.1" y="48.7" width="20.7" height="10.0" fill="#009eff"/>
<rect x="11.3" y="48.7" width="34.3" height="10.0" fill="#0057ff"/>
<rect x="45.3" y="48.7" width="23.0" height="10.0" fill="#0014ff"/>
<rect x="68.0" y="48.7" width="34.3" height="10.0" fill="#0000e6"/>
<rect x="102.0" y="48.7" width="45.6" height="10.0" fill="#0014ff"/>
<rect x="147.3" y="48.7" width="45.6" height="10.0" fill="#0057ff"/>
<rect x="192.7" y="48.7" width="11.6" height="10.0" fill="#0014ff"/>
<rect x="204.0" y="48.7" width="45.6" height="10.0" fill="#0000e6"/>
<rect x="249.3" y="48.7" width="11.6" height="10.0" fill="#0014ff"/>
<rect x="260.7" y="48.7" width="11.6" height="10.0" fill="#0057ff"/>
<rect x="272.0" y="48.7" width="11.6" height="10.0" fill="#00d4ff"/>
<rect x="283.3" y="48.7" width="11.6" height="10.0" fill="#009eff"/>
<rect x="294.7" y="48.7" width="11.6" height="10.0" fill="#0057ff"/>
<rect x="306.0" y="48.7" width="11.6" height="10.0" fill="#009eff"/>
<rect x="317.3" y="48.7" width="11.6" height="10.0" fill="#5effa2"/>
<rect x="328.7" y="48.7" width="88.7" height="10.0" fill="#e5ff1a"/>
<rect x="-9.1" y="58.4" width="32.0" height="10.0" fill="#009eff"/>
<rect x="22.7" y="58.4" width="34.3" height="10.0" fill="#0057ff"/>
<rect x="56.7" y="58.4" width="23.0" height="10.0" fill="#0014ff"/>
<rect x="79.3" y="58.4" width="23.0" height="10.0" fill="#0000e6"/>
<rect x="102.0" y="58.4" width="45.6" height="10.0" fill="#0014ff"/>
<rect x="147.3" y="58.4" width="34.3" height="10.0" fill="#0057ff"/>
<rect x="181.3" y="58.4" width="23.0" height="10.0" fill="#0014ff"/>
<rect x="204.0" y="58.4" width="34.3" height="10.0" fill="#0000e6"/>
<rect x="238.0" y="58.4" width="79.6" height="10.0" fill="#0014ff"/>
<rect x="317.3" y="58.4" width="11.6" height="10.0" fill="#0057ff"/>
<rect x="328.7" y="58.4" width="88.7" height="10.0" fill="#009eff"/>
<rect x="-9.1" y="68.2" width="43.4" height="10.0" fill="#009eff"/>
<rect x="34.0" y="68.2" width="23.0" height="10.0" fill="#0057ff"/>
<rect x="56.7" y="68.2" width="11.6" height="10.0" fill="#0014ff"/>
<rect x="68.0" y="68.2" width="23.0" height="10.0" fill="#0057ff"/>
<rect x="90.7" y="68.2" width="57.0" height="10.0" fill="#0014ff"/>
<rect x="147.3" y="68.2" width="23.0" height="10.0" fill="#0057ff"/>
<rect x="170.0" y="68.2" width="68.3" height="10.0" fill="#0014ff"/>
<rect x="238.0" y="68.2" width="45.6" height="10.0" fill="#0057ff"/>
<rect x="283.3" y="68.2" width="45.6" height="10.0" fill="#0014ff"/>
<rect x="328.7" y="68.2" width="88.7" height="10.0" fill="#009eff"/>
<rect x="-9.1" y="77.9" width="32.0" height="10.0" fill="#1affe5"/>
<rect x="22.7" y="77.9" width="34.3" height="10.0" fill="#009eff"/>
<rect x="56.7" y="77.9" width="23.0" height="10.0" fill="#0057ff"/>
<rect x="79.3" y="77.9" width="11.6" height="10.0" fill="#0014ff"/>
<rect x="90.7" y="77.9" width="23.0" height="10.0" fill="#0000e6"/>
<rect x="113.3" y="77.9" width="11.6" height="10.0" fill="#0014ff"/>
<rect x="124.7" y="77.9" width="68.3" height="10.0" fill="#0057ff"/>
<rect x="192.7" y="77.9" width="11.6" height="10.0" fill="#0014ff"/>
<rect x="204.0" y="77.9" width="34.3" height="10.0" fill="#0000e6"/>
<rect x="238.0" y="77.9" width="11.6" height="10.0" fill="#0014ff"/>
<rect x="249.3" y="77.9" width="11.6" height="10.0" fill="#0057ff"/>
<rect x="260.7" y="77.9" width="45.6" height="10.0" fill="#0014ff"/>
<rect x="306.0" y="77.9" width="45.6" height="10.0" fill="#0057ff"/>
<rect x="351.3" y="77.9" width="66.0" height="10.0" fill="#0014ff"/>
<rect x="-9.1" y="87.7" width="54.7" height="10.0" fill="#00d4ff"/>
<rect x="45.3" y="87.7" width="23.0" height="10.0" fill="#009eff"/>
<rect x="68.0" y="87.7" width="11.6" height="10.0" fill="#0057ff"/>
<rect x="79.3" y="87.7" width="11.6" height="10.0" fill="#0014ff"/>
<rect x="90.7" y="87.7" width="11.6" height="10.0" fill="#0000e6"/>
<rect x="102.0" y="87.7" width="11.6" height="10.0" fill="#0014ff"/>
<rect x="113.3" y="87.7" width="68.3" height="10.0" fill="#0057ff"/>
<rect x="181.3" y="87.7" width="11.6" height="10.0" fill="#0014ff"/>
<rect x="192.7" y="87.7" width="45.6" height="10.0" fill="#0000e6"/>
<rect x="238.0" y="87.7" width="11.6" height="10.0" fill="#0014ff"/>
<rect x="249.3" y="87.7" width="11.6" height="10.0" fill="#009eff"/>
<rect x="260.7" y="87.7" width="23.0" height="10.0" fill="#0057ff"/>
<rect x="283.3" y="87.7" width="45.6" height="10.0" fill="#009eff"/>
<rect x="328.7" y="87.7" width="11.6" height="10.0" fill="#0057ff"/>
<rect x="340.0" y="87.7" width="77.4" height="10.0" fill="#0014ff"/>
<rect x="-9.1" y="97.4" width="20.7" height="10.0" fill="#1affe5"/>
<rect x="11.3" y="97.4" width="11.6" height="10.0" fill="#ff9100"/>
<rect x="22.7" y="97.4" width="11.6" height="10.0" fill="#00d4ff"/>
<rect x="34.0" y="97.4" width="11.6" height="10.0" fill="#a2ff5e"/>
<rect x="45.3" y="97.4" width="23.0" height="10.0" fill="#00d4ff"/>
<rect x="68.0" y="97.4" width="23.0" height="10.0" fill="#009eff"/>
<rect x="90.7" y="97.4" width="11.6" height="10.0" fill="#0057ff"/>
<rect x="102.0" y="97.4" width="45.6" height="10.0" fill="#009eff"/>
<rect x="147.3" y="97.4" width="45.6" height="10.0" fill="#0057ff"/>
<rect x="192.7" y="97.4" width="11.6" height="10.0" fill="#1affe5"/>
<rect x="204.0" y="97.4" width="45.6" height="10.0" fill="#0057ff"/>
<rect x="249.3" y="97.4" width="11.6" height="10.0" fill="#009eff"/>
<rect x="260.7" y="97.4" width="11.6" height="10.0" fill="#0057ff"/>
<rect x="272.0" y="97.4" width="11.6" height="10.0" fill="#009eff"/>
<rect x="283.3" y="97.4" width="34.3" height="10.0" fill="#00d4ff"/>
<rect x="317.3" y="97.4" width="11.6" height="10.0" fill="#009eff"/>
<rect x="328.7" y="97.4" width="11.6" height="10.0" fill="#0057ff"/>
<rect x="340.0" y="97.4" width="11.6" height="10.0" fill="#009eff"/>
<rect x="351.3" y="97.4" width="11.6" height="10.0" fill="#5effa2"/>
<rect x="362.7" y="97.4" width="23.0" height="10.0" fill="#ff9100"/>
<rect x="385.3" y="97.4" width="32.0" height="10.0" fill="#00d4ff"/>
<rect x="-9.1" y="107.1" width="20.7" height="10.0" fill="#00d4ff"/>
<rect x="11.3" y="107.1" width="11.6" height="10.0" fill="#009eff"/>
<rect x="22.7" y="107.1" width="23.0" height="10.0" fill="#0057ff"/>
<rect x="45.3" y="107.1" width="23.0" height="10.0" fill="#00d4ff"/>
<rect x="68.0" y="107.1" width="11.6" height="10.0" fill="#e5ff1a"/>
<rect x="79.3" y="107.1" width="11.6" height="10.0" fill="#a2ff5e"/>
<rect x="90.7" y="107.1" width="45.6" height="10.0" fill="#00d4ff"/>
<rect x="136.0" y="107.1" width="23.0" height="10.0" fill="#009eff"/>
<rect x="158.7" y="107.1" width="11.6" height="10.0" fill="#00d4ff"/>
<rect x="170.0" y="107.1" width="11.6" height="10.0" fill="#1affe5"/>
<rect x="181.3" y="107.1" width="23.0" height="10.0" fill="#5effa2"/>
<rect x="204.0" y="107.1" width="23.0" height="10.0" fill="#a2ff5e"/>
<rect x="226.7" y="107.1" width="23.0" height="10.0" fill="#00d4ff"/>
<rect x="249.3" y="107.1" width="11.6" height="10.0" fill="#009eff"/>
<rect x="260.7" y="107.1" width="11.6" height="10.0" fill="#0057ff"/>
<rect x="272.0" y="107.1" width="23.0" height="10.0" fill="#5effa2"/>
<rect x="294.7" y="107.1" width="23.0" height="10.0" fill="#00d4ff"/>
<rect x="317.3" y="107.1" width="23.0" height="10.0" fill="#009eff"/>
<rect x="340.0" y="107.1" width="23.0" height="10.0" fill="#e5ff1a"/>
<rect x="362.7" y="107.1" width="54.7" height="10.0" fill="#00d4ff"/>
<rect x="-9.1" y="116.9" width="20.7" height="10.0" fill="#00d4ff"/>
<rect x="11.3" y="116.9" width="34.3" height="10.0" fill="#009eff"/>
<rect x="45.3" y="116.9" width="45.6" height="10.0" fill="#00d4ff"/>
<rect x="90.7" y="116.9" width="11.6" height="10.0" fill="#009eff"/>
<rect x="102.0" y="116.9" width="11.6" height="10.0" fill="#00d4ff"/>
<rect x="113.3" y="116.9" width="11.6" height="10.0" fill="#009eff"/>
<rect x="124.7" y="116.9" width="23.0" height="10.0" fill="#0057ff"/>
<rect x="147.3" y="116.9" width="57.0" height="10.0" fill="#5effa2"/>
<rect x="204.0" y="116.9" width="23.0" height="10.0" fill="#ffd500"/>
<rect x="226.7" y="116.9" width="11.6" height="10.0" fill="#5effa2"/>
<rect x="238.0" y="116.9" width="11.6" height="10.0" fill="#00d4ff"/>
<rect x="249.3" y="116.9" width="11.6" height="10.0" fill="#009eff"/>
<rect x="260.7" y="116.9" width="11.6" height="10.0" fill="#e5ff1a"/>
<rect x="272.0" y="116.9" width="23.0" height="10.0" fill="#00d4ff"/>
<rect x="294.7" y="116.9" width="11.6" height="10.0" fill="#1affe5"/>
<rect x="306.0" y="116.9" width="11.6" height="10.0" fill="#5effa2"/>
<rect x="317.3" y="116.9" width="11.6" height="10.0" fill="#009eff"/>
<rect x="328.7" y="116.9" width="34.3" height="10.0" fill="#a2ff5e"/>
<rect x="362.7" y="116.9" width="34.3" height="10.0" fill="#1affe5"/>
<rect x="396.7" y="116.9" width="20.7" height="10.0" fill="#00d4ff"/>
<rect x="-9.1" y="126.6" width="43.4" height="10.0" fill="#00d4ff"/>
<rect x="34.0" y="126.6" width="23.0" height="10.0" fill="#ff9100"/>
<rect x="56.7" y="126.6" width="34.3" height="10.0" fill="#00d4ff"/>
<rect x="90.7" y="126.6" width="34.3" height="10.0" fill="#009eff"/>
<rect x="124.7" y="126.6" width="11.6" height="10.0" fill="#0057ff"/>
<rect x="136.0" y="126.6" width="23.0" height="10.0" fill="#1affe5"/>
<rect x="158.7" y="126.6" width="11.6" height="10.0" fill="#5effa2"/>
<rect x="170.0" y="126.6" width="23.0" height="10.0" fill="#1affe5"/>
<rect x="192.7" y="126.6" width="45.6" height="10.0" fill="#5effa2"/>
<rect x="238.0" y="126.6" width="11.6" height="10.0" fill="#a2ff5e"/>
<rect x="249.3" y="126.6" width="11.6" height="10.0" fill="#0057ff"/>
<rect x="260.7" y="126.6" width="11.6" height="10.0" fill="#a2ff5e"/>
<rect x="272.0" y="126.6" width="34.3" height="10.0" fill="#009eff"/>
<rect x="306.0" y="126.6" width="23.0" height="10.0" fill="#0057ff"/>
<rect x="328.7" y="126.6" width="23.0" height="10.0" fill="#009eff"/>
<rect x="351.3" y="126.6" width="11.6" height="10.0" fill="#00d4ff"/>
<rect x="362.7" y="126.6" width="23.0" height="10.0" fill="#009eff"/>
<rect x="385.3" y="126.6" width="32.0" height="10.0" fill="#a2ff5e"/>
<rect x="-9.1" y="136.4" width="66.0" height="10.0" fill="#ff9100"/>
<rect x="56.7" y="136.4" width="11.6" height="10.0" fill="#009eff"/>
<rect x="68.0" y="136.4" width="11.6" height="10.0" fill="#e5ff1a"/>
<rect x="79.3" y="136.4" width="11.6" height="10.0" fill="#009eff"/>
<rect x="90.7" y="136.4" width="11.6" height="10.0" fill="#0057ff"/>
<rect x="102.0" y="136.4" width="23.0" height="10.0" fill="#00d4ff"/>
<rect x="124.7" y="136.4" width="11.6" height="10.0" fill="#009eff"/>
<rect x="136.0" y="136.4" width="11.6" height="10.0" fill="#1affe5"/>
<rect x="147.3" y="136.4" width="34.3" height="10.0" fill="#5effa2"/>
<rect x="181.3" y="136.4" width="23.0" height="10.0" fill="#ff9100"/>
<rect x="204.0" y="136.4" width="34.3" height="10.0" fill="#a2ff5e"/>
<rect x="238.0" y="136.4" width="11.6" height="10.0" fill="#00d4ff"/>
<rect x="249.3" y="136.4" width="68.3" height="10.0" fill="#009eff"/>
<rect x="317.3" y="136.4" width="11.6" height="10.0" fill="#00d4ff"/>
<rect x="328.7" y="136.4" width="45.6" height="10.0" fill="#009eff"/>
<rect x="374.0" y="136.4" width="43.4" height="10.0" fill="#00d4ff"/>
<rect x="-9.1" y="146.1" width="111.4" height="10.0" fill="#009eff"/>
<rect x="102.0" y="146.1" width="11.6" height="10.0" fill="#1affe5"/>
<rect x="113.3" y="146.1" width="11.6" height="10.0" fill="#00d4ff"/>
<rect x="124.7" y="146.1" width="11.6" height="10.0" fill="#009eff"/>
<rect x="136.0" y="146.1" width="23.0" height="10.0" fill="#1affe5"/>
<rect x="158.7" y="146.1" width="23.0" height="10.0" fill="#e5ff1a"/>
<rect x="181.3" y="146.1" width="11.6" height="10.0" fill="#ff9100"/>
<rect x="192.7" y="146.1" width="11.6" height="10.0" fill="#5effa2"/>
<rect x="204.0" y="146.1" width="23.0" height="10.0" fill="#1affe5"/>
<rect x="226.7" y="146.1" width="11.6" height="10.0" fill="#e5ff1a"/>
<rect x="238.0" y="146.1" width="11.6" height="10.0" fill="#a2ff5e"/>
<rect x="249.3" y="146.1" width="34.3" height="10.0" fill="#009eff"/>
<rect x="283.3" y="146.1" width="11.6" height="10.0" fill="#0057ff"/>
<rect x="294.7" y="146.1" width="91.0" height="10.0" fill="#009eff"/>
<rect x="385.3" y="146.1" width="32.0" height="10.0" fill="#a2ff5e"/>
<rect x="-9.1" y="155.8" width="77.4" height="10.0" fill="#00d4ff"/>
<rect x="68.0" y="155.8" width="34.3" height="10.0" fill="#009eff"/>
<rect x="102.0" y="155.8" width="11.6" height="10.0" fill="#00d4ff"/>
<rect x="113.3" y="155.8" width="11.6" height="10.0" fill="#1affe5"/>
<rect x="124.7" y="155.8" width="23.0" height="10.0" fill="#00d4ff"/>
<rect x="147.3" y="155.8" width="11.6" height="10.0" fill="#1affe5"/>
<rect x="158.7" y="155.8" width="11.6" height="10.0" fill="#5effa2"/>
<rect x="170.0" y="155.8" width="11.6" height="10.0" fill="#1affe5"/>
<rect x="181.3" y="155.8" width="23.0" height="10.0" fill="#00d4ff"/>
<rect x="204.0" y="155.8" width="213.4" height="10.0" fill="#009eff"/>
<rect x="-9.1" y="165.6" width="20.7" height="10.0" fill="#1affe5"/>
<rect x="11.3" y="165.6" width="34.3" height="10.0" fill="#ffd500"/>
<rect x="45.3" y="165.6" width="57.0" height="10.0" fill="#009eff"/>
<rect x="102.0" y="165.6" width="11.6" height="10.0" fill="#5effa2"/>
<rect x="113.3" y="165.6" width="11.6" height="10.0" fill="#00d4ff"/>
<rect x="124.7" y="165.6" width="11.6" height="10.0" fill="#009eff"/>
<rect x="136.0" y="165.6" width="11.6" height="10.0" fill="#00d4ff"/>
<rect x="147.3" y="165.6" width="11.6" height="10.0" fill="#5effa2"/>
<rect x="158.7" y="165.6" width="11.6" height="10.0" fill="#1affe5"/>
<rect x="170.0" y="165.6" width="11.6" height="10.0" fill="#00d4ff"/>
<rect x="181.3" y="165.6" width="11.6" height="10.0" fill="#009eff"/>
<rect x="192.7" y="165.6" width="11.6" height="10.0" fill="#00d4ff"/>
<rect x="204.0" y="165.6" width="11.6" height="10.0" fill="#009eff"/>
<rect x="215.3" y="165.6" width="23.0" height="10.0" fill="#00d4ff"/>
<rect x="238.0" y="165.6" width="34.3" height="10.0" fill="#0057ff"/>
<rect x="272.0" y="165.6" width="102.3" height="10.0" fill="#009eff"/>
<rect x="374.0" y="165.6" width="11.6" height="10.0" fill="#ff9100"/>
<rect x="385.3" y="165.6" width="32.0" height="10.0" fill="#009eff"/>
<rect x="-9.1" y="175.3" width="111.4" height="10.0" fill="#009eff"/>
<rect x="102.0" y="175.3" width="11.6" height="10.0" fill="#5effa2"/>
<rect x="113.3" y="175.3" width="23.0" height="10.0" fill="#009eff"/>
<rect x="136.0" y="175.3" width="23.0" height="10.0" fill="#00d4ff"/>
<rect x="158.7" y="175.3" width="11.6" height="10.0" fill="#0057ff"/>
<rect x="170.0" y="175.3" width="11.6" height="10.0" fill="#00d4ff"/>
<rect x="181.3" y="175.3" width="11.6" height="10.0" fill="#009eff"/>
<rect x="192.7" y="175.3" width="11.6" height="10.0" fill="#00d4ff"/>
<rect x="204.0" y="175.3" width="11.6" height="10.0" fill="#009eff"/>
<rect x="215.3" y="175.3" width="23.0" height="10.0" fill="#00d4ff"/>
<rect x="238.0" y="175.3" width="34.3" height="10.0" fill="#009eff"/>
<rect x="272.0" y="175.3" width="34.3" height="10.0" fill="#00d4ff"/>
<rect x="306.0" y="175.3" width="11.6" height="10.0" fill="#0057ff"/>
<rect x="317.3" y="175.3" width="100.0" height="10.0" fill="#009eff"/>
<rect x="-9.1" y="185.1" width="43.4" height="10.0" fill="#0057ff"/>
<rect x="34.0" y="185.1" width="11.6" height="10.0" fill="#009eff"/>
<rect x="45.3" y="185.1" width="23.0" height="10.0" fill="#ff9100"/>
<rect x="68.0" y="185.1" width="34.3" height="10.0" fill="#009eff"/>
<rect x="102.0" y="185.1" width="11.6" height="10.0" fill="#5effa2"/>
<rect x="113.3" y="185.1" width="11.6" height="10.0" fill="#009eff"/>
<rect x="124.7" y="185.1" width="11.6" height="10.0" fill="#0057ff"/>
<rect x="136.0" y="185.1" width="23.0" height="10.0" fill="#009eff"/>
<rect x="158.7" y="185.1" width="11.6" height="10.0" fill="#0014ff"/>
<rect x="170.0" y="185.1" width="11.6" height="10.0" fill="#009eff"/>
<rect x="181.3" y="185.1" width="23.0" height="10.0" fill="#00d4ff"/>
<rect x="204.0" y="185.1" width="68.3" height="10.0" fill="#009eff"/>
<rect x="272.0" y="185.1" width="23.0" height="10.0" fill="#00d4ff"/>
<rect x="294.7" y="185.1" width="34.3" height="10.0" fill="#0057ff"/>
<rect x="328.7" y="185.1" width="23.0" height="10.0" fill="#009eff"/>
<rect x="351.3" y="185.1" width="11.6" height="10.0" fill="#0057ff"/>
<rect x="362.7" y="185.1" width="54.7" height="10.0" fill="#009eff"/>
<rect x="-9.1" y="194.8" width="20.7" height="10.0" fill="#0014ff"/>
<rect x="11.3" y="194.8" width="34.3" height="10.0" fill="#0057ff"/>
<rect x="45.3" y="194.8" width="57.0" height="10.0" fill="#009eff"/>
<rect x="102.0" y="194.8" width="11.6" height="10.0" fill="#5effa2"/>
<rect x="113.3" y="194.8" width="11.6" height="10.0" fill="#009eff"/>
<rect x="124.7" y="194.8" width="11.6" height="10.0" fill="#0057ff"/>
<rect x="136.0" y="194.8" width="11.6" height="10.0" fill="#009eff"/>
<rect x="147.3" y="194.8" width="11.6" height="10.0" fill="#0057ff"/>
<rect x="158.7" y="194.8" width="11.6" height="10.0" fill="#0014ff"/>
<rect x="170.0" y="194.8" width="11.6" height="10.0" fill="#009eff"/>
<rect x="181.3" y="194.8" width="23.0" height="10.0" fill="#00d4ff"/>
<rect x="204.0" y="194.8" width="11.6" height="10.0" fill="#0057ff"/>
<rect x="215.3" y="194.8" width="11.6" height="10.0" fill="#0014ff"/>
<rect x="226.7" y="194.8" width="11.6" height="10.0" fill="#0057ff"/>
<rect x="238.0" y="194.8" width="11.6" height="10.0" fill="#009eff"/>
<rect x="249.3" y="194.8" width="23.0" height="10.0" fill="#0057ff"/>
<rect x="272.0" y="194.8" width="23.0" height="10.0" fill="#00d4ff"/>
<rect x="294.7" y="194.8" width="45.6" height="10.0" fill="#009eff"/>
<rect x="340.0" y="194.8" width="34.3" height="10.0" fill="#0057ff"/>
<rect x="374.0" y="194.8" width="43.4" height="10.0" fill="#009eff"/>
<rect x="-9.1" y="204.6" width="32.0" height="10.0" fill="#0057ff"/>
<rect x="22.7" y="204.6" width="11.6" height="10.0" fill="#00d4ff"/>
<rect x="34.0" y="204.6" width="11.6" height="10.0" fill="#009eff"/>
<rect x="45.3" y="204.6" width="11.6" height="10.0" fill="#0057ff"/>
<rect x="56.7" y="204.6" width="11.6" height="10.0" fill="#ffd500"/>
<rect x="68.0" y="204.6" width="34.3" height="10.0" fill="#00d4ff"/>
<rect x="102.0" y="204.6" width="11.6" height="10.0" fill="#1affe5"/>
<rect x="113.3" y="204.6" width="11.6" height="10.0" fill="#00d4ff"/>
<rect x="124.7" y="204.6" width="23.0" height="10.0" fill="#0057ff"/>
<rect x="147.3" y="204.6" width="11.6" height="10.0" fill="#0014ff"/>
<rect x="158.7" y="204.6" width="11.6" height="10.0" fill="#0057ff"/>
<rect x="170.0" y="204.6" width="34.3" height="10.0" fill="#00d4ff"/>
<rect x="204.0" y="204.6" width="11.6" height="10.0" fill="#0057ff"/>
<rect x="215.3" y="204.6" width="23.0" height="10.0" fill="#0014ff"/>
<rect x="238.0" y="204.6" width="34.3" height="10.0" fill="#0057ff"/>
<rect x="272.0" y="204.6" width="57.0" height="10.0" fill="#00d4ff"/>
<rect x="328.7" y="204.6" width="11.6" height="10.0" fill="#009eff"/>
<rect x="340.0" y="204.6" width="11.6" height="10.0" fill="#0057ff"/>
<rect x="351.3" y="204.6" width="11.6" height="10.0" fill="#0014ff"/>
<rect x="362.7" y="204.6" width="11.6" height="10.0" fill="#0057ff"/>
<rect x="374.0" y="204.6" width="23.0" height="10.0" fill="#009eff"/>
<rect x="396.7" y="204.6" width="20.7" height="10.0" fill="#00d4ff"/>
<rect x="-9.1" y="214.3" width="43.4" height="10.0" fill="#ffd500"/>
<rect x="34.0" y="214.3" width="34.3" height="10.0" fill="#a2ff5e"/>
<rect x="68.0" y="214.3" width="23.0" height="10.0" fill="#00d4ff"/>
<rect x="90.7" y="214.3" width="11.6" height="10.0" fill="#009eff"/>
<rect x="102.0" y="214.3" width="23.0" height="10.0" fill="#00d4ff"/>
<rect x="124.7" y="214.3" width="11.6" height="10.0" fill="#009eff"/>
<rect x="136.0" y="214.3" width="11.6" height="10.0" fill="#0057ff"/>
<rect x="147.3" y="214.3" width="11.6" height="10.0" fill="#0014ff"/>
<rect x="158.7" y="214.3" width="11.6" height="10.0" fill="#ff9100"/>
<rect x="170.0" y="214.3" width="34.3" height="10.0" fill="#00d4ff"/>
<rect x="204.0" y="214.3" width="11.6" height="10.0" fill="#0057ff"/>
<rect x="215.3" y="214.3" width="23.0" height="10.0" fill="#0014ff"/>
<rect x="238.0" y="214.3" width="11.6" height="10.0" fill="#0057ff"/>
<rect x="249.3" y="214.3" width="11.6" height="10.0" fill="#00d4ff"/>
<rect x="260.7" y="214.3" width="68.3" height="10.0" fill="#009eff"/>
<rect x="328.7" y="214.3" width="11.6" height="10.0" fill="#0057ff"/>
<rect x="340.0" y="214.3" width="34.3" height="10.0" fill="#0014ff"/>
<rect x="374.0" y="214.3" width="11.6" height="10.0" fill="#0057ff"/>
<rect x="385.3" y="214.3" width="32.0" height="10.0" fill="#009eff"/>
<rect x="-9.1" y="224.0" width="134.0" height="10.0" fill="#00d4ff"/>
<rect x="124.7" y="224.0" width="11.6" height="10.0" fill="#009eff"/>
<rect x="136.0" y="224.0" width="34.3" height="10.0" fill="#0057ff"/>
<rect x="170.0" y="224.0" width="34.3" height="10.0" fill="#00d4ff"/>
<rect x="204.0" y="224.0" width="11.6" height="10.0" fill="#0057ff"/>
<rect x="215.3" y="224.0" width="11.6" height="10.0" fill="#0014ff"/>
<rect x="226.7" y="224.0" width="23.0" height="10.0" fill="#0057ff"/>
<rect x="249.3" y="224.0" width="11.6" height="10.0" fill="#1affe5"/>
<rect x="260.7" y="224.0" width="68.3" height="10.0" fill="#009eff"/>
<rect x="328.7" y="224.0" width="11.6" height="10.0" fill="#0057ff"/>
<rect x="340.0" y="224.0" width="34.3" height="10.0" fill="#0014ff"/>
<rect x="374.0" y="224.0" width="11.6" height="10.0" fill="#0057ff"/>
<rect x="385.3" y="224.0" width="32.0" height="10.0" fill="#009eff"/>
<rect x="-9.1" y="233.8" width="54.7" height="10.0" fill="#009eff"/>
<rect x="45.3" y="233.8" width="68.3" height="10.0" fill="#00d4ff"/>
<rect x="113.3" y="233.8" width="91.0" height="10.0" fill="#009eff"/>
<rect x="204.0" y="233.8" width="23.0" height="10.0" fill="#0057ff"/>
<rect x="226.7" y="233.8" width="11.6" height="10.0" fill="#0014ff"/>
<rect x="238.0" y="233.8" width="11.6" height="10.0" fill="#0057ff"/>
<rect x="249.3" y="233.8" width="11.6" height="10.0" fill="#00d4ff"/>
<rect x="260.7" y="233.8" width="34.3" height="10.0" fill="#0057ff"/>
<rect x="294.7" y="233.8" width="23.0" height="10.0" fill="#009eff"/>
<rect x="317.3" y="233.8" width="100.0" height="10.0" fill="#0057ff"/>
<rect x="-9.1" y="243.5" width="20.7" height="10.0" fill="#009eff"/>
<rect x="11.3" y="243.5" width="34.3" height="10.0" fill="#ff9100"/>
<rect x="45.3" y="243.5" width="23.0" height="10.0" fill="#1affe5"/>
<rect x="68.0" y="243.5" width="11.6" height="10.0" fill="#00d4ff"/>
<rect x="79.3" y="243.5" width="125.0" height="10.0" fill="#009eff"/>
<rect x="204.0" y="243.5" width="23.0" height="10.0" fill="#0057ff"/>
<rect x="226.7" y="243.5" width="11.6" height="10.0" fill="#0014ff"/>
<rect x="238.0" y="243.5" width="23.0" height="10.0" fill="#0057ff"/>
<rect x="260.7" y="243.5" width="23.0" height="10.0" fill="#0014ff"/>
<rect x="283.3" y="243.5" width="11.6" height="10.0" fill="#0057ff"/>
<rect x="294.7" y="243.5" width="11.6" height="10.0" fill="#009eff"/>
<rect x="306.0" y="243.5" width="11.6" height="10.0" fill="#a2ff5e"/>
<rect x="317.3" y="243.5" width="100.0" height="10.0" fill="#0057ff"/>
<rect x="-9.1" y="253.3" width="43.4" height="10.0" fill="#1affe5"/>
<rect x="34.0" y="253.3" width="91.0" height="10.0" fill="#009eff"/>
<rect x="124.7" y="253.3" width="11.6" height="10.0" fill="#0057ff"/>
<rect x="136.0" y="253.3" width="57.0" height="10.0" fill="#009eff"/>
<rect x="192.7" y="253.3" width="34.3" height="10.0" fill="#0057ff"/>
<rect x="226.7" y="253.3" width="11.6" height="10.0" fill="#0014ff"/>
<rect x="238.0" y="253.3" width="11.6" height="10.0" fill="#0057ff"/>
<rect x="249.3" y="253.3" width="45.6" height="10.0" fill="#0014ff"/>
<rect x="294.7" y="253.3" width="11.6" height="10.0" fill="#00d4ff"/>
<rect x="306.0" y="253.3" width="11.6" height="10.0" fill="#ffd500"/>
<rect x="317.3" y="253.3" width="79.6" height="10.0" fill="#0057ff"/>
<rect x="396.7" y="253.3" width="20.7" height="10.0" fill="#a2ff5e"/>
<rect x="-9.1" y="263.0" width="77.4" height="10.0" fill="#ff9100"/>
<rect x="68.0" y="263.0" width="45.6" height="10.0" fill="#009eff"/>
<rect x="113.3" y="263.0" width="23.0" height="10.0" fill="#0057ff"/>
<rect x="136.0" y="263.0" width="45.6" height="10.0" fill="#00d4ff"/>
<rect x="181.3" y="263.0" width="68.3" height="10.0" fill="#0057ff"/>
<rect x="249.3" y="263.0" width="45.6" height="10.0" fill="#0014ff"/>
<rect x="294.7" y="263.0" width="11.6" height="10.0" fill="#009eff"/>
<rect x="306.0" y="263.0" width="11.6" height="10.0" fill="#e5ff1a"/>
<rect x="317.3" y="263.0" width="57.0" height="10.0" fill="#0057ff"/>
<rect x="374.0" y="263.0" width="11.6" height="10.0" fill="#0014ff"/>
<rect x="385.3" y="263.0" width="32.0" height="10.0" fill="#0057ff"/>
<rect x="-9.1" y="272.7" width="77.4" height="10.0" fill="#ff9100"/>
<rect x="68.0" y="272.7" width="34.3" height="10.0" fill="#009eff"/>
<rect x="102.0" y="272.7" width="23.0" height="10.0" fill="#0057ff"/>
<rect x="124.7" y="272.7" width="57.0" height="10.0" fill="#0014ff"/>
<rect x="181.3" y="272.7" width="79.6" height="10.0" fill="#0057ff"/>
<rect x="260.7" y="272.7" width="23.0" height="10.0" fill="#0014ff"/>
<rect x="283.3" y="272.7" width="23.0" height="10.0" fill="#0057ff"/>
<rect x="306.0" y="272.7" width="11.6" height="10.0" fill="#00d4ff"/>
<rect x="317.3" y="272.7" width="11.6" height="10.0" fill="#0057ff"/>
<rect x="328.7" y="272.7" width="23.0" height="10.0" fill="#0014ff"/>
<rect x="351.3" y="272.7" width="45.6" height="10.0" fill="#0057ff"/>
<rect x="396.7" y="272.7" width="20.7" height="10.0" fill="#ff9100"/>
<rect x="-9.1" y="282.5" width="111.4" height="10.0" fill="#009eff"/>
<rect x="102.0" y="282.5" width="23.0" height="10.0" fill="#0057ff"/>
<rect x="124.7" y="282.5" width="11.6" height="10.0" fill="#0014ff"/>
<rect x="136.0" y="282.5" width="11.6" height="10.0" fill="#0057ff"/>
<rect x="147.3" y="282.5" width="45.6" height="10.0" fill="#5effa2"/>
<rect x="192.7" y="282.5" width="34.3" height="10.0" fill="#009eff"/>
<rect x="226.7" y="282.5" width="68.3" height="10.0" fill="#0057ff"/>
<rect x="294.7" y="282.5" width="57.0" height="10.0" fill="#0014ff"/>
<rect x="351.3" y="282.5" width="11.6" height="10.0" fill="#009eff"/>
<rect x="362.7" y="282.5" width="23.0" height="10.0" fill="#0057ff"/>
<rect x="385.3" y="282.5" width="11.6" height="10.0" fill="#00d4ff"/>
<rect x="396.7" y="282.5" width="20.7" height="10.0" fill="#ff9100"/>
<rect x="-9.1" y="292.2" width="134.0" height="10.0" fill="#009eff"/>
<rect x="124.7" y="292.2" width="11.6" height="10.0" fill="#0057ff"/>
<rect x="136.0" y="292.2" width="11.6" height="10.0" fill="#009eff"/>
<rect x="147.3" y="292.2" width="45.6" height="10.0" fill="#e5ff1a"/>
<rect x="192.7" y="292.2" width="45.6" height="10.0" fill="#009eff"/>
<rect x="238.0" y="292.2" width="57.0" height="10.0" fill="#0057ff"/>
<rect x="294.7" y="292.2" width="57.0" height="10.0" fill="#0014ff"/>
<rect x="351.3" y="292.2" width="23.0" height="10.0" fill="#009eff"/>
<rect x="374.0" y="292.2" width="11.6" height="10.0" fill="#0057ff"/>
<rect x="385.3" y="292.2" width="11.6" height="10.0" fill="#009eff"/>
<rect x="396.7" y="292.2" width="20.7" height="10.0" fill="#5effa2"/>
<rect x="-9.1" y="302.0" width="179.4" height="17.8" fill="#ff9100"/>
<rect x="170.0" y="302.0" width="79.6" height="17.8" fill="#009eff"/>
<rect x="249.3" y="302.0" width="45.6" height="17.8" fill="#0057ff"/>
<rect x="294.7" y="302.0" width="57.0" height="17.8" fill="#0014ff"/>
<rect x="351.3" y="302.0" width="45.6" height="17.8" fill="#0057ff"/>
<rect x="396.7" y="302.0" width="20.7" height="17.8" fill="#009eff"/>
</g>
<path fill="#800000" d="M79.1 -0.2h11.7v10.1h-11.7zM283.1 -0.2h11.7v10.1h-11.7zM339.8 -0.2h34.4v10.1h-34.4zM71.7 1.6h7.6v6.5h-7.6zM272.0 0.0h11.3v9.7h-11.3zM374.0 0.8h9.5v8.1h-9.5zM283.1 9.5h11.7v10.1h-11.7zM272.0 9.7h11.3v9.7h-11.3zM340.0 9.7h11.3v9.7h-11.3zM352.3 9.7h9.5v8.1h-9.5zM271.8 19.3h11.7v10.1h-11.7zM339.8 19.3h11.7v10.1h-11.7zM351.3 19.5h11.3v9.7h-11.3zM271.8 29.0h11.7v10.1h-11.7zM351.1 29.0h11.7v10.1h-11.7zM362.7 30.0h9.5v8.1h-9.5zM271.8 38.8h23.1v10.1h-23.1zM305.8 38.8h45.7v10.1h-45.7zM294.7 39.8h9.5v8.1h-9.5zM363.6 40.6h9.5v8.1h-9.5zM362.5 48.5h34.4v10.1h-34.4zM340.9 48.7h9.5v8.1h-9.5zM396.7 48.7h11.3v9.7h-11.3zM339.8 58.2h11.7v10.1h-11.7zM339.8 68.0h11.7v10.1h-11.7zM362.5 68.0h45.7v10.1h-45.7zM351.3 69.0h9.5v8.1h-9.5zM385.1 77.7h23.1v10.1h-23.1zM374.0 77.9h11.3v9.7h-11.3zM373.8 87.5h11.7v10.1h-11.7zM396.5 87.5h11.7v10.1h-11.7zM1.9 89.3h7.6v6.5h-7.6zM12.3 88.5h9.5v8.1h-9.5zM385.3 87.7h11.3v9.7h-11.3zM33.8 106.9h11.7v10.1h-11.7zM192.5 106.9h11.7v10.1h-11.7zM57.6 107.9h9.5v8.1h-9.5zM102.0 107.1h11.3v9.7h-11.3zM204.0 107.9h9.5v8.1h-9.5zM329.6 107.9h9.5v8.1h-9.5zM351.3 107.1h11.3v9.7h-11.3zM33.8 116.7h11.7v10.1h-11.7zM373.8 116.7h11.7v10.1h-11.7zM45.3 118.5h7.6v6.5h-7.6zM181.3 116.9h11.3v9.7h-11.3zM193.6 116.9h9.5v8.1h-9.5zM204.9 117.7h9.5v8.1h-9.5zM341.9 118.5h7.6v6.5h-7.6zM351.3 116.9h11.3v9.7h-11.3zM366.4 118.5h7.6v6.5h-7.6zM0.9 127.4h9.5v8.1h-9.5zM24.5 129.8h7.6v6.5h-7.6zM149.2 128.2h7.6v6.5h-7.6zM181.3 126.6h11.3v9.7h-11.3zM194.5 128.2h7.6v6.5h-7.6zM375.9 126.6h7.6v6.5h-7.6zM385.3 126.6h11.3v9.7h-11.3zM11.1 136.2h34.4v10.1h-34.4zM396.5 136.2h11.7v10.1h-11.7zM171.9 138.0h7.6v6.5h-7.6zM182.3 137.2h9.5v8.1h-9.5zM227.6 137.2h9.5v8.1h-9.5zM387.2 137.2h9.5v8.1h-9.5zM396.5 145.9h11.7v10.1h-11.7zM45.3 146.1h11.3v9.7h-11.3zM171.9 147.7h7.6v6.5h-7.6zM-0.2 155.7h11.7v10.1h-11.7zM397.6 155.8h9.5v8.1h-9.5zM22.7 165.6h11.3v9.7h-11.3zM57.6 166.4h9.5v8.1h-9.5zM398.5 167.2h7.6v6.5h-7.6zM34.0 175.3h11.3v9.7h-11.3zM56.5 184.9h11.7v10.1h-11.7zM56.5 194.6h11.7v10.1h-11.7zM56.5 214.1h11.7v10.1h-11.7zM1.9 217.5h7.6v6.5h-7.6zM22.7 214.3h11.3v9.7h-11.3zM35.9 217.5h7.6v6.5h-7.6zM398.5 215.9h7.6v6.5h-7.6zM-0.2 223.8h23.1v10.1h-23.1zM33.8 223.8h11.7v10.1h-11.7zM56.5 223.8h11.7v10.1h-11.7zM158.5 223.8h11.7v10.1h-11.7zM398.5 225.6h7.6v6.5h-7.6zM45.1 233.6h23.1v10.1h-23.1zM147.1 233.6h11.7v10.1h-11.7zM11.3 233.8h11.3v9.7h-11.3zM137.9 234.6h9.5v8.1h-9.5zM158.7 233.8h9.5v8.1h-9.5zM147.1 243.3h11.7v10.1h-11.7zM22.7 243.5h11.3v9.7h-11.3zM47.2 243.5h7.6v6.5h-7.6zM137.9 244.3h9.5v8.1h-9.5zM158.7 244.3h9.5v8.1h-9.5zM11.1 253.1h11.7v10.1h-11.7zM181.1 253.1h11.7v10.1h-11.7zM22.7 253.3h11.3v9.7h-11.3zM47.2 256.5h7.6v6.5h-7.6zM147.3 253.3h11.3v9.7h-11.3zM159.6 254.8h9.5v8.1h-9.5zM192.7 253.3h11.3v9.7h-11.3zM-0.2 262.8h23.1v10.1h-23.1zM45.1 262.8h11.7v10.1h-11.7zM158.5 262.8h34.4v10.1h-34.4zM151.1 264.6h7.6v6.5h-7.6zM192.7 263.0h11.3v9.7h-11.3zM398.5 264.6h7.6v6.5h-7.6zM-0.2 272.5h11.7v10.1h-11.7zM45.1 272.5h11.7v10.1h-11.7zM158.5 272.5h11.7v10.1h-11.7zM151.1 274.3h7.6v6.5h-7.6zM193.6 273.5h9.5v8.1h-9.5zM-0.2 282.3h11.7v10.1h-11.7zM67.8 282.3h11.7v10.1h-11.7zM158.5 282.3h11.7v10.1h-11.7zM60.4 284.1h7.6v6.5h-7.6zM193.6 283.3h9.5v8.1h-9.5zM204.9 284.1h9.5v8.1h-9.5zM-0.2 292.0h11.7v10.1h-11.7zM22.5 292.0h34.4v10.1h-34.4zM67.8 292.0h23.1v10.1h-23.1zM158.5 292.0h11.7v10.1h-11.7zM203.8 292.0h11.7v10.1h-11.7zM11.1 301.8h23.1v10.1h-23.1zM79.1 301.8h11.7v10.1h-11.7zM135.8 301.8h11.7v10.1h-11.7zM158.5 301.8h11.7v10.1h-11.7zM3.7 302.0h7.6v6.5h-7.6zM34.0 302.0h11.3v9.7h-11.3zM90.7 303.6h7.6v6.5h-7.6zM103.9 303.6h7.6v6.5h-7.6zM128.4 303.6h7.6v6.5h-7.6zM147.3 303.6h7.6v6.5h-7.6zM205.9 302.0h7.6v6.5h-7.6z"/>
<path fill="#fff" d="M294.5 -0.2h45.7v10.1h-45.7zM294.5 9.5h45.7v10.1h-45.7zM283.1 19.3h57.1v10.1h-57.1zM283.1 29.0h68.4v10.1h-68.4zM351.1 38.8h11.7v10.1h-11.7zM351.1 48.5h11.7v10.1h-11.7zM351.1 58.2h57.1v10.1h-57.1zM-0.2 77.7h11.7v10.1h-11.7zM362.5 106.9h11.7v10.1h-11.7zM33.8 126.4h11.7v10.1h-11.7zM-0.2 136.2h11.7v10.1h-11.7zM-0.2 145.9h45.7v10.1h-45.7zM11.1 155.7h34.4v10.1h-34.4zM33.8 165.4h23.1v10.1h-23.1zM45.1 175.1h23.1v10.1h-23.1zM22.5 223.8h11.7v10.1h-11.7zM45.1 223.8h11.7v10.1h-11.7zM22.5 233.6h23.1v10.1h-23.1zM33.8 243.3h11.7v10.1h-11.7zM33.8 253.1h11.7v10.1h-11.7zM22.5 262.8h23.1v10.1h-23.1zM11.1 272.5h34.4v10.1h-34.4zM169.8 272.5h23.1v10.1h-23.1zM11.1 282.3h45.7v10.1h-45.7zM169.8 282.3h23.1v10.1h-23.1zM11.1 292.0h11.7v10.1h-11.7zM56.5 292.0h11.7v10.1h-11.7zM169.8 292.0h34.4v10.1h-34.4zM45.1 301.8h34.4v10.1h-34.4zM169.8 301.8h34.4v10.1h-34.4z"/>
<use href="#geo" transform="matrix(1.129 0 0 -1.975 203.78 160.96)"/>
</g>
</svg>
<div class="ax" style="left:493.5px;top:202.0px;width:409.0px;height:308.0px"></div>
<div class="t sm r" style="left:488.0px;top:198.0px;font-size:10px;">80&deg;</div>
<div class="t sm r" style="left:488.0px;top:237.5px;font-size:10px;">60&deg;</div>
<div class="t sm r" style="left:488.0px;top:277.0px;font-size:10px;">40&deg;</div>
<div class="t sm r" style="left:488.0px;top:316.5px;font-size:10px;">20&deg;</div>
<div class="t sm r" style="left:488.0px;top:356.0px;font-size:10px;">0&deg;</div>
<div class="t sm r" style="left:488.0px;top:395.5px;font-size:10px;">-20&deg;</div>
<div class="t sm r" style="left:488.0px;top:435.0px;font-size:10px;">-40&deg;</div>
<div class="t sm r" style="left:488.0px;top:474.5px;font-size:10px;">-60&deg;</div>
<div class="t sm c" style="left:526.9px;top:514.5px;font-size:10px;">-150&deg;</div>
<div class="t sm c" style="left:583.4px;top:514.5px;font-size:10px;">-100&deg;</div>
<div class="t sm c" style="left:639.8px;top:514.5px;font-size:10px;">-50&deg;</div>
<div class="t sm c" style="left:696.3px;top:514.5px;font-size:10px;">0&deg;</div>
<div class="t sm c" style="left:752.7px;top:514.5px;font-size:10px;">50&deg;</div>
<div class="t sm c" style="left:809.2px;top:514.5px;font-size:10px;">100&deg;</div>
<div class="t sm c" style="left:865.6px;top:514.5px;font-size:10px;">150&deg;</div>
<div class="t sm c" style="left:697.8px;top:529.5px;font-size:9.6px;">Longitude</div>
<div class="t sm" style="left:448.0px;top:375.1px;font-size:10px;transform:rotate(-90deg);">Latitude</div>
<div class="cb" style="left:911.8px;top:202.5px;width:21.2px;height:305.5px"></div>
<div class="ax" style="left:911.8px;top:202.5px;width:21.2px;height:305.5px;border-color:rgba(60,20,20,0.45)"></div>
<div class="t sm " style="left:940.8px;top:503.4px;font-size:8.9px;">0</div>
<div class="t sm " style="left:940.8px;top:452.5px;font-size:8.9px;">5</div>
<div class="t sm " style="left:940.8px;top:401.6px;font-size:8.9px;">10</div>
<div class="t sm " style="left:940.8px;top:350.6px;font-size:8.9px;">15</div>
<div class="t sm " style="left:940.8px;top:299.7px;font-size:8.9px;">20</div>
<div class="t sm " style="left:940.8px;top:248.8px;font-size:8.9px;">25</div>
<div class="t sm " style="left:940.8px;top:197.9px;font-size:8.9px;">30</div>
<div class="t sm" style="left:952.8px;top:369.2px;font-size:10px;transform:rotate(-90deg);">TECU</div>
<div style="position:absolute;left:861.0px;top:205.0px;width:36px;height:36px;border-radius:50%;background:#1467a6;color:#fff;font:bold 10.5px/36px 'Liberation Sans',sans-serif;text-align:center;letter-spacing:-0.3px">gAGE</div>
<div class="ax" style="left:1039.5px;top:200.1px;width:409.0px;height:287.0px"></div>
<div class="t sm r" style="left:1034.0px;top:195.0px;font-size:10px;">80&deg;</div>
<div class="t sm r" style="left:1034.0px;top:232.0px;font-size:10px;">60&deg;</div>
<div class="t sm r" style="left:1034.0px;top:269.0px;font-size:10px;">40&deg;</div>
<div class="t sm r" style="left:1034.0px;top:306.0px;font-size:10px;">20&deg;</div>
<div class="t sm r" style="left:1034.0px;top:343.0px;font-size:10px;">0&deg;</div>
<div class="t sm r" style="left:1034.0px;top:380.0px;font-size:10px;">-20&deg;</div>
<div class="t sm r" style="left:1034.0px;top:417.0px;font-size:10px;">-40&deg;</div>
<div class="t sm r" style="left:1034.0px;top:454.0px;font-size:10px;">-60&deg;</div>
<div class="t sm c" style="left:1072.9px;top:491.6px;font-size:10px;">-150&deg;</div>
<div class="t sm c" style="left:1129.4px;top:491.6px;font-size:10px;">-100&deg;</div>
<div class="t sm c" style="left:1185.8px;top:491.6px;font-size:10px;">-50&deg;</div>
<div class="t sm c" style="left:1242.3px;top:491.6px;font-size:10px;">0&deg;</div>
<div class="t sm c" style="left:1298.7px;top:491.6px;font-size:10px;">50&deg;</div>
<div class="t sm c" style="left:1355.2px;top:491.6px;font-size:10px;">100&deg;</div>
<div class="t sm c" style="left:1411.6px;top:491.6px;font-size:10px;">150&deg;</div>
<div class="t sm c" style="left:1243.8px;top:506.6px;font-size:9.6px;">Longitude</div>
<div class="t sm" style="left:994.0px;top:362.7px;font-size:10px;transform:rotate(-90deg);">Latitude</div>
<div class="cb" style="left:1457.8px;top:200.6px;width:21.2px;height:284.5px"></div>
<div class="ax" style="left:1457.8px;top:200.6px;width:21.2px;height:284.5px;border-color:rgba(60,20,20,0.45)"></div>
<div class="t sm " style="left:1486.8px;top:480.5px;font-size:8.9px;">0</div>
<div class="t sm " style="left:1486.8px;top:423.6px;font-size:8.9px;">2</div>
<div class="t sm " style="left:1486.8px;top:366.7px;font-size:8.9px;">4</div>
<div class="t sm " style="left:1486.8px;top:309.8px;font-size:8.9px;">6</div>
<div class="t sm " style="left:1486.8px;top:252.9px;font-size:8.9px;">8</div>
<div class="t sm " style="left:1486.8px;top:196.0px;font-size:8.9px;">10</div>
<div class="t sm" style="left:1498.8px;top:356.9px;font-size:10px;transform:rotate(-90deg);">TECU</div>
<div style="position:absolute;left:1407.0px;top:203.1px;width:36px;height:36px;border-radius:50%;background:#1467a6;color:#fff;font:bold 10.5px/36px 'Liberation Sans',sans-serif;text-align:center;letter-spacing:-0.3px">gAGE</div>
<div class="ax" style="left:493.5px;top:559.7px;width:409.0px;height:308.0px"></div>
<div class="t sm r" style="left:488.0px;top:555.5px;font-size:10px;">80&deg;</div>
<div class="t sm r" style="left:488.0px;top:595.1px;font-size:10px;">60&deg;</div>
<div class="t sm r" style="left:488.0px;top:634.7px;font-size:10px;">40&deg;</div>
<div class="t sm r" style="left:488.0px;top:674.3px;font-size:10px;">20&deg;</div>
<div class="t sm r" style="left:488.0px;top:713.9px;font-size:10px;">0&deg;</div>
<div class="t sm r" style="left:488.0px;top:753.5px;font-size:10px;">-20&deg;</div>
<div class="t sm r" style="left:488.0px;top:793.1px;font-size:10px;">-40&deg;</div>
<div class="t sm r" style="left:488.0px;top:832.7px;font-size:10px;">-60&deg;</div>
<div class="t sm c" style="left:526.9px;top:872.2px;font-size:10px;">-150&deg;</div>
<div class="t sm c" style="left:583.4px;top:872.2px;font-size:10px;">-100&deg;</div>
<div class="t sm c" style="left:639.8px;top:872.2px;font-size:10px;">-50&deg;</div>
<div class="t sm c" style="left:696.3px;top:872.2px;font-size:10px;">0&deg;</div>
<div class="t sm c" style="left:752.7px;top:872.2px;font-size:10px;">50&deg;</div>
<div class="t sm c" style="left:809.2px;top:872.2px;font-size:10px;">100&deg;</div>
<div class="t sm c" style="left:865.6px;top:872.2px;font-size:10px;">150&deg;</div>
<div class="t sm c" style="left:697.8px;top:887.2px;font-size:9.6px;">Longitude</div>
<div class="t sm" style="left:448.0px;top:732.8px;font-size:10px;transform:rotate(-90deg);">Latitude</div>
<div class="cb" style="left:911.8px;top:560.2px;width:21.2px;height:305.5px"></div>
<div class="ax" style="left:911.8px;top:560.2px;width:21.2px;height:305.5px;border-color:rgba(60,20,20,0.45)"></div>
<div class="t sm " style="left:940.8px;top:861.1px;font-size:8.9px;">-10</div>
<div class="t sm " style="left:940.8px;top:810.2px;font-size:8.9px;">0</div>
<div class="t sm " style="left:940.8px;top:759.3px;font-size:8.9px;">10</div>
<div class="t sm " style="left:940.8px;top:708.4px;font-size:8.9px;">20</div>
<div class="t sm " style="left:940.8px;top:657.4px;font-size:8.9px;">30</div>
<div class="t sm " style="left:940.8px;top:606.5px;font-size:8.9px;">40</div>
<div class="t sm " style="left:940.8px;top:555.6px;font-size:8.9px;">50</div>
<div class="t sm" style="left:952.8px;top:727.0px;font-size:10px;transform:rotate(-90deg);">TECU</div>
<div style="position:absolute;left:861.0px;top:562.7px;width:36px;height:36px;border-radius:50%;background:#1467a6;color:#fff;font:bold 10.5px/36px 'Liberation Sans',sans-serif;text-align:center;letter-spacing:-0.3px">gAGE</div>
<div class="ax" style="left:1039.5px;top:557.5px;width:409.0px;height:307.7px"></div>
<div class="t sm r" style="left:1034.0px;top:553.0px;font-size:10px;">80&deg;</div>
<div class="t sm r" style="left:1034.0px;top:592.5px;font-size:10px;">60&deg;</div>
<div class="t sm r" style="left:1034.0px;top:632.0px;font-size:10px;">40&deg;</div>
<div class="t sm r" style="left:1034.0px;top:671.5px;font-size:10px;">20&deg;</div>
<div class="t sm r" style="left:1034.0px;top:711.0px;font-size:10px;">0&deg;</div>
<div class="t sm r" style="left:1034.0px;top:750.5px;font-size:10px;">-20&deg;</div>
<div class="t sm r" style="left:1034.0px;top:790.0px;font-size:10px;">-40&deg;</div>
<div class="t sm r" style="left:1034.0px;top:829.5px;font-size:10px;">-60&deg;</div>
<div class="t sm c" style="left:1072.9px;top:869.7px;font-size:10px;">-150&deg;</div>
<div class="t sm c" style="left:1129.4px;top:869.7px;font-size:10px;">-100&deg;</div>
<div class="t sm c" style="left:1185.8px;top:869.7px;font-size:10px;">-50&deg;</div>
<div class="t sm c" style="left:1242.3px;top:869.7px;font-size:10px;">0&deg;</div>
<div class="t sm c" style="left:1298.7px;top:869.7px;font-size:10px;">50&deg;</div>
<div class="t sm c" style="left:1355.2px;top:869.7px;font-size:10px;">100&deg;</div>
<div class="t sm c" style="left:1411.6px;top:869.7px;font-size:10px;">150&deg;</div>
<div class="t sm c" style="left:1243.8px;top:884.7px;font-size:9.6px;">Longitude</div>
<div class="t sm" style="left:994.0px;top:730.5px;font-size:10px;transform:rotate(-90deg);">Latitude</div>
<div class="cb" style="left:1457.8px;top:558.0px;width:21.2px;height:305.2px"></div>
<div class="ax" style="left:1457.8px;top:558.0px;width:21.2px;height:305.2px;border-color:rgba(60,20,20,0.45)"></div>
<div class="t sm " style="left:1486.8px;top:858.6px;font-size:8.9px;">0</div>
<div class="t sm " style="left:1486.8px;top:797.6px;font-size:8.9px;">2</div>
<div class="t sm " style="left:1486.8px;top:736.5px;font-size:8.9px;">4</div>
<div class="t sm " style="left:1486.8px;top:675.5px;font-size:8.9px;">6</div>
<div class="t sm " style="left:1486.8px;top:614.4px;font-size:8.9px;">8</div>
<div class="t sm " style="left:1486.8px;top:553.4px;font-size:8.9px;">10</div>
<div class="t sm" style="left:1498.8px;top:724.6px;font-size:10px;transform:rotate(-90deg);">TECU</div>
<div style="position:absolute;left:1407.0px;top:560.5px;width:36px;height:36px;border-radius:50%;background:#1467a6;color:#fff;font:bold 10.5px/36px 'Liberation Sans',sans-serif;text-align:center;letter-spacing:-0.3px">gAGE</div>
<div class="t sm c" style="left:698.0px;top:540.2px;font-size:9.55px;">First layer Ionospheric map at 300 seconds of the day 075 (2024)</div>
<div class="t sm c" style="left:1243.5px;top:537.7px;font-size:9.55px;">First layer Ionospheric sigmas-map at 300 seconds of the day 075 (2024)</div>
<svg class="hm" style="left:0;top:0" width="520" height="898" viewBox="0 0 520 898">
<defs>
<clipPath id="ce"><circle cx="37" cy="867" r="222"/></clipPath>
<clipPath id="ch"><circle cx="-39.4" cy="757" r="96.5"/></clipPath>
<g id="wat"><polygon points="209.0,659.9 167.2,688.2 158.2,683.7 149.3,686.7 138.8,688.2 132.8,695.1 125.4,694.2 119.4,702.2 111.9,700.1 106.9,691.2 111.0,683.1 98.5,679.3 86.6,674.8 68.7,677.8 53.7,682.2 44.8,689.7 35.8,701.6 23.9,708.2 17.9,717.2 22.4,727.0 29.9,724.9 35.2,730.0 32.2,741.0 40.3,744.0 29.9,747.9 17.9,750.9 9.0,756.9 4.5,761.3 3.0,750.9 -1.5,749.4 -11.9,762.8 -59.7,809.1 -119.4,719.6 -29.9,600.1 119.4,600.1"/><polygon points="64.2,700.1 73.1,696.3 80.0,699.3 72.2,708.2 69.3,716.6 76.1,719.6 96.1,718.7 89.6,722.5 79.1,724.9 81.2,730.0 73.1,732.1 70.1,742.5 64.2,744.0 61.8,735.1 55.8,733.6 52.8,741.0 44.8,745.5 40.3,744.0 44.8,737.5 53.7,730.6 58.2,719.6 59.7,709.1"/><polygon points="-11.9,809.1 0.0,802.5 10.4,791.8 28.4,791.8 35.2,800.7 41.8,797.2 44.8,808.5 55.2,816.6 44.8,821.0 35.8,828.5 17.9,815.7 6.0,811.2 -11.9,821.0"/><polygon points="35.8,828.5 44.8,821.0 55.2,816.6 64.2,821.0 74.6,824.6 89.6,826.1 104.5,821.6 121.8,817.5 120.0,828.5 113.4,839.0 98.5,838.1 86.6,836.0 74.6,834.8 65.7,842.5 50.7,836.0"/><polygon points="43.3,783.7 49.3,782.8 64.2,801.6 71.6,809.1 75.2,821.6 67.2,821.6 61.2,809.1 50.7,797.2"/><polygon points="76.1,803.1 88.7,800.7 89.6,809.1 85.1,821.0 79.1,823.1 80.6,812.1"/><polygon points="94.0,793.3 103.0,777.8 111.9,779.9 117.9,777.8 130.4,775.4 123.9,782.2 131.3,788.2 140.9,795.7 131.3,800.7 113.4,797.2 101.5,802.2"/><polygon points="158.2,783.7 167.2,777.8 178.2,779.3 174.6,788.2 182.7,800.1 181.2,815.1 173.1,818.7 167.2,809.1 163.6,795.7"/><polygon points="109.0,843.4 114.9,851.5 119.4,847.9 126.0,865.8 134.9,883.7 141.8,900.1 129.0,900.1 122.4,880.7 114.9,861.3"/><polygon points="165.7,843.4 171.6,849.4 179.1,858.4 191.0,856.9 206.0,865.8 206.0,870.3 185.1,865.8 176.1,867.9 167.2,853.9"/><polygon points="177.6,900.1 191.0,886.7 203.0,881.3 226.9,877.8 238.8,900.1"/></g>
<g id="isl"><polygon points="35.8,644.9 53.7,642.5 73.1,647.9 64.2,652.4 55.2,650.3 47.8,653.9 40.3,648.5"/></g>
<filter id="ds" x="-10%" y="-10%" width="130%" height="130%"><feGaussianBlur in="SourceAlpha" stdDeviation="1.5"/><feOffset dx="2" dy="2"/><feComponentTransfer><feFuncA type="linear" slope="0.35"/></feComponentTransfer><feMerge><feMergeNode/><feMergeNode in="SourceGraphic"/></feMerge></filter>
<path id="tp2" d="M -143.00 556.30 A 371 371 0 0 1 413.5 877.6" fill="none"/>
<path id="tp1" d="M -104.50 649.50 A 265 265 0 0 1 293 879" fill="none"/>
</defs>
<circle cx="42.5" cy="877.6" r="358" fill="#fdecec" stroke="#c00000" stroke-width="4"/>
<circle cx="28" cy="879" r="253.7" fill="#e4e4e4" stroke="#c00000" stroke-width="3.6"/>
<g clip-path="url(#ce)">
<rect x="-200" y="600" width="520" height="320" fill="#a3f34f"/>
<use href="#wat" fill="#0c9be3"/><use href="#isl" fill="#a3f34f"/>
<g clip-path="url(#ch)"><rect x="-200" y="600" width="520" height="320" fill="#d5fa5c"/><use href="#wat" fill="#10b9f6"/></g>
<path d="M -185 867 a 222 222 0 1 0 444 0 a 222 222 0 1 0 -444 0 Z M -232 822 a 222 222 0 1 0 444 0 a 222 222 0 1 0 -444 0 Z" fill-rule="evenodd" fill="#1d4a12" fill-opacity="0.24"/>
</g>
<text font-family="Liberation Sans, sans-serif" font-size="43" fill="#000"><textPath href="#tp2" startOffset="204.3" textLength="394.7" lengthAdjust="spacingAndGlyphs">Second Layer 1600km</textPath></text>
<text font-family="Liberation Sans, sans-serif" font-size="38.5" fill="#000"><textPath href="#tp1" startOffset="169.3" textLength="284.4" lengthAdjust="spacingAndGlyphs">First Layer 270km</textPath></text>
<polygon filter="url(#ds)" fill="#3333f7" points="262.0,544.4 427.1,446.1 433.5,456.8 456.4,420.9 413.9,423.9 420.3,434.7 255.2,533.0"/>
<polygon filter="url(#ds)" fill="#ff0000" points="290.5,824.6 453.0,733.2 459.1,744.1 482.9,708.7 440.3,710.7 446.4,721.6 283.9,813.0"/>
</svg>
</body></html>
